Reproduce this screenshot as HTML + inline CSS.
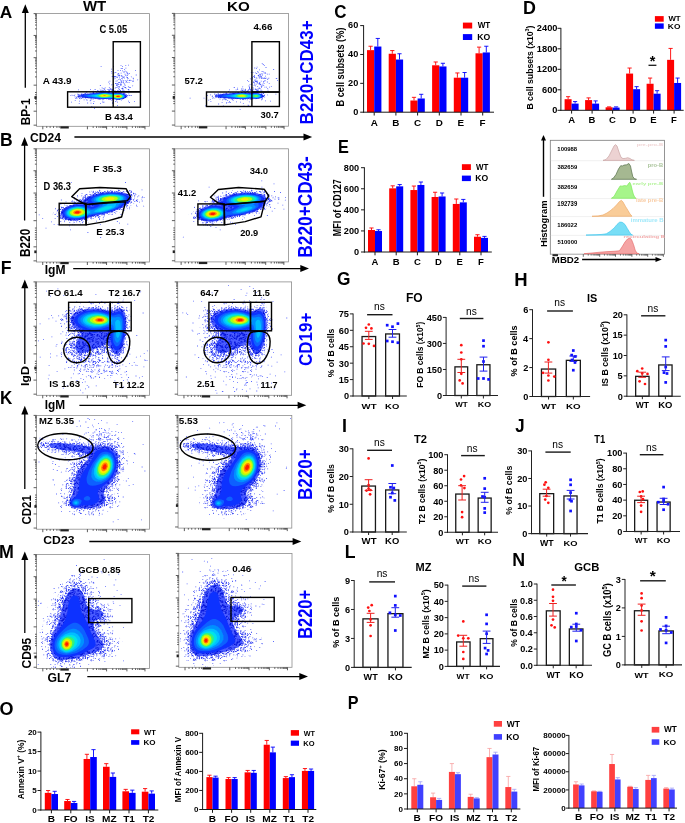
<!DOCTYPE html><html><head><meta charset="utf-8"><style>html,body{margin:0;padding:0;background:#fff;}svg{display:block;font-family:"Liberation Sans",sans-serif;will-change:transform;}</style></head><body>
<svg width="685" height="823" viewBox="0 0 685 823">
<defs><filter id="blur" x="-20%" y="-20%" width="140%" height="140%"><feGaussianBlur stdDeviation="0.35"/></filter><pattern id="p1" patternUnits="userSpaceOnUse" width="19" height="17"><path d="M12.4 0.9h0.8v0.8h-0.8zM4 3h0.8v0.8h-0.8zM3.2 13.2h0.8v0.8h-0.8zM16.8 4.5h0.8v0.8h-0.8zM14.9 14.4h0.8v0.8h-0.8zM9.3 4h0.8v0.8h-0.8zM15 3.5h0.8v0.8h-0.8zM13.5 10.2h0.8v0.8h-0.8zM16.9 3.8h0.8v0.8h-0.8zM14.5 8.4h0.8v0.8h-0.8zM4.2 2.7h0.8v0.8h-0.8zM9.1 9.4h0.8v0.8h-0.8zM3.4 0.2h0.8v0.8h-0.8zM8.6 11.8h0.8v0.8h-0.8zM16.7 10.1h0.8v0.8h-0.8zM16.7 14h0.8v0.8h-0.8zM4 14h0.8v0.8h-0.8zM13.3 4.5h0.8v0.8h-0.8zM14.5 14h0.8v0.8h-0.8zM5.4 8.5h0.8v0.8h-0.8zM1.3 9.4h0.8v0.8h-0.8zM4.3 12.4h0.8v0.8h-0.8z" fill="#1828f0"/></pattern><pattern id="p2" patternUnits="userSpaceOnUse" width="19" height="17"><path d="M3.2 5.1h0.8v0.8h-0.8zM0.3 0.5h0.8v0.8h-0.8zM9 7.6h0.8v0.8h-0.8zM2.3 4.2h0.8v0.8h-0.8zM0.1 6.2h0.8v0.8h-0.8zM10.5 6.9h0.8v0.8h-0.8zM15.2 10h0.8v0.8h-0.8zM4.8 13.1h0.8v0.8h-0.8zM9.1 12.3h0.8v0.8h-0.8zM10.3 7.1h0.8v0.8h-0.8zM7.2 0.4h0.8v0.8h-0.8zM8.5 10.1h0.8v0.8h-0.8zM17.2 7.1h0.8v0.8h-0.8zM8.8 8.4h0.8v0.8h-0.8zM7.4 9.4h0.8v0.8h-0.8zM1.3 7.9h0.8v0.8h-0.8zM11.1 12.1h0.8v0.8h-0.8zM7.8 4.9h0.8v0.8h-0.8zM0.1 12.3h0.8v0.8h-0.8zM1.4 7.9h0.8v0.8h-0.8zM5.5 13.6h0.8v0.8h-0.8zM17.3 5.2h0.8v0.8h-0.8zM16.3 5.5h0.8v0.8h-0.8zM14.8 12.9h0.8v0.8h-0.8zM11.9 3.7h0.8v0.8h-0.8zM2.5 6.9h0.8v0.8h-0.8zM2.8 14.1h0.8v0.8h-0.8zM3.3 0.5h0.8v0.8h-0.8zM10.2 6.9h0.8v0.8h-0.8zM15.6 2.6h0.8v0.8h-0.8zM6.6 10.4h0.8v0.8h-0.8zM16.9 4.2h0.8v0.8h-0.8zM12.5 2.4h0.8v0.8h-0.8zM13.5 4.7h0.8v0.8h-0.8zM4.4 3.7h0.8v0.8h-0.8zM6.7 5.3h0.8v0.8h-0.8zM11.2 8.8h0.8v0.8h-0.8zM13.6 4.8h0.8v0.8h-0.8zM17.5 8.8h0.8v0.8h-0.8zM12.4 11.1h0.8v0.8h-0.8zM2.8 2.3h0.8v0.8h-0.8zM8.4 8.5h0.8v0.8h-0.8zM5 2.9h0.8v0.8h-0.8zM9.2 10.7h0.8v0.8h-0.8zM4.2 3.5h0.8v0.8h-0.8zM17.4 11.7h0.8v0.8h-0.8zM0.6 15.9h0.8v0.8h-0.8zM0.2 4.3h0.8v0.8h-0.8zM16.7 1.3h0.8v0.8h-0.8zM15.6 2.3h0.8v0.8h-0.8zM3.3 12.7h0.8v0.8h-0.8zM16.3 7.5h0.8v0.8h-0.8zM0.7 5.1h0.8v0.8h-0.8zM0.3 5.7h0.8v0.8h-0.8zM12 4.3h0.8v0.8h-0.8z" fill="#1828f0"/></pattern><pattern id="p3" patternUnits="userSpaceOnUse" width="19" height="17"><path d="M11.8 14.9h0.9v0.9h-0.9zM8.4 3.3h0.9v0.9h-0.9zM16.7 15.2h0.9v0.9h-0.9zM2.4 14.5h0.9v0.9h-0.9zM5.3 2.1h0.9v0.9h-0.9zM2.1 12.2h0.9v0.9h-0.9zM1.6 12.3h0.9v0.9h-0.9zM4.3 6.7h0.9v0.9h-0.9zM2.6 10.5h0.9v0.9h-0.9zM8.3 6.3h0.9v0.9h-0.9zM14.6 7.4h0.9v0.9h-0.9zM12.5 12.6h0.9v0.9h-0.9zM11.1 15.5h0.9v0.9h-0.9zM10 3.5h0.9v0.9h-0.9zM9.8 3.9h0.9v0.9h-0.9zM1.5 12.2h0.9v0.9h-0.9zM4.8 5h0.9v0.9h-0.9zM17.9 6.4h0.9v0.9h-0.9zM8 14.8h0.9v0.9h-0.9zM14.3 13.8h0.9v0.9h-0.9zM8.5 3.4h0.9v0.9h-0.9zM1.2 1.3h0.9v0.9h-0.9zM2.5 4.3h0.9v0.9h-0.9zM14.1 3.7h0.9v0.9h-0.9zM7.6 7.4h0.9v0.9h-0.9zM5.6 2.8h0.9v0.9h-0.9zM4.9 13.7h0.9v0.9h-0.9zM18 6h0.9v0.9h-0.9zM8.4 5.4h0.9v0.9h-0.9zM6.6 11.1h0.9v0.9h-0.9zM13.3 5.1h0.9v0.9h-0.9zM2.6 11.4h0.9v0.9h-0.9zM8 14.8h0.9v0.9h-0.9zM7.4 0.4h0.9v0.9h-0.9zM13.1 15.9h0.9v0.9h-0.9zM8.4 15.3h0.9v0.9h-0.9zM2.9 3.4h0.9v0.9h-0.9zM6.2 6.5h0.9v0.9h-0.9zM16.3 15.7h0.9v0.9h-0.9zM9.2 11.2h0.9v0.9h-0.9zM11.4 13.9h0.9v0.9h-0.9zM2 9h0.9v0.9h-0.9zM14.6 12.5h0.9v0.9h-0.9zM13.9 15.8h0.9v0.9h-0.9zM0.5 1.7h0.9v0.9h-0.9zM2.8 9.4h0.9v0.9h-0.9zM7.8 1h0.9v0.9h-0.9zM5.1 6.3h0.9v0.9h-0.9zM9.2 12.2h0.9v0.9h-0.9zM8.9 13.3h0.9v0.9h-0.9zM9.8 5.8h0.9v0.9h-0.9zM14.6 3h0.9v0.9h-0.9zM16.1 10.8h0.9v0.9h-0.9zM17.3 3.4h0.9v0.9h-0.9zM4.2 7.4h0.9v0.9h-0.9zM2.7 0.6h0.9v0.9h-0.9zM6.4 12.1h0.9v0.9h-0.9zM16.1 3.8h0.9v0.9h-0.9zM17.1 1.3h0.9v0.9h-0.9zM1.4 11.4h0.9v0.9h-0.9zM1.2 15.6h0.9v0.9h-0.9zM5 2.1h0.9v0.9h-0.9zM13.9 6.8h0.9v0.9h-0.9zM16.3 7.9h0.9v0.9h-0.9zM0.1 2.6h0.9v0.9h-0.9zM1.8 2.9h0.9v0.9h-0.9zM4.9 1.2h0.9v0.9h-0.9zM15.9 10.8h0.9v0.9h-0.9zM8 14.5h0.9v0.9h-0.9zM11.1 11h0.9v0.9h-0.9zM12.9 7.1h0.9v0.9h-0.9zM5.3 14.3h0.9v0.9h-0.9zM6.7 7h0.9v0.9h-0.9zM5 8.9h0.9v0.9h-0.9zM9.7 7h0.9v0.9h-0.9zM6.4 8.7h0.9v0.9h-0.9zM6.9 12.5h0.9v0.9h-0.9zM2.8 11.6h0.9v0.9h-0.9zM3.8 15h0.9v0.9h-0.9zM7 5.2h0.9v0.9h-0.9zM16.3 0.8h0.9v0.9h-0.9zM17.7 15h0.9v0.9h-0.9zM12 9.2h0.9v0.9h-0.9zM9.5 1.3h0.9v0.9h-0.9zM1.6 11.1h0.9v0.9h-0.9zM17.3 8.2h0.9v0.9h-0.9zM0 13.3h0.9v0.9h-0.9zM15 5.4h0.9v0.9h-0.9zM12.3 2.3h0.9v0.9h-0.9zM3 11.5h0.9v0.9h-0.9zM9.2 9.5h0.9v0.9h-0.9zM9.5 15.1h0.9v0.9h-0.9zM14.3 14.5h0.9v0.9h-0.9zM5.3 15.8h0.9v0.9h-0.9zM14.8 1.6h0.9v0.9h-0.9zM1.6 3.1h0.9v0.9h-0.9zM6.1 3.5h0.9v0.9h-0.9zM0.9 7.2h0.9v0.9h-0.9zM4.8 7.4h0.9v0.9h-0.9zM14.2 5.2h0.9v0.9h-0.9zM0.7 13.4h0.9v0.9h-0.9zM8.9 3.9h0.9v0.9h-0.9zM16.8 11.8h0.9v0.9h-0.9zM7.6 5.6h0.9v0.9h-0.9zM1.3 4.6h0.9v0.9h-0.9zM13 1.2h0.9v0.9h-0.9zM6.8 9.5h0.9v0.9h-0.9zM13.4 12h0.9v0.9h-0.9zM5.3 5.3h0.9v0.9h-0.9zM2.8 11.7h0.9v0.9h-0.9z" fill="#1828f0"/></pattern><pattern id="p4" patternUnits="userSpaceOnUse" width="19" height="17"><rect width="19" height="17" fill="#4a5cff"/><path d="M4.8 7.7h1.0v1.0h-1.0zM16.2 0.1h1.0v1.0h-1.0zM15.4 11.8h1.0v1.0h-1.0zM11.6 6.5h1.0v1.0h-1.0zM11.2 15.2h1.0v1.0h-1.0zM1.7 1.1h1.0v1.0h-1.0zM6.1 1.6h1.0v1.0h-1.0zM16.5 12.6h1.0v1.0h-1.0zM2.9 6h1.0v1.0h-1.0zM7.5 15.3h1.0v1.0h-1.0zM5.9 7.7h1.0v1.0h-1.0zM9.5 12.5h1.0v1.0h-1.0zM15.6 10.7h1.0v1.0h-1.0zM6.5 3.7h1.0v1.0h-1.0zM7.2 9.2h1.0v1.0h-1.0zM13.8 15.4h1.0v1.0h-1.0zM15.7 12.6h1.0v1.0h-1.0zM16.2 11.1h1.0v1.0h-1.0zM17 8.2h1.0v1.0h-1.0zM1.6 11.7h1.0v1.0h-1.0zM17.1 0.5h1.0v1.0h-1.0zM11.2 4.9h1.0v1.0h-1.0zM7.3 14.7h1.0v1.0h-1.0zM6 10h1.0v1.0h-1.0zM7.6 14.8h1.0v1.0h-1.0zM6.6 1.6h1.0v1.0h-1.0zM7.5 6.5h1.0v1.0h-1.0zM15.9 5.3h1.0v1.0h-1.0zM5.3 6.5h1.0v1.0h-1.0zM12.4 6.8h1.0v1.0h-1.0zM9.4 11.4h1.0v1.0h-1.0zM0.5 2.1h1.0v1.0h-1.0zM13.1 14.5h1.0v1.0h-1.0zM15.6 11.3h1.0v1.0h-1.0zM17.7 13.6h1.0v1.0h-1.0zM12.5 10.2h1.0v1.0h-1.0zM15.4 14.1h1.0v1.0h-1.0zM4.9 13.7h1.0v1.0h-1.0zM10.6 0h1.0v1.0h-1.0zM3.5 12.5h1.0v1.0h-1.0zM6.2 13.5h1.0v1.0h-1.0zM10.8 15.8h1.0v1.0h-1.0zM13.7 1.5h1.0v1.0h-1.0zM15.1 10.6h1.0v1.0h-1.0zM4 8.3h1.0v1.0h-1.0zM2.9 6h1.0v1.0h-1.0zM13.4 7.3h1.0v1.0h-1.0zM11.9 14.4h1.0v1.0h-1.0zM12.6 1.5h1.0v1.0h-1.0zM7.4 5.1h1.0v1.0h-1.0zM8.6 14.3h1.0v1.0h-1.0zM6.2 11.9h1.0v1.0h-1.0zM8.4 13.4h1.0v1.0h-1.0zM4.2 8.4h1.0v1.0h-1.0zM11.4 6h1.0v1.0h-1.0zM10.1 4.7h1.0v1.0h-1.0zM17.8 11h1.0v1.0h-1.0zM11.3 15h1.0v1.0h-1.0zM7.9 15.7h1.0v1.0h-1.0zM1.6 15.8h1.0v1.0h-1.0zM13 9.3h1.0v1.0h-1.0zM6.4 3.2h1.0v1.0h-1.0zM17.7 3.8h1.0v1.0h-1.0zM15.8 0.9h1.0v1.0h-1.0zM14.4 13.9h1.0v1.0h-1.0zM4.4 15.6h1.0v1.0h-1.0zM6.7 2.5h1.0v1.0h-1.0zM7.6 15.6h1.0v1.0h-1.0zM2 11.1h1.0v1.0h-1.0zM2.4 11h1.0v1.0h-1.0zM2.8 15.1h1.0v1.0h-1.0zM16.4 15.8h1.0v1.0h-1.0zM15.8 6.2h1.0v1.0h-1.0zM8.4 5h1.0v1.0h-1.0zM8.9 3.8h1.0v1.0h-1.0zM17.3 6.7h1.0v1.0h-1.0zM6 15h1.0v1.0h-1.0zM6.3 6.7h1.0v1.0h-1.0zM11.3 11.7h1.0v1.0h-1.0zM7.7 3.6h1.0v1.0h-1.0zM11.2 2.7h1.0v1.0h-1.0zM11.1 10.3h1.0v1.0h-1.0zM11.5 5.6h1.0v1.0h-1.0zM7.1 4.2h1.0v1.0h-1.0zM14.2 11.5h1.0v1.0h-1.0zM12.4 15.5h1.0v1.0h-1.0zM16 6.9h1.0v1.0h-1.0zM13.6 10.3h1.0v1.0h-1.0zM9.7 2.2h1.0v1.0h-1.0zM8.9 3.5h1.0v1.0h-1.0zM14.6 11.8h1.0v1.0h-1.0zM3.2 1.4h1.0v1.0h-1.0zM2 12.5h1.0v1.0h-1.0zM16.9 4.6h1.0v1.0h-1.0zM2 11.3h1.0v1.0h-1.0zM9.4 9.7h1.0v1.0h-1.0zM9 13h1.0v1.0h-1.0zM10.5 12.8h1.0v1.0h-1.0zM11.8 11h1.0v1.0h-1.0zM13.3 9.3h1.0v1.0h-1.0zM6.5 6.3h1.0v1.0h-1.0zM0.4 0.6h1.0v1.0h-1.0zM8.4 12.8h1.0v1.0h-1.0zM12.7 6.2h1.0v1.0h-1.0zM8.6 13.4h1.0v1.0h-1.0zM14.2 9.8h1.0v1.0h-1.0zM15.3 15.7h1.0v1.0h-1.0zM11.2 15.5h1.0v1.0h-1.0zM1.4 12.4h1.0v1.0h-1.0zM1.7 3.5h1.0v1.0h-1.0zM6.1 1.9h1.0v1.0h-1.0zM12.9 5.6h1.0v1.0h-1.0zM3 3.4h1.0v1.0h-1.0zM0.4 15.4h1.0v1.0h-1.0zM17.1 4.1h1.0v1.0h-1.0zM12.6 0.7h1.0v1.0h-1.0zM6.3 10.8h1.0v1.0h-1.0zM4.1 5.4h1.0v1.0h-1.0zM2.4 2.4h1.0v1.0h-1.0zM0.1 5.4h1.0v1.0h-1.0zM7.7 6.8h1.0v1.0h-1.0zM5.1 8.5h1.0v1.0h-1.0zM0.5 6.5h1.0v1.0h-1.0zM11 12.2h1.0v1.0h-1.0zM17.9 7h1.0v1.0h-1.0zM16.9 14.7h1.0v1.0h-1.0zM2.5 8h1.0v1.0h-1.0zM4 12.7h1.0v1.0h-1.0zM13.2 15.6h1.0v1.0h-1.0zM1.1 6.9h1.0v1.0h-1.0z" fill="#0010d8"/></pattern><filter id="blur06" x="-20%" y="-20%" width="140%" height="140%"><feGaussianBlur stdDeviation="0.6"/></filter></defs>
<rect width="685" height="823" fill="#fff"/>
<text transform="translate(-0.23,17.7) scale(0.9955,1)" font-size="17.39" font-weight="bold" fill="#000">A</text>
<text transform="translate(-0.04,146.2) scale(1.0003,1)" font-size="17.54" font-weight="bold" fill="#000">B</text>
<text transform="translate(334.32,18.02) scale(0.9474,1)" font-size="17.89" font-weight="bold" fill="#000">C</text>
<text transform="translate(523.04,13.5) scale(0.9953,1)" font-size="17.97" font-weight="bold" fill="#000">D</text>
<text transform="translate(337.94,152.7) scale(0.8988,1)" font-size="18.12" font-weight="bold" fill="#000">E</text>
<text transform="translate(0.85,274) scale(0.9513,1)" font-size="18.55" font-weight="bold" fill="#000">F</text>
<text transform="translate(336.91,284.53) scale(0.9925,1)" font-size="17.46" font-weight="bold" fill="#000">G</text>
<text transform="translate(514.2,286) scale(1.0449,1)" font-size="17.68" font-weight="bold" fill="#000">H</text>
<text transform="translate(341.93,431.7) scale(0.9898,1)" font-size="18.12" font-weight="bold" fill="#000">I</text>
<text transform="translate(515.15,431.72) scale(0.9283,1)" font-size="18.14" font-weight="bold" fill="#000">J</text>
<text transform="translate(-0.11,404.3) scale(0.9414,1)" font-size="18.12" font-weight="bold" fill="#000">K</text>
<text transform="translate(344.75,557.9) scale(0.9676,1)" font-size="18.26" font-weight="bold" fill="#000">L</text>
<text transform="translate(-0.96,557.9) scale(0.9937,1)" font-size="17.97" font-weight="bold" fill="#000">M</text>
<text transform="translate(512.14,565.9) scale(0.9746,1)" font-size="18.26" font-weight="bold" fill="#000">N</text>
<text transform="translate(-0.52,715.42) scale(1.0216,1)" font-size="17.61" font-weight="bold" fill="#000">O</text>
<text transform="translate(347.75,708.8) scale(0.8769,1)" font-size="18.41" font-weight="bold" fill="#000">P</text>
<text transform="translate(82.9,10.9) scale(1.0859,1)" font-size="13.77" font-weight="bold" fill="#000">WT</text>
<text transform="translate(227.11,11.07) scale(1.1715,1)" font-size="12.96" font-weight="bold" fill="#000">KO</text>
<text transform="translate(406.02,301.57) scale(0.9598,1)" font-size="12.54" font-weight="bold" fill="#000">FO</text>
<text transform="translate(586.89,301.58) scale(0.9427,1)" font-size="11.55" font-weight="bold" fill="#000">IS</text>
<text transform="translate(414.09,442.6) scale(0.9854,1)" font-size="11.29" font-weight="bold" fill="#000">T2</text>
<text transform="translate(594.21,442.6) scale(0.8270,1)" font-size="11.45" font-weight="bold" fill="#000">T1</text>
<text transform="translate(415.49,571.4) scale(0.9604,1)" font-size="11.45" font-weight="bold" fill="#000">MZ</text>
<text transform="translate(574.25,571.29) scale(1.0145,1)" font-size="11.13" font-weight="bold" fill="#000">GCB</text>
<text transform="translate(313.31,124.41) rotate(-90) scale(0.8886,1)" font-size="19.15" font-weight="bold" fill="#0000ff">B220+CD43+</text>
<text transform="translate(312.11,257.63) rotate(-90) scale(0.8970,1)" font-size="19.3" font-weight="bold" fill="#0000ff">B220+CD43-</text>
<text transform="translate(311.81,366.08) rotate(-90) scale(0.9158,1)" font-size="18.59" font-weight="bold" fill="#0000ff">CD19+</text>
<text transform="translate(311.81,500.11) rotate(-90) scale(0.8848,1)" font-size="19.3" font-weight="bold" fill="#0000ff">B220+</text>
<text transform="translate(311.81,638.77) rotate(-90) scale(0.8505,1)" font-size="19.3" font-weight="bold" fill="#0000ff">B220+</text>
<text transform="translate(29.6,125.37) rotate(-90) scale(0.9816,1)" font-size="12.03" font-weight="bold" fill="#000">BP-1</text>
<text transform="translate(30.12,141.77) scale(0.9662,1)" font-size="12.54" font-weight="bold" fill="#000">CD24</text>
<text transform="translate(30.26,256.97) rotate(-90) scale(0.8474,1)" font-size="13.94" font-weight="bold" fill="#000">B220</text>
<text transform="translate(44.71,274.06) scale(1.0023,1)" font-size="12.11" font-weight="bold" fill="#000">IgM</text>
<text transform="translate(28.67,386.1) rotate(-90) scale(1.1123,1)" font-size="11.11" font-weight="bold" fill="#000">IgD</text>
<text transform="translate(44.73,409.06) scale(0.9763,1)" font-size="12.11" font-weight="bold" fill="#000">IgM</text>
<text transform="translate(30.66,524.46) rotate(-90) scale(0.8495,1)" font-size="13.52" font-weight="bold" fill="#000">CD21</text>
<text transform="translate(43.31,544.28) scale(1.0417,1)" font-size="11.69" font-weight="bold" fill="#000">CD23</text>
<text transform="translate(30.66,668.48) rotate(-90) scale(0.8851,1)" font-size="13.52" font-weight="bold" fill="#000">CD95</text>
<text transform="translate(47.61,682.38) scale(0.9977,1)" font-size="12.25" font-weight="bold" fill="#000">GL7</text>
<line x1="25.3" y1="10.2" x2="25.3" y2="87.7" stroke="#000" stroke-width="1.3"/>
<polygon points="25.3,4.2 21.8,12.9 28.8,12.9" fill="#000"/>
<line x1="74.4" y1="137" x2="306.2" y2="137" stroke="#000" stroke-width="1.3"/>
<polygon points="312.2,137 303.5,133.5 303.5,140.5" fill="#000"/>
<line x1="24.6" y1="143" x2="24.6" y2="220.5" stroke="#000" stroke-width="1.3"/>
<polygon points="24.6,137 21.1,145.7 28.1,145.7" fill="#000"/>
<line x1="73.2" y1="268.6" x2="303" y2="268.6" stroke="#000" stroke-width="1.3"/>
<polygon points="309,268.6 300.3,265.1 300.3,272.1" fill="#000"/>
<line x1="24.8" y1="285.5" x2="24.8" y2="364" stroke="#000" stroke-width="1.3"/>
<polygon points="24.8,279.5 21.3,288.2 28.3,288.2" fill="#000"/>
<line x1="79.4" y1="405.3" x2="300.3" y2="405.3" stroke="#000" stroke-width="1.3"/>
<polygon points="306.3,405.3 297.6,401.8 297.6,408.8" fill="#000"/>
<line x1="24.8" y1="411.8" x2="24.8" y2="489" stroke="#000" stroke-width="1.3"/>
<polygon points="24.8,405.8 21.3,414.5 28.3,414.5" fill="#000"/>
<line x1="89.3" y1="541.5" x2="295.3" y2="541.5" stroke="#000" stroke-width="1.3"/>
<polygon points="301.3,541.5 292.6,538 292.6,545" fill="#000"/>
<line x1="24.8" y1="557.4" x2="24.8" y2="633" stroke="#000" stroke-width="1.3"/>
<polygon points="24.8,551.4 21.3,560.1 28.3,560.1" fill="#000"/>
<line x1="87.3" y1="676.6" x2="302" y2="676.6" stroke="#000" stroke-width="1.3"/>
<polygon points="308,676.6 299.3,673.1 299.3,680.1" fill="#000"/>
<rect x="36.6" y="13.6" width="112.9" height="112.7" fill="none" stroke="#8c8c8c" stroke-width="0.8"/>
<path d="M36.6 13.6h-3M36.6 28.88h-1.6M36.6 25.03h-1.6M36.6 22.3h-1.6M36.6 20.18h-1.6M36.6 18.45h-1.6M36.6 16.99h-1.6M36.6 15.72h-1.6M36.6 14.6h-1.6M36.6 35.46h-3M36.6 50.98h-1.6M36.6 47.07h-1.6M36.6 44.3h-1.6M36.6 42.15h-1.6M36.6 40.39h-1.6M36.6 38.9h-1.6M36.6 37.62h-1.6M36.6 36.48h-1.6M36.6 57.67h-3M36.6 76.89h-1.6M36.6 72.04h-1.6M36.6 68.61h-1.6M36.6 65.94h-1.6M36.6 63.77h-1.6M36.6 61.93h-1.6M36.6 60.33h-1.6M36.6 58.92h-1.6M36.6 85.16h-3M36.6 111.2h-3M36.6 125.17h-3M36.6 92.49h-1.6M36.6 94.74h-1.6M36.6 97h-1.6M36.6 99.25h-1.6M36.6 101.51h-1.6M36.6 103.76h-1.6" stroke="#333" stroke-width="0.8" fill="none"/>
<rect x="34.4" y="96.21" width="2.2" height="2.7" fill="#222"/>
<path d="M106.6 126.3v3M93.18 126.3v1.6M96.56 126.3v1.6M98.96 126.3v1.6M100.82 126.3v1.6M102.34 126.3v1.6M103.62 126.3v1.6M104.74 126.3v1.6M105.72 126.3v1.6M126.92 126.3v3M112.72 126.3v1.6M116.29 126.3v1.6M118.83 126.3v1.6M120.8 126.3v1.6M122.41 126.3v1.6M123.77 126.3v1.6M124.95 126.3v1.6M125.99 126.3v1.6M144.98 126.3v3M132.36 126.3v1.6M135.54 126.3v1.6M137.8 126.3v1.6M139.55 126.3v1.6M140.98 126.3v1.6M142.19 126.3v1.6M143.23 126.3v1.6M144.16 126.3v1.6M42.81 126.3v3M46.76 126.3v1.6M50.15 126.3v1.6M53.53 126.3v1.6M56.92 126.3v1.6M59.18 126.3v1.6M87.41 126.3v3" stroke="#333" stroke-width="0.8" fill="none"/>
<rect x="60.31" y="126.3" width="8.47" height="2.2" fill="#222"/>
<rect x="174.9" y="13.4" width="113.7" height="112.8" fill="none" stroke="#8c8c8c" stroke-width="0.8"/>
<path d="M174.9 13.4h-3M174.9 28.7h-1.6M174.9 24.84h-1.6M174.9 22.11h-1.6M174.9 19.99h-1.6M174.9 18.25h-1.6M174.9 16.79h-1.6M174.9 15.52h-1.6M174.9 14.4h-1.6M174.9 35.28h-3M174.9 50.82h-1.6M174.9 46.9h-1.6M174.9 44.13h-1.6M174.9 41.97h-1.6M174.9 40.21h-1.6M174.9 38.73h-1.6M174.9 37.44h-1.6M174.9 36.3h-1.6M174.9 57.5h-3M174.9 76.74h-1.6M174.9 71.9h-1.6M174.9 68.46h-1.6M174.9 65.79h-1.6M174.9 63.61h-1.6M174.9 61.77h-1.6M174.9 60.17h-1.6M174.9 58.76h-1.6M174.9 85.03h-3M174.9 111.08h-3M174.9 125.07h-3M174.9 92.36h-1.6M174.9 94.62h-1.6M174.9 96.87h-1.6M174.9 99.13h-1.6M174.9 101.38h-1.6M174.9 103.64h-1.6" stroke="#333" stroke-width="0.8" fill="none"/>
<rect x="172.7" y="96.08" width="2.2" height="2.71" fill="#222"/>
<path d="M245.39 126.2v3M231.88 126.2v1.6M235.29 126.2v1.6M237.7 126.2v1.6M239.58 126.2v1.6M241.11 126.2v1.6M242.4 126.2v1.6M243.52 126.2v1.6M244.51 126.2v1.6M265.86 126.2v3M251.55 126.2v1.6M255.16 126.2v1.6M257.72 126.2v1.6M259.7 126.2v1.6M261.32 126.2v1.6M262.69 126.2v1.6M263.88 126.2v1.6M264.92 126.2v1.6M284.05 126.2v3M271.34 126.2v1.6M274.54 126.2v1.6M276.81 126.2v1.6M278.58 126.2v1.6M280.02 126.2v1.6M281.23 126.2v1.6M282.29 126.2v1.6M283.22 126.2v1.6M181.15 126.2v3M185.13 126.2v1.6M188.54 126.2v1.6M191.96 126.2v1.6M195.37 126.2v1.6M197.64 126.2v1.6M226.06 126.2v3" stroke="#333" stroke-width="0.8" fill="none"/>
<rect x="198.78" y="126.2" width="8.53" height="2.2" fill="#222"/>
<rect x="36.5" y="148.8" width="113" height="113.2" fill="none" stroke="#8c8c8c" stroke-width="0.8"/>
<path d="M36.5 148.8h-3M36.5 164.15h-1.6M36.5 160.28h-1.6M36.5 157.54h-1.6M36.5 155.41h-1.6M36.5 153.67h-1.6M36.5 152.2h-1.6M36.5 150.93h-1.6M36.5 149.8h-1.6M36.5 170.76h-3M36.5 186.35h-1.6M36.5 182.42h-1.6M36.5 179.64h-1.6M36.5 177.47h-1.6M36.5 175.71h-1.6M36.5 174.22h-1.6M36.5 172.92h-1.6M36.5 171.78h-1.6M36.5 193.06h-3M36.5 212.37h-1.6M36.5 207.5h-1.6M36.5 204.05h-1.6M36.5 201.38h-1.6M36.5 199.19h-1.6M36.5 197.34h-1.6M36.5 195.74h-1.6M36.5 194.33h-1.6M36.5 220.68h-3M36.5 246.83h-3M36.5 260.87h-3M36.5 228.04h-1.6M36.5 230.3h-1.6M36.5 232.57h-1.6M36.5 234.83h-1.6M36.5 237.1h-1.6M36.5 239.36h-1.6" stroke="#333" stroke-width="0.8" fill="none"/>
<rect x="34.3" y="250.45" width="2.2" height="2.72" fill="#222"/>
<path d="M106.56 262v3M93.13 262v1.6M96.52 262v1.6M98.92 262v1.6M100.78 262v1.6M102.3 262v1.6M103.58 262v1.6M104.7 262v1.6M105.68 262v1.6M126.9 262v3M112.68 262v1.6M116.26 262v1.6M118.81 262v1.6M120.78 262v1.6M122.39 262v1.6M123.75 262v1.6M124.93 262v1.6M125.97 262v1.6M144.98 262v3M132.34 262v1.6M135.53 262v1.6M137.79 262v1.6M139.54 262v1.6M140.97 262v1.6M142.18 262v1.6M143.23 262v1.6M144.15 262v1.6M42.72 262v3M46.67 262v1.6M50.06 262v1.6M53.45 262v1.6M56.84 262v1.6M59.1 262v1.6M87.35 262v3" stroke="#333" stroke-width="0.8" fill="none"/>
<rect x="60.23" y="262" width="8.47" height="2.2" fill="#222"/>
<rect x="174.9" y="148.8" width="113.5" height="113.1" fill="none" stroke="#8c8c8c" stroke-width="0.8"/>
<path d="M174.9 148.8h-3M174.9 164.14h-1.6M174.9 160.27h-1.6M174.9 157.53h-1.6M174.9 155.41h-1.6M174.9 153.67h-1.6M174.9 152.2h-1.6M174.9 150.93h-1.6M174.9 149.8h-1.6M174.9 170.74h-3M174.9 186.31h-1.6M174.9 182.39h-1.6M174.9 179.61h-1.6M174.9 177.45h-1.6M174.9 175.68h-1.6M174.9 174.19h-1.6M174.9 172.9h-1.6M174.9 171.76h-1.6M174.9 193.02h-3M174.9 212.31h-1.6M174.9 207.45h-1.6M174.9 204h-1.6M174.9 201.33h-1.6M174.9 199.14h-1.6M174.9 197.3h-1.6M174.9 195.7h-1.6M174.9 194.28h-1.6M174.9 220.62h-3M174.9 246.74h-3M174.9 260.77h-3M174.9 227.97h-1.6M174.9 230.23h-1.6M174.9 232.49h-1.6M174.9 234.76h-1.6M174.9 237.02h-1.6M174.9 239.28h-1.6" stroke="#333" stroke-width="0.8" fill="none"/>
<rect x="172.7" y="250.36" width="2.2" height="2.71" fill="#222"/>
<path d="M245.27 261.9v3M231.78 261.9v1.6M235.18 261.9v1.6M237.59 261.9v1.6M239.46 261.9v1.6M240.99 261.9v1.6M242.28 261.9v1.6M243.4 261.9v1.6M244.39 261.9v1.6M265.7 261.9v3M251.42 261.9v1.6M255.02 261.9v1.6M257.57 261.9v1.6M259.55 261.9v1.6M261.17 261.9v1.6M262.54 261.9v1.6M263.72 261.9v1.6M264.77 261.9v1.6M283.86 261.9v3M271.17 261.9v1.6M274.36 261.9v1.6M276.63 261.9v1.6M278.39 261.9v1.6M279.83 261.9v1.6M281.05 261.9v1.6M282.1 261.9v1.6M283.03 261.9v1.6M181.14 261.9v3M185.12 261.9v1.6M188.52 261.9v1.6M191.93 261.9v1.6M195.33 261.9v1.6M197.6 261.9v1.6M225.97 261.9v3" stroke="#333" stroke-width="0.8" fill="none"/>
<rect x="198.74" y="261.9" width="8.51" height="2.2" fill="#222"/>
<rect x="36.5" y="281.9" width="113" height="113.4" fill="none" stroke="#8c8c8c" stroke-width="0.8"/>
<path d="M36.5 281.9h-3M36.5 297.28h-1.6M36.5 293.4h-1.6M36.5 290.65h-1.6M36.5 288.52h-1.6M36.5 286.78h-1.6M36.5 285.31h-1.6M36.5 284.03h-1.6M36.5 282.91h-1.6M36.5 303.9h-3M36.5 319.51h-1.6M36.5 315.58h-1.6M36.5 312.79h-1.6M36.5 310.62h-1.6M36.5 308.86h-1.6M36.5 307.36h-1.6M36.5 306.06h-1.6M36.5 304.92h-1.6M36.5 326.24h-3M36.5 345.58h-1.6M36.5 340.71h-1.6M36.5 337.25h-1.6M36.5 334.57h-1.6M36.5 332.38h-1.6M36.5 330.53h-1.6M36.5 328.92h-1.6M36.5 327.51h-1.6M36.5 353.91h-3M36.5 380.1h-3M36.5 394.17h-3M36.5 361.28h-1.6M36.5 363.55h-1.6M36.5 365.82h-1.6M36.5 368.08h-1.6M36.5 370.35h-1.6M36.5 372.62h-1.6" stroke="#333" stroke-width="0.8" fill="none"/>
<rect x="34.3" y="366.72" width="2.2" height="2.72" fill="#222"/>
<path d="M106.56 395.3v3M93.13 395.3v1.6M96.52 395.3v1.6M98.92 395.3v1.6M100.78 395.3v1.6M102.3 395.3v1.6M103.58 395.3v1.6M104.7 395.3v1.6M105.68 395.3v1.6M126.9 395.3v3M112.68 395.3v1.6M116.26 395.3v1.6M118.81 395.3v1.6M120.78 395.3v1.6M122.39 395.3v1.6M123.75 395.3v1.6M124.93 395.3v1.6M125.97 395.3v1.6M144.98 395.3v3M132.34 395.3v1.6M135.53 395.3v1.6M137.79 395.3v1.6M139.54 395.3v1.6M140.97 395.3v1.6M142.18 395.3v1.6M143.23 395.3v1.6M144.15 395.3v1.6M42.72 395.3v3M46.67 395.3v1.6M50.06 395.3v1.6M53.45 395.3v1.6M56.84 395.3v1.6M59.1 395.3v1.6M87.35 395.3v3" stroke="#333" stroke-width="0.8" fill="none"/>
<rect x="60.23" y="395.3" width="8.47" height="2.2" fill="#222"/>
<rect x="177.7" y="281.9" width="113.9" height="113.4" fill="none" stroke="#8c8c8c" stroke-width="0.8"/>
<path d="M177.7 281.9h-3M177.7 297.28h-1.6M177.7 293.4h-1.6M177.7 290.65h-1.6M177.7 288.52h-1.6M177.7 286.78h-1.6M177.7 285.31h-1.6M177.7 284.03h-1.6M177.7 282.91h-1.6M177.7 303.9h-3M177.7 319.51h-1.6M177.7 315.58h-1.6M177.7 312.79h-1.6M177.7 310.62h-1.6M177.7 308.86h-1.6M177.7 307.36h-1.6M177.7 306.06h-1.6M177.7 304.92h-1.6M177.7 326.24h-3M177.7 345.58h-1.6M177.7 340.71h-1.6M177.7 337.25h-1.6M177.7 334.57h-1.6M177.7 332.38h-1.6M177.7 330.53h-1.6M177.7 328.92h-1.6M177.7 327.51h-1.6M177.7 353.91h-3M177.7 380.1h-3M177.7 394.17h-3M177.7 361.28h-1.6M177.7 363.55h-1.6M177.7 365.82h-1.6M177.7 368.08h-1.6M177.7 370.35h-1.6M177.7 372.62h-1.6" stroke="#333" stroke-width="0.8" fill="none"/>
<rect x="175.5" y="366.72" width="2.2" height="2.72" fill="#222"/>
<path d="M248.32 395.3v3M234.78 395.3v1.6M238.19 395.3v1.6M240.61 395.3v1.6M242.49 395.3v1.6M244.02 395.3v1.6M245.32 395.3v1.6M246.44 395.3v1.6M247.43 395.3v1.6M268.82 395.3v3M254.49 395.3v1.6M258.1 395.3v1.6M260.66 395.3v1.6M262.65 395.3v1.6M264.27 395.3v1.6M265.64 395.3v1.6M266.83 395.3v1.6M267.88 395.3v1.6M287.04 395.3v3M274.31 395.3v1.6M277.52 395.3v1.6M279.79 395.3v1.6M281.56 395.3v1.6M283 395.3v1.6M284.22 395.3v1.6M285.28 395.3v1.6M286.21 395.3v1.6M183.96 395.3v3M187.95 395.3v1.6M191.37 395.3v1.6M194.78 395.3v1.6M198.2 395.3v1.6M200.48 395.3v1.6M228.96 395.3v3" stroke="#333" stroke-width="0.8" fill="none"/>
<rect x="201.62" y="395.3" width="8.54" height="2.2" fill="#222"/>
<rect x="36.6" y="415.4" width="112.9" height="113.8" fill="none" stroke="#8c8c8c" stroke-width="0.8"/>
<path d="M36.6 415.4h-3M36.6 430.83h-1.6M36.6 426.94h-1.6M36.6 424.19h-1.6M36.6 422.05h-1.6M36.6 420.3h-1.6M36.6 418.82h-1.6M36.6 417.54h-1.6M36.6 416.41h-1.6M36.6 437.48h-3M36.6 453.15h-1.6M36.6 449.2h-1.6M36.6 446.4h-1.6M36.6 444.23h-1.6M36.6 442.45h-1.6M36.6 440.95h-1.6M36.6 439.65h-1.6M36.6 438.5h-1.6M36.6 459.9h-3M36.6 479.3h-1.6M36.6 474.41h-1.6M36.6 470.95h-1.6M36.6 468.25h-1.6M36.6 466.06h-1.6M36.6 464.2h-1.6M36.6 462.59h-1.6M36.6 461.17h-1.6M36.6 487.66h-3M36.6 513.95h-3M36.6 528.06h-3M36.6 495.06h-1.6M36.6 497.34h-1.6M36.6 499.61h-1.6M36.6 501.89h-1.6M36.6 504.16h-1.6M36.6 506.44h-1.6" stroke="#333" stroke-width="0.8" fill="none"/>
<rect x="34.4" y="505.07" width="2.2" height="2.73" fill="#222"/>
<path d="M106.6 529.2v3M93.18 529.2v1.6M96.56 529.2v1.6M98.96 529.2v1.6M100.82 529.2v1.6M102.34 529.2v1.6M103.62 529.2v1.6M104.74 529.2v1.6M105.72 529.2v1.6M126.92 529.2v3M112.72 529.2v1.6M116.29 529.2v1.6M118.83 529.2v1.6M120.8 529.2v1.6M122.41 529.2v1.6M123.77 529.2v1.6M124.95 529.2v1.6M125.99 529.2v1.6M144.98 529.2v3M132.36 529.2v1.6M135.54 529.2v1.6M137.8 529.2v1.6M139.55 529.2v1.6M140.98 529.2v1.6M142.19 529.2v1.6M143.23 529.2v1.6M144.16 529.2v1.6M42.81 529.2v3M46.76 529.2v1.6M50.15 529.2v1.6M53.53 529.2v1.6M56.92 529.2v1.6M59.18 529.2v1.6M87.41 529.2v3" stroke="#333" stroke-width="0.8" fill="none"/>
<rect x="60.31" y="529.2" width="8.47" height="2.2" fill="#222"/>
<rect x="178.1" y="415.4" width="113.7" height="112.7" fill="none" stroke="#8c8c8c" stroke-width="0.8"/>
<path d="M178.1 415.4h-3M178.1 430.68h-1.6M178.1 426.83h-1.6M178.1 424.1h-1.6M178.1 421.98h-1.6M178.1 420.25h-1.6M178.1 418.79h-1.6M178.1 417.52h-1.6M178.1 416.4h-1.6M178.1 437.26h-3M178.1 452.78h-1.6M178.1 448.87h-1.6M178.1 446.1h-1.6M178.1 443.95h-1.6M178.1 442.19h-1.6M178.1 440.7h-1.6M178.1 439.42h-1.6M178.1 438.28h-1.6M178.1 459.47h-3M178.1 478.69h-1.6M178.1 473.84h-1.6M178.1 470.41h-1.6M178.1 467.74h-1.6M178.1 465.57h-1.6M178.1 463.73h-1.6M178.1 462.13h-1.6M178.1 460.72h-1.6M178.1 486.96h-3M178.1 513h-3M178.1 526.97h-3M178.1 494.29h-1.6M178.1 496.54h-1.6M178.1 498.8h-1.6M178.1 501.05h-1.6M178.1 503.31h-1.6M178.1 505.56h-1.6" stroke="#333" stroke-width="0.8" fill="none"/>
<rect x="175.9" y="504.21" width="2.2" height="2.7" fill="#222"/>
<path d="M248.59 528.1v3M235.08 528.1v1.6M238.49 528.1v1.6M240.9 528.1v1.6M242.78 528.1v1.6M244.31 528.1v1.6M245.6 528.1v1.6M246.72 528.1v1.6M247.71 528.1v1.6M269.06 528.1v3M254.75 528.1v1.6M258.36 528.1v1.6M260.92 528.1v1.6M262.9 528.1v1.6M264.52 528.1v1.6M265.89 528.1v1.6M267.08 528.1v1.6M268.12 528.1v1.6M287.25 528.1v3M274.54 528.1v1.6M277.74 528.1v1.6M280.01 528.1v1.6M281.78 528.1v1.6M283.22 528.1v1.6M284.43 528.1v1.6M285.49 528.1v1.6M286.42 528.1v1.6M184.35 528.1v3M188.33 528.1v1.6M191.74 528.1v1.6M195.16 528.1v1.6M198.57 528.1v1.6M200.84 528.1v1.6M229.26 528.1v3" stroke="#333" stroke-width="0.8" fill="none"/>
<rect x="201.98" y="528.1" width="8.53" height="2.2" fill="#222"/>
<rect x="36.6" y="554.6" width="112.9" height="113.8" fill="none" stroke="#8c8c8c" stroke-width="0.8"/>
<path d="M36.6 554.6h-3M36.6 570.03h-1.6M36.6 566.14h-1.6M36.6 563.39h-1.6M36.6 561.25h-1.6M36.6 559.5h-1.6M36.6 558.02h-1.6M36.6 556.74h-1.6M36.6 555.61h-1.6M36.6 576.68h-3M36.6 592.35h-1.6M36.6 588.4h-1.6M36.6 585.6h-1.6M36.6 583.43h-1.6M36.6 581.65h-1.6M36.6 580.15h-1.6M36.6 578.85h-1.6M36.6 577.7h-1.6M36.6 599.1h-3M36.6 618.5h-1.6M36.6 613.61h-1.6M36.6 610.15h-1.6M36.6 607.45h-1.6M36.6 605.26h-1.6M36.6 603.4h-1.6M36.6 601.79h-1.6M36.6 600.37h-1.6M36.6 626.86h-3M36.6 653.15h-3M36.6 667.26h-3M36.6 634.26h-1.6M36.6 636.54h-1.6M36.6 638.81h-1.6M36.6 641.09h-1.6M36.6 643.36h-1.6M36.6 645.64h-1.6" stroke="#333" stroke-width="0.8" fill="none"/>
<rect x="34.4" y="655.65" width="2.2" height="2.73" fill="#222"/>
<path d="M106.6 668.4v3M93.18 668.4v1.6M96.56 668.4v1.6M98.96 668.4v1.6M100.82 668.4v1.6M102.34 668.4v1.6M103.62 668.4v1.6M104.74 668.4v1.6M105.72 668.4v1.6M126.92 668.4v3M112.72 668.4v1.6M116.29 668.4v1.6M118.83 668.4v1.6M120.8 668.4v1.6M122.41 668.4v1.6M123.77 668.4v1.6M124.95 668.4v1.6M125.99 668.4v1.6M144.98 668.4v3M132.36 668.4v1.6M135.54 668.4v1.6M137.8 668.4v1.6M139.55 668.4v1.6M140.98 668.4v1.6M142.19 668.4v1.6M143.23 668.4v1.6M144.16 668.4v1.6M42.81 668.4v3M46.76 668.4v1.6M50.15 668.4v1.6M53.53 668.4v1.6M56.92 668.4v1.6M59.18 668.4v1.6M87.41 668.4v3" stroke="#333" stroke-width="0.8" fill="none"/>
<rect x="60.31" y="668.4" width="8.47" height="2.2" fill="#222"/>
<rect x="178.8" y="553.4" width="113.2" height="113.9" fill="none" stroke="#8c8c8c" stroke-width="0.8"/>
<path d="M178.8 553.4h-3M178.8 568.84h-1.6M178.8 564.95h-1.6M178.8 562.19h-1.6M178.8 560.05h-1.6M178.8 558.3h-1.6M178.8 556.82h-1.6M178.8 555.54h-1.6M178.8 554.41h-1.6M178.8 575.5h-3M178.8 591.18h-1.6M178.8 587.23h-1.6M178.8 584.43h-1.6M178.8 582.25h-1.6M178.8 580.47h-1.6M178.8 578.97h-1.6M178.8 577.67h-1.6M178.8 576.52h-1.6M178.8 597.93h-3M178.8 617.36h-1.6M178.8 612.47h-1.6M178.8 608.99h-1.6M178.8 606.3h-1.6M178.8 604.1h-1.6M178.8 602.24h-1.6M178.8 600.63h-1.6M178.8 599.21h-1.6M178.8 625.73h-3M178.8 652.04h-3M178.8 666.16h-3M178.8 633.13h-1.6M178.8 635.41h-1.6M178.8 637.69h-1.6M178.8 639.96h-1.6M178.8 642.24h-1.6M178.8 644.52h-1.6" stroke="#333" stroke-width="0.8" fill="none"/>
<rect x="176.6" y="654.54" width="2.2" height="2.73" fill="#222"/>
<path d="M248.98 667.3v3M235.53 667.3v1.6M238.92 667.3v1.6M241.33 667.3v1.6M243.19 667.3v1.6M244.71 667.3v1.6M246 667.3v1.6M247.12 667.3v1.6M248.1 667.3v1.6M269.36 667.3v3M255.12 667.3v1.6M258.71 667.3v1.6M261.25 667.3v1.6M263.23 667.3v1.6M264.84 667.3v1.6M266.2 667.3v1.6M267.39 667.3v1.6M268.43 667.3v1.6M287.47 667.3v3M274.81 667.3v1.6M278 667.3v1.6M280.26 667.3v1.6M282.02 667.3v1.6M283.45 667.3v1.6M284.67 667.3v1.6M285.72 667.3v1.6M286.64 667.3v1.6M185.03 667.3v3M188.99 667.3v1.6M192.38 667.3v1.6M195.78 667.3v1.6M199.18 667.3v1.6M201.44 667.3v1.6M229.74 667.3v3" stroke="#333" stroke-width="0.8" fill="none"/>
<rect x="202.57" y="667.3" width="8.49" height="2.2" fill="#222"/>
<g clip-path="url(#c1)">
<path d="M122.6 84.1 121.1 83.9 120.3 82.6 120.6 80.6 121.6 79.9 123.1 80.3 123.8 81.6 123.6 83.1 122.6 84.1ZM120.1 100.6 81.1 99.3 72.6 98 70.3 97.1 69.3 96.1 69.8 95.1 70.7 94.6 74.6 93.4 88.4 91.6 98.1 88.9 106.6 88.2 121.1 88.4 123.1 89.4 124.9 91.6 132.1 94.3 133.7 95.6 133.2 96.6 130.6 97.8 124.6 99.9 120.1 100.6Z" fill="url(#p1)" fill-rule="evenodd"/>
<path d="M121.1 100.1 117.6 100.3 110.6 99.7 102.6 99.8 83.1 98.9 75.6 97.8 73.4 97.1 72.2 96.1 72.3 95.6 73.6 94.7 77.1 93.7 94.7 91.6 101.6 90 106.6 89.5 113.9 90.1 123.1 92.4 128.4 94.1 130.5 95.6 130.1 96.6 127.1 98.4 124.6 99.4 121.1 100.1Z" fill="url(#p2)" fill-rule="evenodd"/>
<path d="M121.6 99.7 117.6 100 111.1 99.3 102.6 99.4 84.6 98.5 78.1 97.6 76.1 96.9 75.1 96.1 75.2 95.6 76.1 95 80.6 93.8 105.6 91.3 122.1 92.8 126.1 94 128.3 95.6 128.1 96.6 126.6 97.9 124.6 98.9 121.6 99.7Z" fill="url(#p3)" fill-rule="evenodd"/>
<path d="M119.1 99.6 111.1 98.9 102.6 99 85.6 98 80.1 97.2 77.8 96.1 78.7 95.1 83.1 94.1 104.6 92.1 121.6 93.2 125.1 94.2 126.9 95.6 126.9 96.6 125.1 98.2 122.1 99.2 119.1 99.6Z" fill="url(#p4)" fill-rule="evenodd"/>
<path d="M112.8 84.3h0.8v0.8h-0.8zM93.6 101h0.8v0.8h-0.8zM120 79.6h0.8v0.8h-0.8zM104.4 97.8h0.8v0.8h-0.8zM126.1 76.7h0.8v0.8h-0.8zM116.8 80.5h0.8v0.8h-0.8zM108 99.3h0.8v0.8h-0.8zM116.8 84.3h0.8v0.8h-0.8zM111.4 72.8h0.8v0.8h-0.8zM122.2 70.5h0.8v0.8h-0.8zM109.3 89.9h0.8v0.8h-0.8zM127.4 73.6h0.8v0.8h-0.8zM118.2 82.3h0.8v0.8h-0.8zM84.4 95.6h0.8v0.8h-0.8zM117.8 74.9h0.8v0.8h-0.8zM127.2 79.7h0.8v0.8h-0.8zM111.3 84.4h0.8v0.8h-0.8zM127.1 76.9h0.8v0.8h-0.8zM120.3 83.4h0.8v0.8h-0.8zM116.5 83.1h0.8v0.8h-0.8zM111 88.8h0.8v0.8h-0.8zM113.6 78.4h0.8v0.8h-0.8zM116.7 87h0.8v0.8h-0.8zM102.6 102.3h0.8v0.8h-0.8zM102.4 100.8h0.8v0.8h-0.8zM101.2 91.2h0.8v0.8h-0.8zM132.7 77.8h0.8v0.8h-0.8zM118.4 78.9h0.8v0.8h-0.8zM119.1 75.1h0.8v0.8h-0.8zM102.5 99.1h0.8v0.8h-0.8zM130.6 80h0.8v0.8h-0.8zM123.9 86.7h0.8v0.8h-0.8zM120.2 90.1h0.8v0.8h-0.8zM102.7 88.5h0.8v0.8h-0.8zM119.8 79.2h0.8v0.8h-0.8zM74.8 99.9h0.8v0.8h-0.8zM112 89.7h0.8v0.8h-0.8zM121.5 75.5h0.8v0.8h-0.8zM116.5 77.3h0.8v0.8h-0.8zM120.7 72.7h0.8v0.8h-0.8zM99.8 89.7h0.8v0.8h-0.8zM90.6 102.8h0.8v0.8h-0.8zM128.8 80.1h0.8v0.8h-0.8zM124.8 70.7h0.8v0.8h-0.8zM111.5 99.9h0.8v0.8h-0.8zM124.9 91.2h0.8v0.8h-0.8zM108.3 81.8h0.8v0.8h-0.8zM98 91.1h0.8v0.8h-0.8zM114.1 76.5h0.8v0.8h-0.8zM103.6 101.8h0.8v0.8h-0.8zM109.7 88.6h0.8v0.8h-0.8zM103.5 91.6h0.8v0.8h-0.8zM122 68.2h0.8v0.8h-0.8zM115.2 101.2h0.8v0.8h-0.8zM127.2 77.6h0.8v0.8h-0.8zM127 72.6h0.8v0.8h-0.8zM110.3 98.5h0.8v0.8h-0.8zM112.1 103h0.8v0.8h-0.8zM86.8 99.8h0.8v0.8h-0.8zM122.2 88.3h0.8v0.8h-0.8zM126.3 71.5h0.8v0.8h-0.8zM124.7 85.2h0.8v0.8h-0.8zM130.2 87h0.8v0.8h-0.8zM103.6 92.4h0.8v0.8h-0.8zM75.6 96.4h0.8v0.8h-0.8zM125.1 87.1h0.8v0.8h-0.8zM118 83.8h0.8v0.8h-0.8zM110.2 92.7h0.8v0.8h-0.8zM100 103h0.8v0.8h-0.8zM83.7 99.4h0.8v0.8h-0.8zM121.4 88h0.8v0.8h-0.8zM125.5 74.7h0.8v0.8h-0.8zM112.3 102.3h0.8v0.8h-0.8zM121.3 78.2h0.8v0.8h-0.8zM120.8 68.1h0.8v0.8h-0.8zM123.1 81.6h0.8v0.8h-0.8zM100.3 91.3h0.8v0.8h-0.8zM75.3 98.3h0.8v0.8h-0.8zM91.4 106h0.8v0.8h-0.8zM71.2 101.7h0.8v0.8h-0.8zM118.4 90.7h0.8v0.8h-0.8zM129.1 73h0.8v0.8h-0.8zM86.2 91.4h0.8v0.8h-0.8zM114.8 77.7h0.8v0.8h-0.8zM78.8 103.2h0.8v0.8h-0.8zM127.2 75h0.8v0.8h-0.8zM116.3 100.4h0.8v0.8h-0.8zM121.2 80.4h0.8v0.8h-0.8zM120.8 84.3h0.8v0.8h-0.8zM123.9 77.6h0.8v0.8h-0.8zM119.1 88.9h0.8v0.8h-0.8zM123.7 83h0.8v0.8h-0.8zM130.9 76.5h0.8v0.8h-0.8zM132.5 81.2h0.8v0.8h-0.8zM120.8 75.3h0.8v0.8h-0.8zM125.5 80.3h0.8v0.8h-0.8zM115.4 72.1h0.8v0.8h-0.8zM118.7 75.3h0.8v0.8h-0.8zM128.5 89.6h0.8v0.8h-0.8zM117.7 90.6h0.8v0.8h-0.8zM104.7 90.1h0.8v0.8h-0.8zM127.3 94.9h0.8v0.8h-0.8zM116.4 99.2h0.8v0.8h-0.8zM122.2 76.6h0.8v0.8h-0.8zM85.9 99.4h0.8v0.8h-0.8zM123.2 92.9h0.8v0.8h-0.8zM122.3 89.5h0.8v0.8h-0.8zM132.6 80.6h0.8v0.8h-0.8zM128.9 102.1h0.8v0.8h-0.8zM119.5 81.9h0.8v0.8h-0.8zM122.1 78.4h0.8v0.8h-0.8zM120.8 81h0.8v0.8h-0.8zM124.6 73.8h0.8v0.8h-0.8zM108.9 87.3h0.8v0.8h-0.8zM111.6 91.1h0.8v0.8h-0.8zM123 82h0.8v0.8h-0.8zM125.5 75.3h0.8v0.8h-0.8zM120.6 83.6h0.8v0.8h-0.8zM119 90.7h0.8v0.8h-0.8zM137.3 79.4h0.8v0.8h-0.8zM128 88.9h0.8v0.8h-0.8zM97.6 97.5h0.8v0.8h-0.8zM97.2 90.3h0.8v0.8h-0.8zM128.7 81.9h0.8v0.8h-0.8zM123 77.3h0.8v0.8h-0.8zM125.4 65h0.8v0.8h-0.8zM123.4 80.2h0.8v0.8h-0.8zM113.8 95.2h0.8v0.8h-0.8zM113.7 72.5h0.8v0.8h-0.8zM114.8 87.8h0.8v0.8h-0.8zM116.7 84.7h0.8v0.8h-0.8zM125.5 81.8h0.8v0.8h-0.8zM76.5 98.2h0.8v0.8h-0.8zM125.7 87.7h0.8v0.8h-0.8zM100.7 89.7h0.8v0.8h-0.8zM117.1 90.5h0.8v0.8h-0.8zM126.5 72.5h0.8v0.8h-0.8zM117 101.7h0.8v0.8h-0.8zM93.1 92.8h0.8v0.8h-0.8zM135.8 74.6h0.8v0.8h-0.8zM122.3 89.8h0.8v0.8h-0.8zM113.1 66.1h0.8v0.8h-0.8zM114.2 76h0.8v0.8h-0.8zM118.5 84.3h0.8v0.8h-0.8zM123.6 71.3h0.8v0.8h-0.8zM114.7 93.4h0.8v0.8h-0.8zM129.2 86.9h0.8v0.8h-0.8zM109.2 91.8h0.8v0.8h-0.8zM116.2 85.3h0.8v0.8h-0.8zM121.5 87.9h0.8v0.8h-0.8zM108.4 96.7h0.8v0.8h-0.8zM122.8 88.5h0.8v0.8h-0.8zM115.2 76.1h0.8v0.8h-0.8zM86.2 95.5h0.8v0.8h-0.8zM127.8 89.2h0.8v0.8h-0.8zM117 90.4h0.8v0.8h-0.8zM121.7 81.7h0.8v0.8h-0.8zM117.6 86.3h0.8v0.8h-0.8zM128.3 86.5h0.8v0.8h-0.8zM90.4 100.2h0.8v0.8h-0.8zM121 92.5h0.8v0.8h-0.8zM103.2 94.4h0.8v0.8h-0.8zM124.4 93.2h0.8v0.8h-0.8zM115.9 91.6h0.8v0.8h-0.8zM122.2 66.2h0.8v0.8h-0.8zM111.1 71.3h0.8v0.8h-0.8zM121.2 82.2h0.8v0.8h-0.8zM112.4 99h0.8v0.8h-0.8zM127.7 78h0.8v0.8h-0.8zM87.3 102.6h0.8v0.8h-0.8zM99.9 85.1h0.8v0.8h-0.8zM115.6 80.7h0.8v0.8h-0.8zM78.2 89.4h0.8v0.8h-0.8zM120 70h0.8v0.8h-0.8zM113.1 76.8h0.8v0.8h-0.8zM118.7 88.8h0.8v0.8h-0.8zM124.2 68.9h0.8v0.8h-0.8zM116.9 84.9h0.8v0.8h-0.8zM134.1 101.2h0.8v0.8h-0.8zM123.9 93h0.8v0.8h-0.8zM108.8 89.4h0.8v0.8h-0.8zM113.5 76.4h0.8v0.8h-0.8zM135.1 70h0.8v0.8h-0.8zM100.2 95.8h0.8v0.8h-0.8zM122.8 86.2h0.8v0.8h-0.8zM120.5 85.1h0.8v0.8h-0.8zM113 101.3h0.8v0.8h-0.8zM132.3 85.5h0.8v0.8h-0.8zM94.5 98h0.8v0.8h-0.8zM116.9 83.3h0.8v0.8h-0.8zM94.2 108.2h0.8v0.8h-0.8zM133.1 78.5h0.8v0.8h-0.8zM120 91.8h0.8v0.8h-0.8zM90.2 89.2h0.8v0.8h-0.8zM127.7 73.6h0.8v0.8h-0.8zM119.1 77.5h0.8v0.8h-0.8zM126 81h0.8v0.8h-0.8zM124.4 84.2h0.8v0.8h-0.8zM122.2 87.8h0.8v0.8h-0.8zM117.6 69.9h0.8v0.8h-0.8zM111.3 68.7h0.8v0.8h-0.8zM118.7 87.2h0.8v0.8h-0.8zM110.7 88.9h0.8v0.8h-0.8zM115.6 76.3h0.8v0.8h-0.8zM92.7 98.3h0.8v0.8h-0.8zM94.7 89.1h0.8v0.8h-0.8zM128.1 64.8h0.8v0.8h-0.8zM120.6 65.2h0.8v0.8h-0.8zM110.8 88.7h0.8v0.8h-0.8zM109.5 80.7h0.8v0.8h-0.8zM132.9 80.8h0.8v0.8h-0.8zM120.9 99.8h0.8v0.8h-0.8zM109.1 83.4h0.8v0.8h-0.8zM104.8 87.4h0.8v0.8h-0.8zM126.7 82h0.8v0.8h-0.8zM118.8 86.1h0.8v0.8h-0.8zM116.8 84.5h0.8v0.8h-0.8zM116.4 83.7h0.8v0.8h-0.8zM98 92.7h0.8v0.8h-0.8zM123.5 90h0.8v0.8h-0.8zM117.1 76.7h0.8v0.8h-0.8zM115.1 91.8h0.8v0.8h-0.8zM115.6 87.2h0.8v0.8h-0.8zM124.8 86.9h0.8v0.8h-0.8zM120.1 83.9h0.8v0.8h-0.8zM101.7 87.5h0.8v0.8h-0.8zM111.8 76.1h0.8v0.8h-0.8zM118.7 75.6h0.8v0.8h-0.8zM100.7 66h0.8v0.8h-0.8zM118.8 82h0.8v0.8h-0.8zM118.5 73.9h0.8v0.8h-0.8zM108.1 94.2h0.8v0.8h-0.8zM115.4 91.8h0.8v0.8h-0.8zM128.1 100.8h0.8v0.8h-0.8zM89.7 100.4h0.8v0.8h-0.8zM79.2 100.8h0.8v0.8h-0.8zM109 91h0.8v0.8h-0.8zM117.1 105.2h0.8v0.8h-0.8zM93 103.1h0.8v0.8h-0.8zM117.2 73.7h0.8v0.8h-0.8zM118.3 73.1h0.8v0.8h-0.8zM127.9 86.5h0.8v0.8h-0.8zM129.6 79.8h0.8v0.8h-0.8zM123.6 76h0.8v0.8h-0.8zM115.1 83.1h0.8v0.8h-0.8zM123.6 72.3h0.8v0.8h-0.8zM125.5 67.8h0.8v0.8h-0.8zM120.9 75.6h0.8v0.8h-0.8zM103.7 88h0.8v0.8h-0.8zM118.5 91h0.8v0.8h-0.8z" fill="#1e32ff" opacity="0.9"/>
<g filter="url(#blur)">
<path d="M121.1 99.1 117.6 99.4 111.1 98.5 103.1 98.7 88.6 97.8 83.2 97.1 80.7 96.1 80.8 95.6 81.8 95.1 85.1 94.4 104.1 92.6 120.6 93.4 124.1 94.3 125.8 95.6 125.9 96.6 125.1 97.6 121.1 99.1Z" fill="#1030ff" fill-rule="evenodd"/>
<path d="M121.6 98.7 118.1 99.1 111.1 98.1 101.6 98.3 87.8 97.1 83.9 96.1 84.1 95.6 87.1 94.8 102.6 93 112.6 93.6 118.6 93.6 122.6 94.2 124.9 95.6 125.1 96.6 124.6 97.3 121.6 98.7Z" fill="#1060ff" fill-rule="evenodd"/>
<path d="M120.6 98.7 117.1 98.8 111.1 97.8 101.6 98 89.6 96.7 87.4 96.1 87.5 95.6 89.2 95.1 104.1 93.2 112.6 94 119.6 93.9 122.6 94.5 124.3 95.6 124.5 96.6 123.6 97.6 120.6 98.7Z" fill="#0090ff" fill-rule="evenodd"/>
<path d="M119.1 98.6 116.1 98.5 111.1 97.5 105.1 97.9 101.1 97.8 93.5 96.6 91.4 96.1 91.4 95.6 100.1 93.9 104.6 93.5 112.1 94.3 119.6 94.1 122.1 94.7 123.7 95.6 123.9 96.6 123 97.6 119.1 98.6Z" fill="#00c0ff" fill-rule="evenodd"/>
<path d="M121.1 98.1 117.1 98.4 111.1 97.2 102.1 97.6 96.3 96.6 94.8 96.1 94.7 95.6 98.6 94.4 103.1 93.7 106.6 93.8 112.1 94.6 119.1 94.2 122.1 94.9 123.5 96.1 123.2 97.1 121.1 98.1Z" fill="#00e4e8" fill-rule="evenodd"/>
<path d="M120.1 98.1 116.6 98.2 111.1 96.8 106.1 97.5 102.1 97.4 98.2 96.6 97.1 96.1 96.9 95.6 100.1 94.4 104.6 93.9 112.1 95 119.1 94.5 121.1 94.8 122.6 95.6 123 96.1 122.6 97.1 120.1 98.1Z" fill="#30f080" fill-rule="evenodd"/>
<path d="M106.1 97.1 101.1 96.9 99 96.1 98.9 95.6 101.2 94.6 104.6 94.3 107.9 94.6 110.5 95.6 110.5 96.1 109.1 96.6 106.1 97.1ZM120.6 97.7 118.6 98 116.1 97.8 114 97.1 112.4 96.1 112.9 95.6 115.6 94.9 120.1 94.9 122.3 96.1 121.9 97.1 120.6 97.7Z" fill="#b0ff10" fill-rule="evenodd"/>
<path d="M106.6 96.6 102.5 96.6 101 96.1 100.8 95.6 102.1 95 104.6 94.7 107.1 95 108.3 95.6 108.1 96.1 106.6 96.6ZM119.1 97.7 115.6 97.2 114.5 96.6 114.3 96.1 115.6 95.4 118.1 95 120.1 95.3 121.4 96.1 121 97.1 119.1 97.7Z" fill="#ffe800" fill-rule="evenodd"/>
<path d="M105.1 96.1 103.6 96.1 103 95.6 104.6 95.3 106.1 95.6 105.1 96.1ZM119.6 97.2 116.6 97.1 115.6 96.6 115.6 96.1 117.1 95.5 119.6 95.6 120.5 96.1 120.6 96.6 119.6 97.2Z" fill="#ff8000" fill-rule="evenodd"/>
<path d="M119.6 96.6 117.6 96.9 116.7 96.6 116.7 96.1 118.6 95.8 119.6 96.1 119.6 96.6Z" fill="#ff1a00" fill-rule="evenodd"/>
</g></g>
<clipPath id="c1"><rect x="37.1" y="14.1" width="111.9" height="111.7"/></clipPath>
<rect x="67.6" y="91.8" width="72.8" height="15.4" fill="none" stroke="#000" stroke-width="1.4"/>
<line x1="113.2" y1="91.8" x2="113.2" y2="107.2" stroke="#000" stroke-width="1.4"/>
<rect x="113.2" y="41.7" width="27.2" height="50.1" fill="none" stroke="#000" stroke-width="1.4"/>
<g clip-path="url(#c2)">
<path d="M258.4 100 240.4 100.3 220.4 99.5 209.9 98.2 206.9 97.2 205.7 95.9 207.4 94.5 210.9 93.5 228.5 91.4 237.4 88.9 244.9 88.4 258.9 88.9 260.4 89.5 262.6 91.9 267.9 94.4 269.2 95.4 269.2 96.4 266.6 97.9 262.9 99.2 258.4 100Z" fill="url(#p1)" fill-rule="evenodd"/>
<path d="M258.9 99.4 240.9 99.8 221.9 99.1 212.4 97.9 209.6 96.9 208.8 95.9 210.4 94.7 214.4 93.7 232.3 91.9 240.4 90.2 244.9 89.9 249.9 90.3 259.9 92.2 264.4 93.8 266.5 95.4 266.5 96.4 264.9 97.7 262.4 98.7 258.9 99.4Z" fill="url(#p2)" fill-rule="evenodd"/>
<path d="M243.4 99.4 218.9 98.2 213.4 97.2 211.9 96.4 211.7 95.9 213.4 94.8 218.4 93.7 242.9 91.7 258.9 92.7 263.4 94.1 264.5 94.9 265 95.9 264.5 96.9 263.4 97.7 258.9 99 243.4 99.4Z" fill="url(#p3)" fill-rule="evenodd"/>
<path d="M245.4 98.9 239.9 99.1 221.9 97.9 216.4 97.1 214.9 96.4 214.6 95.9 216.2 94.9 220.4 94.1 242.4 92.4 258.9 93.2 262.4 94.3 263.8 95.9 263.3 96.9 262.4 97.5 258.9 98.7 249.9 98.6 245.4 98.9Z" fill="url(#p4)" fill-rule="evenodd"/>
<path d="M264.3 77.6h0.8v0.8h-0.8zM248.6 85.6h0.8v0.8h-0.8zM248 98.2h0.8v0.8h-0.8zM249.3 88.9h0.8v0.8h-0.8zM256.5 77.7h0.8v0.8h-0.8zM275.5 93.8h0.8v0.8h-0.8zM265.7 77.8h0.8v0.8h-0.8zM263.9 65h0.8v0.8h-0.8zM260.6 75.7h0.8v0.8h-0.8zM234.1 87.2h0.8v0.8h-0.8zM263.2 81.6h0.8v0.8h-0.8zM261 86.9h0.8v0.8h-0.8zM254.9 72.4h0.8v0.8h-0.8zM229.2 89.4h0.8v0.8h-0.8zM264.6 80h0.8v0.8h-0.8zM263.8 72.7h0.8v0.8h-0.8zM229.6 97.7h0.8v0.8h-0.8zM234.5 93.3h0.8v0.8h-0.8zM265.1 75.7h0.8v0.8h-0.8zM255.4 80.6h0.8v0.8h-0.8zM251.3 84.1h0.8v0.8h-0.8zM252.2 78.4h0.8v0.8h-0.8zM219.6 98.6h0.8v0.8h-0.8zM233.7 87.2h0.8v0.8h-0.8zM254.2 76.2h0.8v0.8h-0.8zM232.7 100.2h0.8v0.8h-0.8zM269.2 86.7h0.8v0.8h-0.8zM244.5 91.3h0.8v0.8h-0.8zM255.9 91.1h0.8v0.8h-0.8zM263.3 71.5h0.8v0.8h-0.8zM264.5 86.7h0.8v0.8h-0.8zM189.7 97.8h0.8v0.8h-0.8zM242.3 86.5h0.8v0.8h-0.8zM218.8 97.2h0.8v0.8h-0.8zM252.1 90.5h0.8v0.8h-0.8zM275.8 78.2h0.8v0.8h-0.8zM266.9 81.6h0.8v0.8h-0.8zM261.6 72.9h0.8v0.8h-0.8zM203.6 97.7h0.8v0.8h-0.8zM264.6 92.1h0.8v0.8h-0.8zM248.9 101.5h0.8v0.8h-0.8zM255 91.7h0.8v0.8h-0.8zM262.2 98.4h0.8v0.8h-0.8zM259.7 74h0.8v0.8h-0.8zM261.7 90.7h0.8v0.8h-0.8zM259.4 83.8h0.8v0.8h-0.8zM262.6 78.1h0.8v0.8h-0.8zM252.6 72h0.8v0.8h-0.8zM249.6 84.2h0.8v0.8h-0.8zM273.3 69.1h0.8v0.8h-0.8zM248.4 90.7h0.8v0.8h-0.8zM254.1 82.4h0.8v0.8h-0.8zM218.3 103.6h0.8v0.8h-0.8zM227.3 100.3h0.8v0.8h-0.8zM264.1 78h0.8v0.8h-0.8zM205.8 98.4h0.8v0.8h-0.8zM264.6 80.4h0.8v0.8h-0.8zM249.3 88.1h0.8v0.8h-0.8zM260.9 86.1h0.8v0.8h-0.8zM260.2 94.4h0.8v0.8h-0.8zM258.8 73.7h0.8v0.8h-0.8zM250.3 89.1h0.8v0.8h-0.8zM259.6 88.1h0.8v0.8h-0.8zM262.7 92.4h0.8v0.8h-0.8zM267.6 78.4h0.8v0.8h-0.8zM242.9 103.3h0.8v0.8h-0.8zM252.6 91.2h0.8v0.8h-0.8zM267.3 87.9h0.8v0.8h-0.8zM258.8 83.1h0.8v0.8h-0.8zM253.3 81.4h0.8v0.8h-0.8zM256.5 81.6h0.8v0.8h-0.8zM229.1 100.9h0.8v0.8h-0.8zM258.8 87.6h0.8v0.8h-0.8zM265.6 67.1h0.8v0.8h-0.8zM247 80.2h0.8v0.8h-0.8zM260 84.1h0.8v0.8h-0.8zM208.3 99.8h0.8v0.8h-0.8zM260.8 89.8h0.8v0.8h-0.8zM246 91h0.8v0.8h-0.8zM254.1 79.7h0.8v0.8h-0.8zM257.3 85.9h0.8v0.8h-0.8zM254.1 75.2h0.8v0.8h-0.8zM248.4 105.4h0.8v0.8h-0.8zM250.8 90.5h0.8v0.8h-0.8zM257.9 88.6h0.8v0.8h-0.8zM263.2 93.1h0.8v0.8h-0.8zM262 74.4h0.8v0.8h-0.8zM227.7 97h0.8v0.8h-0.8zM252.5 89.8h0.8v0.8h-0.8zM264.8 72.3h0.8v0.8h-0.8zM270.1 100.7h0.8v0.8h-0.8zM254.3 83.7h0.8v0.8h-0.8zM259.6 75.6h0.8v0.8h-0.8zM248.3 81.3h0.8v0.8h-0.8zM261.8 62.9h0.8v0.8h-0.8zM263.3 85.3h0.8v0.8h-0.8zM257.2 81.8h0.8v0.8h-0.8zM258.3 75.1h0.8v0.8h-0.8zM257.8 90.5h0.8v0.8h-0.8zM251.3 82.7h0.8v0.8h-0.8zM261.1 76h0.8v0.8h-0.8zM257.4 71.2h0.8v0.8h-0.8zM254.9 81.1h0.8v0.8h-0.8zM262 74.7h0.8v0.8h-0.8zM240.3 99.3h0.8v0.8h-0.8zM257.6 90.1h0.8v0.8h-0.8zM257.1 90.3h0.8v0.8h-0.8zM266.9 73.7h0.8v0.8h-0.8zM257.4 88.8h0.8v0.8h-0.8zM276.4 78.3h0.8v0.8h-0.8zM254.4 67.6h0.8v0.8h-0.8zM252.2 76.9h0.8v0.8h-0.8zM237 87.8h0.8v0.8h-0.8zM225.5 99.4h0.8v0.8h-0.8zM264.1 94.9h0.8v0.8h-0.8zM241.5 88.3h0.8v0.8h-0.8zM250.9 72.1h0.8v0.8h-0.8zM221.7 102.2h0.8v0.8h-0.8zM258.8 77.2h0.8v0.8h-0.8zM263.7 83h0.8v0.8h-0.8zM258.7 83.7h0.8v0.8h-0.8zM255 85.4h0.8v0.8h-0.8zM262.8 78.1h0.8v0.8h-0.8zM252.7 91.6h0.8v0.8h-0.8zM239.7 109.2h0.8v0.8h-0.8zM226.2 102.6h0.8v0.8h-0.8zM257.4 82.8h0.8v0.8h-0.8zM255.3 88.6h0.8v0.8h-0.8zM259.4 82.1h0.8v0.8h-0.8zM240 101.8h0.8v0.8h-0.8zM266.2 86.8h0.8v0.8h-0.8zM242.7 99h0.8v0.8h-0.8zM253.2 75.9h0.8v0.8h-0.8zM228.5 102h0.8v0.8h-0.8zM257.8 72.3h0.8v0.8h-0.8zM253.3 88.6h0.8v0.8h-0.8zM255.4 79.4h0.8v0.8h-0.8zM262.8 64.1h0.8v0.8h-0.8zM253.3 82.2h0.8v0.8h-0.8zM257.8 74.9h0.8v0.8h-0.8zM256.8 90.7h0.8v0.8h-0.8zM229.8 102.1h0.8v0.8h-0.8zM254.9 89.2h0.8v0.8h-0.8zM262.7 77.8h0.8v0.8h-0.8zM256.3 73.1h0.8v0.8h-0.8zM265.2 78.2h0.8v0.8h-0.8zM228.1 96.6h0.8v0.8h-0.8zM270.9 86.2h0.8v0.8h-0.8zM235.6 97.9h0.8v0.8h-0.8zM210.5 100.9h0.8v0.8h-0.8zM261.7 71.1h0.8v0.8h-0.8zM258.6 91.4h0.8v0.8h-0.8zM254.2 77.1h0.8v0.8h-0.8zM242.7 90.3h0.8v0.8h-0.8zM259.1 69.5h0.8v0.8h-0.8zM268.8 83.2h0.8v0.8h-0.8zM267.6 89.8h0.8v0.8h-0.8zM258.8 83.4h0.8v0.8h-0.8zM254.4 91.4h0.8v0.8h-0.8zM235 98.1h0.8v0.8h-0.8zM260.2 75.4h0.8v0.8h-0.8zM256.7 66.8h0.8v0.8h-0.8zM260.5 73.8h0.8v0.8h-0.8zM256.7 80.6h0.8v0.8h-0.8zM243.6 105.7h0.8v0.8h-0.8zM249 87.5h0.8v0.8h-0.8zM248.3 88.9h0.8v0.8h-0.8zM245.2 97.9h0.8v0.8h-0.8zM255.7 77.4h0.8v0.8h-0.8zM256.2 68.2h0.8v0.8h-0.8zM256 80.9h0.8v0.8h-0.8zM267.2 78.9h0.8v0.8h-0.8zM243.3 91h0.8v0.8h-0.8zM247.7 104.8h0.8v0.8h-0.8zM263.5 80.9h0.8v0.8h-0.8zM268 91.7h0.8v0.8h-0.8zM242.2 90.3h0.8v0.8h-0.8zM249.9 78.5h0.8v0.8h-0.8zM222.1 99.4h0.8v0.8h-0.8zM242.2 89.7h0.8v0.8h-0.8zM236.1 101.5h0.8v0.8h-0.8zM261.4 77.1h0.8v0.8h-0.8zM252.3 89.6h0.8v0.8h-0.8zM268.5 77.8h0.8v0.8h-0.8zM248.1 95.4h0.8v0.8h-0.8zM209.9 99.2h0.8v0.8h-0.8zM268.8 73.7h0.8v0.8h-0.8zM238.7 92.9h0.8v0.8h-0.8zM228.1 91.2h0.8v0.8h-0.8zM246.8 99.4h0.8v0.8h-0.8zM261.1 99.4h0.8v0.8h-0.8zM235.7 89.4h0.8v0.8h-0.8zM258.6 76.2h0.8v0.8h-0.8zM251.9 92.2h0.8v0.8h-0.8zM249.2 86.8h0.8v0.8h-0.8zM255.8 83.8h0.8v0.8h-0.8zM251 87.4h0.8v0.8h-0.8zM259.5 82.8h0.8v0.8h-0.8zM262.4 83.8h0.8v0.8h-0.8zM205.2 105.5h0.8v0.8h-0.8zM261.3 93.6h0.8v0.8h-0.8zM277.2 79.9h0.8v0.8h-0.8zM252.6 87h0.8v0.8h-0.8zM258.9 77.8h0.8v0.8h-0.8zM253.8 92.8h0.8v0.8h-0.8zM257.3 71.2h0.8v0.8h-0.8zM229.9 96.5h0.8v0.8h-0.8zM260.9 78.1h0.8v0.8h-0.8zM253.7 85.2h0.8v0.8h-0.8zM226.4 102.2h0.8v0.8h-0.8zM267.6 78.5h0.8v0.8h-0.8zM240.5 90.4h0.8v0.8h-0.8zM255.9 90h0.8v0.8h-0.8zM260.8 80.8h0.8v0.8h-0.8zM261.9 85.4h0.8v0.8h-0.8zM225.3 98.6h0.8v0.8h-0.8zM238.8 98h0.8v0.8h-0.8zM260.8 84.8h0.8v0.8h-0.8zM259.9 76.8h0.8v0.8h-0.8zM255.3 93.3h0.8v0.8h-0.8zM265.3 73.2h0.8v0.8h-0.8zM222.9 105.6h0.8v0.8h-0.8zM265.2 100.4h0.8v0.8h-0.8zM258.8 95.5h0.8v0.8h-0.8z" fill="#1e32ff" opacity="0.9"/>
<g filter="url(#blur)">
<path d="M257.9 98.4 249.9 98.2 243.4 98.7 238.9 98.7 222.4 97.4 219.4 96.9 218.1 96.4 217.7 95.9 219.4 95 222.9 94.4 241.9 92.9 249.9 93.5 257.9 93.4 260.9 94.2 262.6 95.4 262.7 96.4 261.6 97.4 257.9 98.4Z" fill="#1030ff" fill-rule="evenodd"/>
<path d="M243.4 98.4 238.9 98.3 225.4 97.1 221.9 96.4 221.4 95.9 224.5 94.9 241.9 93.2 249.9 94 257.9 93.8 260.9 94.7 261.9 95.9 260.9 97.2 257.9 98.1 249.9 97.8 243.4 98.4Z" fill="#1060ff" fill-rule="evenodd"/>
<path d="M256.9 97.9 249.9 97.4 243.9 98.1 239.9 98.2 227.4 96.6 225.5 95.9 228.4 95.1 241.4 93.5 249.9 94.4 257.4 94 259.4 94.5 260.9 95.4 261 96.4 260.5 96.9 256.9 97.9Z" fill="#0090ff" fill-rule="evenodd"/>
<path d="M243.4 97.9 237.4 97.6 231.1 96.4 230.1 95.9 236.4 94.3 241.9 93.8 249.9 94.8 257.4 94.3 259.5 94.9 260.5 95.9 259.7 96.9 257.4 97.6 254.9 97.6 249.9 97 243.4 97.9Z" fill="#00c0ff" fill-rule="evenodd"/>
<path d="M256.4 97.4 249.9 96.4 244.9 97.6 240.4 97.7 235.4 96.9 233.3 95.9 233.9 95.4 236.9 94.5 241.9 94 245.4 94.3 250.4 95.4 254.4 94.6 256.9 94.5 258.9 95 259.8 95.9 259 96.9 256.4 97.4Z" fill="#00e4e8" fill-rule="evenodd"/>
<path d="M243.9 97.4 238.4 97.2 235.7 96.4 235.2 95.9 237.4 94.8 241.9 94.2 245.9 94.7 247.8 95.4 248.2 95.9 246.5 96.9 243.9 97.4ZM257.9 96.9 254.4 97 252.6 96.4 252.2 95.9 254.4 94.9 257.3 94.9 258.7 95.4 259.1 95.9 257.9 96.9Z" fill="#30f080" fill-rule="evenodd"/>
<path d="M244.4 97 239.9 97.1 237.5 96.4 237 95.9 238.9 94.9 241.9 94.6 244.9 94.9 246.6 95.9 246.2 96.4 244.4 97ZM256.9 96.5 254.9 96.5 254.1 95.9 255 95.4 256.9 95.4 257.8 95.9 256.9 96.5Z" fill="#b0ff10" fill-rule="evenodd"/>
<path d="M243.9 96.5 240.9 96.6 239.1 95.9 240.4 95.2 242.9 95.1 244.7 95.9 243.9 96.5Z" fill="#ffe800" fill-rule="evenodd"/>
</g></g>
<clipPath id="c2"><rect x="175.4" y="13.9" width="112.7" height="111.8"/></clipPath>
<rect x="206.5" y="92" width="72.9" height="14.5" fill="none" stroke="#000" stroke-width="1.4"/>
<line x1="251.9" y1="92" x2="251.9" y2="106.5" stroke="#000" stroke-width="1.4"/>
<rect x="251.9" y="41.7" width="27.5" height="50.3" fill="none" stroke="#000" stroke-width="1.4"/>
<g clip-path="url(#c3)">
<path d="M78.5 224.8 73 225.3 67.5 225 62.5 223.9 58 222.1 55 219.8 53 216.8 52.6 213.8 53.8 210.3 56.2 207.3 59.5 204.7 73.5 196.7 84 192.6 95.5 190 110.5 188.3 118.5 188.2 126 188.7 132 189.6 137.5 191.2 141 193.1 142.8 195.3 143.1 196.8 142.9 198.3 142.1 199.8 140.3 201.8 135 205.5 127 209.6 111.5 215.5 98.1 219.3 86.5 223.1 78.5 224.8Z" fill="url(#p1)" fill-rule="evenodd"/>
<path d="M75.5 223.3 67.5 223 64 222.2 61 221 58.4 219.3 56.7 217.3 55.9 215.3 55.9 212.8 57.7 209.3 61.5 206 81.5 195.6 89 193 98 191.1 107 190 116 189.7 124 190.2 131 191.5 136 193.7 137.3 194.8 138.2 196.3 138.4 197.8 138 199.3 135.8 202.3 130.5 206 123.5 209.5 109.5 214.5 94.5 218.3 83 222.1 75.5 223.3Z" fill="url(#p2)" fill-rule="evenodd"/>
<path d="M75.5 221.8 68 221.5 64.5 220.5 62.1 219.3 60.2 217.8 58.9 215.8 58.5 213.8 58.9 211.8 60.6 209.3 64 206.6 68 204.6 76.5 201.3 82 197.8 86 195.8 92.5 193.6 100 192 108 191.1 115.5 190.9 123 191.5 128.5 192.7 132.5 194.5 134.4 196.8 134.6 198.3 134.2 199.8 131.4 203.3 127 206.4 120.5 209.6 107.5 214 93.3 217.3 81.5 220.9 75.5 221.8Z" fill="url(#p3)" fill-rule="evenodd"/>
<path d="M78.5 220.3 71 220.5 67.5 219.9 64.5 218.7 62.5 217.3 61.1 215.3 60.8 213.3 61.4 211.3 63.5 208.8 67 206.6 71.5 204.9 80.5 202.7 82.1 201.8 85.6 198.3 88.1 196.8 92.5 195 98 193.5 108.5 192.1 119 192.2 124 192.9 127.5 194 129.9 195.3 131.2 196.8 131.3 199.3 129 202.8 125.4 205.8 119.5 209 108 213 93.1 216.3 83 219.4 78.5 220.3Z" fill="url(#p4)" fill-rule="evenodd"/>
<path d="M99.4 214h0.8v0.8h-0.8zM116.8 205.4h0.8v0.8h-0.8zM143.3 205.7h0.8v0.8h-0.8zM129.6 190.1h0.8v0.8h-0.8zM90.4 201.1h0.8v0.8h-0.8zM136.6 206.3h0.8v0.8h-0.8zM88.3 205.2h0.8v0.8h-0.8zM107.9 198.5h0.8v0.8h-0.8zM74.3 217.7h0.8v0.8h-0.8zM80.4 199.5h0.8v0.8h-0.8zM64.1 220.4h0.8v0.8h-0.8zM118.7 203.5h0.8v0.8h-0.8zM105.7 207.3h0.8v0.8h-0.8zM97.4 192.3h0.8v0.8h-0.8zM85.6 211.6h0.8v0.8h-0.8zM76.1 207.6h0.8v0.8h-0.8zM75.5 209.2h0.8v0.8h-0.8zM117.9 199.4h0.8v0.8h-0.8zM94.8 216.8h0.8v0.8h-0.8zM116.9 221.1h0.8v0.8h-0.8zM45.6 227.7h0.8v0.8h-0.8zM85 211.9h0.8v0.8h-0.8zM120.6 214.1h0.8v0.8h-0.8zM123.8 203.9h0.8v0.8h-0.8zM137.3 196.5h0.8v0.8h-0.8zM95.1 216.6h0.8v0.8h-0.8zM87.5 232.1h0.8v0.8h-0.8zM127.4 223.8h0.8v0.8h-0.8zM95.5 204.4h0.8v0.8h-0.8zM102.8 214.3h0.8v0.8h-0.8zM82.9 214.9h0.8v0.8h-0.8zM99.9 223.9h0.8v0.8h-0.8zM82.3 221.8h0.8v0.8h-0.8zM78.6 202.1h0.8v0.8h-0.8zM76.5 200.2h0.8v0.8h-0.8zM102.9 217.3h0.8v0.8h-0.8zM102.5 213.2h0.8v0.8h-0.8zM139.1 201.8h0.8v0.8h-0.8zM101.4 204.3h0.8v0.8h-0.8zM57.7 224.1h0.8v0.8h-0.8zM53.7 223.9h0.8v0.8h-0.8zM99 219.1h0.8v0.8h-0.8zM93.6 200.3h0.8v0.8h-0.8zM104.9 200.6h0.8v0.8h-0.8zM92.5 209.4h0.8v0.8h-0.8zM93.2 206.9h0.8v0.8h-0.8zM75.4 210.6h0.8v0.8h-0.8zM42.3 218h0.8v0.8h-0.8zM68.9 225.4h0.8v0.8h-0.8zM125.2 182.1h0.8v0.8h-0.8zM100.4 206h0.8v0.8h-0.8zM71.5 218.9h0.8v0.8h-0.8zM81.6 193.2h0.8v0.8h-0.8zM89.9 208h0.8v0.8h-0.8zM97.1 195.4h0.8v0.8h-0.8zM114.2 211.9h0.8v0.8h-0.8zM66.5 207.7h0.8v0.8h-0.8zM93.8 202.9h0.8v0.8h-0.8zM141.8 200.6h0.8v0.8h-0.8zM69.7 205.8h0.8v0.8h-0.8zM100.3 230.8h0.8v0.8h-0.8zM92.7 210.2h0.8v0.8h-0.8zM110 204.8h0.8v0.8h-0.8zM116.3 205.5h0.8v0.8h-0.8zM110.4 193.1h0.8v0.8h-0.8zM141.7 197.3h0.8v0.8h-0.8zM95.9 198.7h0.8v0.8h-0.8zM79.6 217.5h0.8v0.8h-0.8zM123.7 210h0.8v0.8h-0.8zM129.2 208.5h0.8v0.8h-0.8zM99.5 216h0.8v0.8h-0.8zM111.9 203.8h0.8v0.8h-0.8zM118.1 216.7h0.8v0.8h-0.8zM102.2 203.2h0.8v0.8h-0.8zM119.2 222.7h0.8v0.8h-0.8zM91.5 208.2h0.8v0.8h-0.8zM96.1 220.7h0.8v0.8h-0.8zM51 221.5h0.8v0.8h-0.8zM125.6 193.6h0.8v0.8h-0.8zM136 205.2h0.8v0.8h-0.8zM83.5 213h0.8v0.8h-0.8zM56.8 210.8h0.8v0.8h-0.8zM141.6 189.4h0.8v0.8h-0.8zM143.7 197.2h0.8v0.8h-0.8zM122.4 203.1h0.8v0.8h-0.8zM38.8 214.5h0.8v0.8h-0.8zM99.4 195.7h0.8v0.8h-0.8zM63.5 218.9h0.8v0.8h-0.8zM77 194.9h0.8v0.8h-0.8zM81.4 220.1h0.8v0.8h-0.8zM86.9 219.7h0.8v0.8h-0.8zM135.9 200.1h0.8v0.8h-0.8zM65.6 201.4h0.8v0.8h-0.8zM98.2 216.8h0.8v0.8h-0.8zM105 211.9h0.8v0.8h-0.8zM86.3 213.3h0.8v0.8h-0.8zM84.3 207.4h0.8v0.8h-0.8zM60.9 199.6h0.8v0.8h-0.8zM82.4 199.8h0.8v0.8h-0.8zM74 219.7h0.8v0.8h-0.8zM100.3 237.1h0.8v0.8h-0.8zM119.2 196.8h0.8v0.8h-0.8zM117.5 207.3h0.8v0.8h-0.8zM81.9 222.5h0.8v0.8h-0.8zM70.9 182.3h0.8v0.8h-0.8zM115.9 197.7h0.8v0.8h-0.8zM133.4 193.6h0.8v0.8h-0.8zM70.2 229.5h0.8v0.8h-0.8zM70.1 215.8h0.8v0.8h-0.8zM134.1 201.3h0.8v0.8h-0.8zM95.2 209.4h0.8v0.8h-0.8zM116.7 195.6h0.8v0.8h-0.8zM113.7 210.3h0.8v0.8h-0.8zM75.3 220.1h0.8v0.8h-0.8zM87.5 213h0.8v0.8h-0.8zM102.8 218.7h0.8v0.8h-0.8zM80.1 210.6h0.8v0.8h-0.8zM134.7 193h0.8v0.8h-0.8zM76.6 199.9h0.8v0.8h-0.8zM112.1 206.6h0.8v0.8h-0.8z" fill="#1e32ff" opacity="0.9"/>
<g filter="url(#blur)">
<path d="M79 219.3 72 219.6 66.5 218.1 64.4 216.8 63.2 215.3 62.7 213.8 63.1 211.8 64.5 209.8 67.5 207.7 71.5 206.1 75.5 205.2 83.5 204.8 87 205.5 90.5 206.9 93.5 206.6 94.3 205.8 93.9 205.3 90 203.9 88.3 202.8 87.6 201.3 87.9 199.8 89.2 198.3 92 196.6 99.5 194.1 109 192.9 118.5 193 125.5 194.6 127.6 195.8 128.8 197.3 128.9 198.3 128.5 199.8 124.8 204.3 121.5 206.8 117 209.1 107 212.5 92 215.6 83 218.5 79 219.3Z" fill="#1030ff" fill-rule="evenodd"/>
<path d="M75.5 218.8 70 218.2 66 216.3 65 215.3 64.4 213.8 64.5 212.3 65.3 210.8 67 209.2 70 207.6 76.5 206 83 206.1 91 208.7 93.5 208.4 96.6 207.3 99.3 205.8 99.6 205.3 99.3 204.8 92.7 202.3 91.5 201.3 91.2 199.8 92.2 198.3 94.5 196.8 101 194.7 109 193.6 117 193.7 123.5 195.1 125.5 196.2 126.5 197.3 126.6 198.3 126.1 199.8 121.2 205.3 118.5 207.3 114.4 209.3 105.5 212.2 91.5 214.8 81 218.1 75.5 218.8Z" fill="#1060ff" fill-rule="evenodd"/>
<path d="M79.5 217.8 74 218.1 69 217 67.5 216.2 66.2 214.8 65.7 213.3 66 211.8 67.1 210.3 69.1 208.8 72 207.6 75 206.8 79 206.5 82.5 206.9 85 207.6 89.5 209.7 91.5 210 94.5 209.3 101.5 206.3 103.4 204.8 102.9 204.3 95.5 202 93.9 200.8 93.6 199.8 94.4 198.3 95.8 197.3 101 195.4 108.5 194.2 115.5 194.2 121.5 195.3 123.6 196.3 124.6 197.3 124.7 198.8 123.7 200.3 120.1 203.3 117.8 206.3 113.7 208.8 109 210.6 104 211.9 91.5 213.7 84 216.7 79.5 217.8Z" fill="#0090ff" fill-rule="evenodd"/>
<path d="M100.5 211.9 96 212 94.5 211.8 94.1 211.3 98.1 208.8 106.7 205.3 107.5 204.8 107.5 204.3 99.5 202.4 96.8 201.3 95.6 199.8 95.9 198.8 96.9 197.8 99 196.7 102.5 195.6 111 194.6 118.5 195.2 121.5 196.2 122.9 197.3 123.2 198.3 122.5 199.8 116.2 203.8 115.5 206.3 113.7 207.8 107.7 210.3 100.5 211.9ZM79 217.4 74 217.6 69.5 216.4 68 215.5 67.1 214.3 66.8 213.3 67.1 211.8 68.5 210.1 71 208.6 74.5 207.5 78.5 207.1 82 207.4 84.5 208.2 90.5 211.8 90.5 212.3 89.4 213.3 85.8 215.3 82.5 216.6 79 217.4Z" fill="#00c0ff" fill-rule="evenodd"/>
<path d="M113.5 202.9 108.5 203.1 101.5 202.1 98.1 200.8 97.3 199.3 98.6 197.8 100.6 196.8 104 195.8 108.5 195.2 116.5 195.4 119.5 196.1 121.4 197.3 121.7 198.8 120.3 200.3 117 202 113.5 202.9ZM102 210.8 99.5 210.9 98.5 210.3 99.6 209.3 101.6 208.3 106.5 206.6 110.5 206 112 206.3 112.3 206.8 111.5 207.8 108.4 209.3 102 210.8ZM79.5 216.8 74.5 217.1 70.5 216.2 68.1 214.3 67.7 213.3 68 211.8 69.2 210.3 71.5 208.9 74.5 208 78 207.5 81 207.7 83.5 208.4 86.1 209.8 87.8 211.3 87.9 212.8 86.3 214.3 83 215.9 79.5 216.8Z" fill="#00e4e8" fill-rule="evenodd"/>
<path d="M109.5 202.3 105.5 202.1 102 201.5 99.6 200.3 99.1 199.3 99.7 198.3 102 197 109 195.6 116 195.9 118.9 196.8 120.1 197.8 119.8 199.3 117.5 200.8 113.5 202 109.5 202.3ZM79.5 216.3 75 216.6 71.2 215.8 69.6 214.8 68.9 213.8 69 211.8 70.3 210.3 72 209.3 74.5 208.5 77.5 208 82.5 208.7 84.5 209.6 86 210.8 86.6 212.3 85.6 213.8 83 215.3 79.5 216.3Z" fill="#30f080" fill-rule="evenodd"/>
<path d="M111 201.3 107 201.4 103.6 200.8 101.8 199.8 101.7 198.8 104 197.3 109.5 196.3 114.5 196.5 116.5 197 117.7 197.8 117.9 198.8 116.5 200 114 200.9 111 201.3ZM78.5 215.9 75 216 72 215.2 70.2 213.8 70 212.8 70.2 211.8 72.6 209.8 77 208.7 81.5 209.1 84.4 210.8 85 212.3 84 213.8 81.5 215.1 78.5 215.9Z" fill="#b0ff10" fill-rule="evenodd"/>
<path d="M112.5 199.9 107.5 200.2 105.9 199.8 105.2 199.3 105.2 198.8 106.8 197.8 110 197.3 113 197.5 114.5 198.3 114 199.3 112.5 199.9ZM79.5 214.9 76.5 215.2 73.7 214.8 72 213.8 71.6 212.3 72.8 210.8 75 209.8 78 209.4 80.7 209.8 82.6 210.8 83.2 212.3 82.1 213.8 79.5 214.9Z" fill="#ffe800" fill-rule="evenodd"/>
<path d="M78 214.3 74.5 214 73.4 213.3 73.2 212.3 74.5 211 76.8 210.3 79.5 210.5 81.2 211.3 81.5 212.3 81 213.1 78 214.3Z" fill="#ff8000" fill-rule="evenodd"/>
<path d="M78.5 213.4 76 213.5 75 213 74.8 212.3 76.5 211.2 79 211.3 79.9 212.3 78.5 213.4Z" fill="#ff1a00" fill-rule="evenodd"/>
</g></g>
<clipPath id="c3"><rect x="37" y="149.3" width="112" height="112.2"/></clipPath>
<polygon points="71.7,196.7 79.6,188.8 99.9,187.5 126.2,188.8 130.4,196.7 127.5,200.6 100,203 85.5,204.6 71.7,196.7" fill="none" stroke="#000" stroke-width="1.4" stroke-linejoin="round"/>
<polygon points="85.5,204.6 125.6,201.9 121.6,217 105.2,221.6 86.1,224.9" fill="none" stroke="#000" stroke-width="1.4" stroke-linejoin="round"/>
<rect x="59.2" y="203.3" width="26.9" height="21.6" fill="none" stroke="#000" stroke-width="1.4"/>
<g clip-path="url(#c4)">
<path d="M213.4 225.8 204.4 225.9 199.9 225.1 196.4 224 193.2 222.3 190.8 220.3 189.5 218.3 188.8 215.8 189 213.8 189.7 211.8 191 209.8 193.4 207.3 200.4 202.5 210.9 196.6 219.4 193.5 229.4 191.1 240.4 189.6 251.4 189 261.4 189.5 269.9 191 275.6 193.3 277.5 194.8 278.6 196.3 279 197.8 279 199.8 278.1 201.8 276.9 203.3 271.9 207.1 265.4 210.5 257.9 213.6 248.9 216.6 232.3 220.8 220.4 224.5 213.4 225.8Z" fill="url(#p1)" fill-rule="evenodd"/>
<path d="M210.9 224.3 202.9 223.9 199.4 222.9 196.4 221.6 194 219.8 192.5 217.8 191.9 215.8 192 213.8 193.8 210.3 197.4 207.1 216.4 196.6 223.9 194 232.4 192.1 241.4 190.9 250.9 190.5 259.4 191.1 266.9 192.6 271.4 194.6 272.8 195.8 273.7 197.3 274.1 199.3 273.9 201.3 272.1 204.3 267.9 207.5 260.9 210.9 247.4 215.6 230.9 219.3 218.4 223.2 210.9 224.3Z" fill="url(#p2)" fill-rule="evenodd"/>
<path d="M212.4 222.8 208.4 223 204.4 222.6 200.9 221.7 198.4 220.5 196.4 219 195.1 217.3 194.5 215.3 194.7 213.3 196.4 210.6 199.4 208 202.9 206.1 210.9 202.8 220.4 197 226.9 194.7 233.9 193.1 241.9 192 249.4 191.7 256.9 192.2 263.4 193.4 267.4 195.2 269.4 197.3 269.8 198.8 269.8 201.3 268.7 204.3 265.3 207.3 259.9 210.2 253.9 212.5 245.9 215 229.6 218.3 218.9 221.6 212.4 222.8Z" fill="url(#p3)" fill-rule="evenodd"/>
<path d="M210.9 221.8 204.4 221.3 201.9 220.5 199.4 219.2 197.8 217.8 196.8 215.8 196.7 214.3 197.4 212.3 199.6 209.8 203.4 207.6 216.4 203.5 220.6 199.3 225 196.8 230.4 194.9 236.9 193.6 242.9 192.9 249.9 192.7 255.9 193.2 260.9 194.2 264.6 195.8 266.3 197.8 266.5 199.3 265.9 203.3 265 205.3 262 207.8 256.9 210.4 251.4 212.5 244.4 214.5 228.9 217.3 217.4 220.9 210.9 221.8Z" fill="url(#p4)" fill-rule="evenodd"/>
<path d="M277.7 197.4h0.8v0.8h-0.8zM241.9 229.8h0.8v0.8h-0.8zM254.2 215.3h0.8v0.8h-0.8zM278.5 197.6h0.8v0.8h-0.8zM242 219.2h0.8v0.8h-0.8zM244.4 213.9h0.8v0.8h-0.8zM249.2 193.6h0.8v0.8h-0.8zM208.7 186.8h0.8v0.8h-0.8zM232.2 222.5h0.8v0.8h-0.8zM210.4 226.1h0.8v0.8h-0.8zM261.3 202.1h0.8v0.8h-0.8zM236 208.9h0.8v0.8h-0.8zM213.5 209.9h0.8v0.8h-0.8zM236.1 214.2h0.8v0.8h-0.8zM254.6 196.5h0.8v0.8h-0.8zM255.4 195.9h0.8v0.8h-0.8zM232.5 212.5h0.8v0.8h-0.8zM235.2 206.9h0.8v0.8h-0.8zM241.7 201.1h0.8v0.8h-0.8zM219 209.5h0.8v0.8h-0.8zM260.2 201.8h0.8v0.8h-0.8zM284.9 199.8h0.8v0.8h-0.8zM278.4 199.1h0.8v0.8h-0.8zM223 201.8h0.8v0.8h-0.8zM271.8 210.7h0.8v0.8h-0.8zM254 208.6h0.8v0.8h-0.8zM274.4 208.2h0.8v0.8h-0.8zM206.3 222.2h0.8v0.8h-0.8zM240.1 206h0.8v0.8h-0.8zM255.5 204.2h0.8v0.8h-0.8zM262.1 201.2h0.8v0.8h-0.8zM227 212.2h0.8v0.8h-0.8zM204 217.9h0.8v0.8h-0.8zM229.4 205.8h0.8v0.8h-0.8zM211.1 206.4h0.8v0.8h-0.8zM266.9 215.1h0.8v0.8h-0.8zM248.7 204.8h0.8v0.8h-0.8zM215.2 219.8h0.8v0.8h-0.8zM273.6 183.5h0.8v0.8h-0.8zM261.4 180.5h0.8v0.8h-0.8zM228.2 213.6h0.8v0.8h-0.8zM198.1 200.5h0.8v0.8h-0.8zM242.5 215.6h0.8v0.8h-0.8zM226.7 223.7h0.8v0.8h-0.8zM219.8 229.4h0.8v0.8h-0.8zM239.6 209.7h0.8v0.8h-0.8zM252.3 207.8h0.8v0.8h-0.8zM249.5 203.4h0.8v0.8h-0.8zM204.5 207h0.8v0.8h-0.8zM236 207h0.8v0.8h-0.8zM234.9 208.3h0.8v0.8h-0.8zM245.8 192.1h0.8v0.8h-0.8zM212.3 224.5h0.8v0.8h-0.8zM256.2 198.2h0.8v0.8h-0.8zM267.5 194.4h0.8v0.8h-0.8zM225.8 191.5h0.8v0.8h-0.8zM257.5 203.3h0.8v0.8h-0.8zM264.7 209.2h0.8v0.8h-0.8zM238.9 209.1h0.8v0.8h-0.8zM266.2 200h0.8v0.8h-0.8zM232.5 209.6h0.8v0.8h-0.8zM258.8 212.8h0.8v0.8h-0.8zM285.1 197h0.8v0.8h-0.8zM267.5 194.9h0.8v0.8h-0.8zM252.5 206.1h0.8v0.8h-0.8zM282.4 204.8h0.8v0.8h-0.8zM226.9 216.3h0.8v0.8h-0.8zM245.3 203.2h0.8v0.8h-0.8zM227.8 200.6h0.8v0.8h-0.8zM259.7 191.5h0.8v0.8h-0.8zM209.4 212.6h0.8v0.8h-0.8zM235.2 216.9h0.8v0.8h-0.8zM213 218.9h0.8v0.8h-0.8zM274 191.1h0.8v0.8h-0.8zM258.5 193.9h0.8v0.8h-0.8zM247 209.9h0.8v0.8h-0.8zM280.1 192.1h0.8v0.8h-0.8zM243.9 217.5h0.8v0.8h-0.8zM207.6 214.5h0.8v0.8h-0.8zM213.8 206.1h0.8v0.8h-0.8zM256.2 211.4h0.8v0.8h-0.8zM269.8 199.6h0.8v0.8h-0.8zM230 211.2h0.8v0.8h-0.8zM182.9 236.7h0.8v0.8h-0.8zM218 201.4h0.8v0.8h-0.8zM227.4 219.2h0.8v0.8h-0.8zM267.9 197.8h0.8v0.8h-0.8zM248 205.2h0.8v0.8h-0.8zM212 215.2h0.8v0.8h-0.8zM234.4 192.9h0.8v0.8h-0.8zM261.5 186.8h0.8v0.8h-0.8zM240.5 196.6h0.8v0.8h-0.8zM214.5 205.6h0.8v0.8h-0.8zM252 192h0.8v0.8h-0.8zM235 224.3h0.8v0.8h-0.8zM218.8 211.5h0.8v0.8h-0.8zM252.2 198.8h0.8v0.8h-0.8zM247.2 199h0.8v0.8h-0.8zM254.4 204.9h0.8v0.8h-0.8zM215.6 226.9h0.8v0.8h-0.8zM233.5 205.8h0.8v0.8h-0.8zM211.9 208.5h0.8v0.8h-0.8zM234.3 210.3h0.8v0.8h-0.8zM261.6 189.2h0.8v0.8h-0.8zM230 221.7h0.8v0.8h-0.8zM241.9 211.1h0.8v0.8h-0.8zM277.6 202.7h0.8v0.8h-0.8zM248.1 205.1h0.8v0.8h-0.8zM283.5 208.8h0.8v0.8h-0.8zM219.1 217.3h0.8v0.8h-0.8zM209.4 224.9h0.8v0.8h-0.8zM253 202.8h0.8v0.8h-0.8zM222.3 192.6h0.8v0.8h-0.8zM255.4 202.8h0.8v0.8h-0.8zM229.7 216.8h0.8v0.8h-0.8zM218 205.9h0.8v0.8h-0.8zM215.6 198.5h0.8v0.8h-0.8zM229 218.7h0.8v0.8h-0.8z" fill="#1e32ff" opacity="0.9"/>
<g filter="url(#blur)">
<path d="M212.4 220.8 205.9 220.5 201.2 218.8 199.5 217.3 198.6 215.8 198.6 213.8 199.2 212.3 201.4 210.1 204.4 208.4 208.4 207 212.4 206.3 216.9 206.1 220.4 206.4 222.4 207.1 227.4 209.8 229.4 209.7 231.9 208.8 233.5 207.8 233.9 207.3 233.6 206.8 224.4 204.4 222.9 202.8 222.8 201.3 224.1 199.3 226.3 197.8 229.9 196.2 234.4 194.9 243.9 193.6 252.9 193.8 259.9 195.2 262.2 196.3 263.5 197.8 263.7 199.3 262.4 202.3 262.3 204.8 261.8 205.8 259.7 207.8 255.9 209.9 250.4 212 244.9 213.6 238.4 215 227.9 216.4 218.9 219.6 212.4 220.8Z" fill="#1030ff" fill-rule="evenodd"/>
<path d="M214.4 219.9 208.4 220 203.4 218.7 201.9 217.8 200.5 216.3 200.1 214.8 200.6 212.8 201.9 211.2 204.4 209.5 207.9 208.1 211.4 207.4 215.4 207.3 219.4 207.8 222.4 209.1 225.9 211.3 227.9 211.8 230.4 211.2 236.4 208.3 239.4 206.3 238.4 205.7 228.9 203.6 226.9 202.4 226.3 201.3 226.7 199.8 228.3 198.3 231.3 196.8 234.9 195.7 242.9 194.4 251.4 194.4 257.9 195.7 260.2 196.8 261.1 197.8 261.3 198.8 261.1 199.8 258.4 203.3 258.7 206.3 257.3 207.8 253.9 209.8 247.9 212 241.4 213.7 235.9 214.5 227.9 214.9 219.9 218.5 214.4 219.9Z" fill="#1060ff" fill-rule="evenodd"/>
<path d="M238.9 213.3 233.9 213.4 232.4 212.8 232.4 212.3 235 210.3 244 206.3 245 205.8 245.1 205.3 234.9 204 230.9 202.9 229.2 201.8 228.7 200.8 229 199.8 229.8 198.8 232.4 197.3 235.9 196.2 240.9 195.2 245.4 194.8 250.4 194.9 254.4 195.5 257.4 196.5 259.1 197.8 259.4 198.8 258.8 200.3 253.3 204.3 255.6 206.3 255.4 207.3 254.4 208.3 251.8 209.8 247.9 211.3 238.9 213.3ZM213.9 219.3 208.4 219.4 203.9 218 201.6 215.8 201.3 214.3 201.8 212.8 203.8 210.8 206.4 209.4 209.9 208.4 213.9 208 217.4 208.3 220.4 209.1 223.1 210.8 225 212.8 225.1 214.3 222.4 216.5 217.9 218.5 213.9 219.3Z" fill="#0090ff" fill-rule="evenodd"/>
<path d="M246.9 203.8 240.9 203.9 235.4 203.2 231.9 202 231.1 201.3 230.7 200.3 231.7 198.8 234.4 197.3 238.4 196.2 243.4 195.5 248.4 195.4 252.9 195.9 256 196.8 257.7 198.3 257.4 199.9 254.9 201.8 251.4 203.1 246.9 203.8ZM240.4 212.3 237.4 212.4 236 211.8 236.7 210.8 238.3 209.8 244.4 207.5 249.4 206.6 251.4 206.8 252.3 207.3 252.4 207.8 251.4 208.8 248.5 210.3 240.4 212.3ZM213.9 218.8 208.9 218.9 205 217.8 202.7 215.8 202.4 214.8 202.6 213.3 203.9 211.6 206.4 210.1 209.4 209.1 212.4 208.6 215.4 208.6 218.4 209.1 220.9 210.2 222.8 211.8 223.5 213.8 222.1 215.8 218.4 217.7 213.9 218.8Z" fill="#00c0ff" fill-rule="evenodd"/>
<path d="M243.4 203.3 238.9 203.1 235 202.3 233 201.3 232.6 199.8 234.1 198.3 236.3 197.3 243.9 195.9 248.4 195.8 251.9 196.3 254.9 197.2 256.1 198.3 256.2 199.3 255.5 200.3 252.9 201.8 248.4 202.9 243.4 203.3ZM243.4 210.8 240.5 210.8 241.4 209.8 244.1 208.8 246.9 208.3 248.1 208.8 246.7 209.8 243.4 210.8ZM214.4 218.3 209.9 218.5 205.9 217.5 203.7 215.8 203.3 214.8 203.5 213.3 204.7 211.8 206.9 210.4 212.4 209.1 217.9 209.6 219.9 210.4 221.7 211.8 222.4 213.8 221.5 215.3 218.4 217.2 214.4 218.3Z" fill="#00e4e8" fill-rule="evenodd"/>
<path d="M247.9 202.3 242.9 202.7 238.2 202.3 235.2 201.3 234.6 200.8 234.4 199.8 235.1 198.8 237.4 197.7 243.9 196.4 250.9 196.7 253 197.3 254.4 198.3 254.6 199.3 253.4 200.5 250.9 201.6 247.9 202.3ZM214.4 217.9 209.9 218 206.4 217.1 204.4 215.3 204.5 213.3 205.8 211.8 207.4 210.8 212.4 209.6 217.4 210 220.6 211.8 221.3 213.8 220.4 215.3 217.9 216.9 214.4 217.9Z" fill="#30f080" fill-rule="evenodd"/>
<path d="M244.9 201.8 238.9 201.4 237.6 200.8 236.9 199.8 237.7 198.8 238.9 198.2 244.4 197.1 249.4 197.3 251 197.8 252.2 198.8 251.9 199.8 250.2 200.8 244.9 201.8ZM213.9 217.3 210.4 217.4 207.4 216.6 205.8 215.3 205.5 214.3 205.7 213.3 208.1 211.3 211.9 210.2 215.9 210.4 219.1 211.8 220 213.3 219.4 214.9 217.4 216.3 213.9 217.3Z" fill="#b0ff10" fill-rule="evenodd"/>
<path d="M246.4 200.4 242.9 200.5 241 199.8 241.1 199.3 241.9 198.8 243.9 198.3 246.4 198.3 248.2 198.8 248.5 199.3 248 199.8 246.4 200.4ZM214.9 216.3 211.9 216.7 209.2 216.3 207.5 215.3 207 213.8 208.3 212.3 210.4 211.3 213.4 210.9 216 211.3 217.8 212.3 218.4 213.8 217.3 215.3 214.9 216.3Z" fill="#ffe800" fill-rule="evenodd"/>
<path d="M213.4 215.8 209.9 215.5 208.9 214.8 208.7 213.8 209.9 212.5 212.3 211.8 214.9 212 216.5 212.8 216.8 213.8 216.1 214.8 213.4 215.8Z" fill="#ff8000" fill-rule="evenodd"/>
<path d="M213.9 214.9 211.4 215 210.4 214.4 210.2 213.8 211.9 212.7 214.4 212.8 215.2 213.8 213.9 214.9Z" fill="#ff1a00" fill-rule="evenodd"/>
</g></g>
<clipPath id="c4"><rect x="175.4" y="149.3" width="112.5" height="112.1"/></clipPath>
<polygon points="210.4,197.3 218.3,189.5 238.6,187.5 264.2,189.2 268.8,196 264.9,201.3 240,203.5 224.2,204.6 217.6,202.6 210.4,197.3" fill="none" stroke="#000" stroke-width="1.4" stroke-linejoin="round"/>
<polygon points="224.2,204.6 264.9,201.3 261,216.8 245.2,221.6 224.8,224.9" fill="none" stroke="#000" stroke-width="1.4" stroke-linejoin="round"/>
<rect x="197.9" y="203.9" width="26.3" height="21" fill="none" stroke="#000" stroke-width="1.4"/>
<g clip-path="url(#c5)">
<path d="M103 378.9 98.5 379.1 93.5 378.6 88.5 377.3 82.5 375.1 77 372.6 72 369.7 68 366.6 65 363.3 61.7 357.4 60.1 350.9 60.3 345.4 62.5 336.4 62.6 333.4 61.7 330.9 57 323.4 56.2 320.4 56.4 317.9 57.9 314.4 61.5 310.8 66.5 307.7 73 305.3 81 303.5 90 302.7 97.5 302.8 108 304.1 110.5 304.1 113 303 119 298.1 120.5 297.7 122 297.8 124.5 299.4 127 303.4 129.8 310.9 131.2 317.4 131.2 323.9 129.1 340.9 127.7 348.4 123.3 365.4 121.9 368.9 120 371.9 117.5 374.4 114 376.4 109 377.9 103 378.9Z" fill="url(#p1)" fill-rule="evenodd"/>
<path d="M94.5 367.4 85 367.4 77.5 365.9 74.5 364.6 71.5 362.7 69 360.4 67.1 357.9 65.1 353.4 64.5 347.9 65.1 343.4 67.6 336.4 68 333.4 67 330.5 63.4 325.4 61.9 322.4 61.4 319.4 62 316.9 63.9 313.9 67.6 310.9 72 308.6 78 306.7 85.5 305.3 93 304.9 99.5 305.2 108.5 306.6 111 306.7 113.5 305.8 119 302 120.5 301.7 122 302 124.5 304.1 126.8 308.4 128.7 314.9 129.3 320.4 128.9 327.4 127.2 341.4 125.3 349.4 122.8 356.4 119.3 362.9 117.5 364.8 115.5 366.1 114 366.4 112 366.1 107 362.9 105.5 362.6 99.5 366.3 94.5 367.4Z" fill="url(#p2)" fill-rule="evenodd"/>
<path d="M84 359.9 79.5 360 75.5 358.7 72 355.9 70 352.4 69.2 348.9 69.4 345.4 70.5 341.9 73.4 335.9 73.8 333.4 72.8 330.9 68.4 325.4 66.7 322.4 66.2 318.9 67.5 315.8 70 313.2 73.8 310.9 78.5 309 84 307.7 90 307 96.5 307 111 309.1 113.5 308.5 119 305.4 121 305.3 122.5 306.1 124.7 308.9 126.6 313.4 127.5 318.4 127.6 323.9 126.6 334.9 125.2 343.4 122.8 350.9 120 356 118.5 357.8 117 358.8 114.5 358.9 112.5 357.5 108 352 107 351.4 105.5 351.2 100.4 352.9 88 358.7 84 359.9Z" fill="url(#p3)" fill-rule="evenodd"/>
<path d="M117.5 354.1 115.5 354.3 113.5 353.1 108 344.5 107 343.5 106 343.2 98.5 347.5 85.5 352.4 81 353.1 79 352.6 77.5 351.7 76.3 350.4 75.6 348.9 75.4 345.4 76.7 341.9 80.3 336.4 80.8 333.9 79.3 331.4 73.5 326.1 71.2 322.9 70.4 319.4 71 317.4 71.9 315.9 74.5 313.6 78 311.6 82.5 310.1 87.5 309.1 93 308.6 98.5 308.8 111.5 311.2 114 310.7 119 308.5 120.5 308.5 122 309.2 124.3 312.4 125.8 317.4 126.3 322.9 125.7 331.4 124.6 339.4 122.7 346.4 120.2 351.4 117.5 354.1Z" fill="url(#p4)" fill-rule="evenodd"/>
<path d="M74.1 307.4h0.8v0.8h-0.8zM69.1 334h0.8v0.8h-0.8zM116.4 361.7h0.8v0.8h-0.8zM66.8 384.9h0.8v0.8h-0.8zM66.3 361.9h0.8v0.8h-0.8zM98.8 360.2h0.8v0.8h-0.8zM85.9 376.5h0.8v0.8h-0.8zM85.9 348h0.8v0.8h-0.8zM86.5 370.9h0.8v0.8h-0.8zM88.8 301.3h0.8v0.8h-0.8zM63.4 295.2h0.8v0.8h-0.8zM85.9 359.9h0.8v0.8h-0.8zM70.8 377.4h0.8v0.8h-0.8zM110.7 341.4h0.8v0.8h-0.8zM139 377.5h0.8v0.8h-0.8zM101.7 352.8h0.8v0.8h-0.8zM92.8 311.7h0.8v0.8h-0.8zM69.9 342.9h0.8v0.8h-0.8zM99 365.4h0.8v0.8h-0.8zM119.2 351.4h0.8v0.8h-0.8zM89.9 376.5h0.8v0.8h-0.8zM77.4 362h0.8v0.8h-0.8zM129.1 362.9h0.8v0.8h-0.8zM117.1 295.5h0.8v0.8h-0.8zM94.1 364.7h0.8v0.8h-0.8zM48.5 318.4h0.8v0.8h-0.8zM57.5 288.4h0.8v0.8h-0.8zM79.1 349.6h0.8v0.8h-0.8zM74.4 306.2h0.8v0.8h-0.8zM71.6 346.1h0.8v0.8h-0.8zM91 369.3h0.8v0.8h-0.8zM90.4 375.4h0.8v0.8h-0.8zM111.5 375h0.8v0.8h-0.8zM85.4 361.4h0.8v0.8h-0.8zM108 325.1h0.8v0.8h-0.8zM99.1 335.1h0.8v0.8h-0.8zM50 353.4h0.8v0.8h-0.8zM104.9 364.8h0.8v0.8h-0.8zM115.9 373.1h0.8v0.8h-0.8zM95.5 294.3h0.8v0.8h-0.8zM119.4 361.5h0.8v0.8h-0.8zM111.1 372.8h0.8v0.8h-0.8zM103.2 352.3h0.8v0.8h-0.8zM89.2 364.6h0.8v0.8h-0.8zM81.2 364.7h0.8v0.8h-0.8zM136.7 364.9h0.8v0.8h-0.8zM88.9 358.3h0.8v0.8h-0.8zM116.9 350.1h0.8v0.8h-0.8zM66.9 353.7h0.8v0.8h-0.8zM142.7 312.6h0.8v0.8h-0.8zM99 360.4h0.8v0.8h-0.8zM104.5 303h0.8v0.8h-0.8zM135.4 364.7h0.8v0.8h-0.8zM48.7 374.8h0.8v0.8h-0.8zM121.4 377.3h0.8v0.8h-0.8zM111.7 365h0.8v0.8h-0.8zM88.3 348.1h0.8v0.8h-0.8zM122.5 353.3h0.8v0.8h-0.8zM101.4 318.3h0.8v0.8h-0.8zM95.8 385.5h0.8v0.8h-0.8zM131.7 365.2h0.8v0.8h-0.8zM80.7 361.2h0.8v0.8h-0.8zM84.2 357h0.8v0.8h-0.8zM55.6 320.7h0.8v0.8h-0.8zM79.6 335.2h0.8v0.8h-0.8zM62.9 387.8h0.8v0.8h-0.8zM104 340.9h0.8v0.8h-0.8zM73.9 369.6h0.8v0.8h-0.8zM129.4 348h0.8v0.8h-0.8zM104.2 347.5h0.8v0.8h-0.8zM84.8 381.4h0.8v0.8h-0.8zM85.1 360.7h0.8v0.8h-0.8zM111.6 373.1h0.8v0.8h-0.8zM134.3 300.3h0.8v0.8h-0.8zM75.6 350.9h0.8v0.8h-0.8zM122.2 328.6h0.8v0.8h-0.8zM117.2 355.2h0.8v0.8h-0.8zM101.4 301.3h0.8v0.8h-0.8zM105.2 317.8h0.8v0.8h-0.8zM85.9 370.8h0.8v0.8h-0.8zM140 355.8h0.8v0.8h-0.8zM86.8 384.9h0.8v0.8h-0.8zM82.3 374.2h0.8v0.8h-0.8zM104.9 371.3h0.8v0.8h-0.8zM83.6 355.2h0.8v0.8h-0.8zM105.5 348.1h0.8v0.8h-0.8zM68.4 367.1h0.8v0.8h-0.8zM119.7 342.7h0.8v0.8h-0.8zM114.1 316.4h0.8v0.8h-0.8zM107.4 357.4h0.8v0.8h-0.8zM106.7 312.1h0.8v0.8h-0.8zM95.3 376.3h0.8v0.8h-0.8zM85.2 346.2h0.8v0.8h-0.8zM110 375h0.8v0.8h-0.8zM129.1 349.4h0.8v0.8h-0.8zM61 356.2h0.8v0.8h-0.8zM123.2 380.3h0.8v0.8h-0.8zM117.7 350.8h0.8v0.8h-0.8zM68.2 357.5h0.8v0.8h-0.8zM114.8 355.2h0.8v0.8h-0.8zM80.3 368.4h0.8v0.8h-0.8zM106.3 328.8h0.8v0.8h-0.8zM101.5 373.2h0.8v0.8h-0.8zM75.2 352.7h0.8v0.8h-0.8zM108.7 304.7h0.8v0.8h-0.8zM109.2 366.5h0.8v0.8h-0.8zM79.2 372.9h0.8v0.8h-0.8zM91.9 335.4h0.8v0.8h-0.8zM60.5 333.5h0.8v0.8h-0.8zM143.5 366.5h0.8v0.8h-0.8zM98.7 359h0.8v0.8h-0.8zM100.1 336.5h0.8v0.8h-0.8zM56.5 355.4h0.8v0.8h-0.8zM83.6 369.6h0.8v0.8h-0.8zM102.3 358.1h0.8v0.8h-0.8zM135.9 356.7h0.8v0.8h-0.8zM129.5 353.7h0.8v0.8h-0.8zM78.4 358.6h0.8v0.8h-0.8zM106.4 370.3h0.8v0.8h-0.8zM56.5 344h0.8v0.8h-0.8zM116.9 338.5h0.8v0.8h-0.8zM93.5 364.2h0.8v0.8h-0.8zM43.2 339.3h0.8v0.8h-0.8zM126 371.1h0.8v0.8h-0.8zM77.5 348h0.8v0.8h-0.8zM66 362.2h0.8v0.8h-0.8zM94.1 343.9h0.8v0.8h-0.8zM106.4 371.3h0.8v0.8h-0.8zM87.4 335h0.8v0.8h-0.8zM73.3 356.1h0.8v0.8h-0.8zM68.2 358.3h0.8v0.8h-0.8zM110 331.1h0.8v0.8h-0.8zM94 361.1h0.8v0.8h-0.8zM98.3 365.7h0.8v0.8h-0.8zM94.5 369.5h0.8v0.8h-0.8zM98.8 368.7h0.8v0.8h-0.8zM51.5 336.5h0.8v0.8h-0.8zM76.3 301.5h0.8v0.8h-0.8zM47.9 378.5h0.8v0.8h-0.8zM65.3 311h0.8v0.8h-0.8zM110.1 354.7h0.8v0.8h-0.8zM95.5 327.9h0.8v0.8h-0.8zM117.4 384h0.8v0.8h-0.8zM68.7 352.7h0.8v0.8h-0.8zM97.7 371.6h0.8v0.8h-0.8zM88.3 349.1h0.8v0.8h-0.8zM73.1 373.5h0.8v0.8h-0.8zM125.6 365.9h0.8v0.8h-0.8zM144.4 359.6h0.8v0.8h-0.8zM79 345.1h0.8v0.8h-0.8zM70.7 338.7h0.8v0.8h-0.8zM87.9 369.1h0.8v0.8h-0.8zM82.1 382.2h0.8v0.8h-0.8zM140.3 291.5h0.8v0.8h-0.8zM85.2 351.8h0.8v0.8h-0.8zM126.3 374.5h0.8v0.8h-0.8zM103.8 339.7h0.8v0.8h-0.8zM118.2 311.3h0.8v0.8h-0.8zM103.9 371.4h0.8v0.8h-0.8zM121.6 387.8h0.8v0.8h-0.8zM94.8 376.4h0.8v0.8h-0.8zM116.9 349.8h0.8v0.8h-0.8zM144.9 360h0.8v0.8h-0.8zM56.7 370.9h0.8v0.8h-0.8zM146.6 360.2h0.8v0.8h-0.8zM76.6 380.1h0.8v0.8h-0.8zM114.5 380.5h0.8v0.8h-0.8zM126.9 379.5h0.8v0.8h-0.8zM92.7 347.7h0.8v0.8h-0.8zM81.5 338.8h0.8v0.8h-0.8zM76.4 367.6h0.8v0.8h-0.8zM111.9 370.8h0.8v0.8h-0.8zM97 348.3h0.8v0.8h-0.8zM120.3 351.6h0.8v0.8h-0.8zM100.6 372.9h0.8v0.8h-0.8zM116.6 359.3h0.8v0.8h-0.8zM70.2 329.4h0.8v0.8h-0.8zM82.5 392.5h0.8v0.8h-0.8zM92.9 308.6h0.8v0.8h-0.8zM87.3 368.4h0.8v0.8h-0.8zM97.7 365h0.8v0.8h-0.8zM83.1 378.9h0.8v0.8h-0.8zM133.8 362h0.8v0.8h-0.8zM88.1 386.7h0.8v0.8h-0.8zM51.1 315.2h0.8v0.8h-0.8zM91.7 372.3h0.8v0.8h-0.8zM86.8 307.8h0.8v0.8h-0.8zM106.8 353.4h0.8v0.8h-0.8zM61.7 341.6h0.8v0.8h-0.8zM116.5 345.7h0.8v0.8h-0.8zM81.5 356.7h0.8v0.8h-0.8zM119.2 325.6h0.8v0.8h-0.8zM87.9 371.2h0.8v0.8h-0.8zM86.9 352h0.8v0.8h-0.8zM89.6 341.1h0.8v0.8h-0.8zM95 355.1h0.8v0.8h-0.8zM90 376.1h0.8v0.8h-0.8zM127.1 350.7h0.8v0.8h-0.8zM79.6 355.3h0.8v0.8h-0.8zM100 340.1h0.8v0.8h-0.8zM95.9 311.8h0.8v0.8h-0.8zM88.4 386.6h0.8v0.8h-0.8zM124.6 371.8h0.8v0.8h-0.8zM55.7 345.7h0.8v0.8h-0.8zM79.9 352.5h0.8v0.8h-0.8zM146.9 350.5h0.8v0.8h-0.8zM78.6 356.5h0.8v0.8h-0.8zM136.4 335.1h0.8v0.8h-0.8zM119.5 368.5h0.8v0.8h-0.8zM66.5 338.1h0.8v0.8h-0.8zM135.6 375.6h0.8v0.8h-0.8zM66.3 347.5h0.8v0.8h-0.8zM82.1 336.2h0.8v0.8h-0.8zM127.9 381.4h0.8v0.8h-0.8zM106.9 365.3h0.8v0.8h-0.8zM103.8 371.6h0.8v0.8h-0.8zM85.1 333h0.8v0.8h-0.8zM102.1 354.9h0.8v0.8h-0.8zM114.3 323.3h0.8v0.8h-0.8zM80.5 378.2h0.8v0.8h-0.8zM112.6 372.4h0.8v0.8h-0.8zM70.3 346.8h0.8v0.8h-0.8zM120.6 361.6h0.8v0.8h-0.8zM118.6 341.7h0.8v0.8h-0.8zM79.8 359h0.8v0.8h-0.8zM109.2 371h0.8v0.8h-0.8zM123.9 359.1h0.8v0.8h-0.8zM67.9 351.8h0.8v0.8h-0.8zM128.1 377.1h0.8v0.8h-0.8zM91.4 339.4h0.8v0.8h-0.8zM82.2 338.3h0.8v0.8h-0.8zM39.8 356.7h0.8v0.8h-0.8zM52.4 317.4h0.8v0.8h-0.8zM65.7 342.1h0.8v0.8h-0.8zM111.2 372.4h0.8v0.8h-0.8zM96.6 373.5h0.8v0.8h-0.8zM73.2 347h0.8v0.8h-0.8zM90.5 339.7h0.8v0.8h-0.8zM48.7 364.9h0.8v0.8h-0.8zM107.9 347.3h0.8v0.8h-0.8zM116.1 384h0.8v0.8h-0.8zM91.8 370.3h0.8v0.8h-0.8zM77.8 373.4h0.8v0.8h-0.8zM105.1 321.3h0.8v0.8h-0.8zM66.6 359.4h0.8v0.8h-0.8zM123.3 386.6h0.8v0.8h-0.8zM85 388.5h0.8v0.8h-0.8zM117.2 370.1h0.8v0.8h-0.8zM88.7 339.5h0.8v0.8h-0.8zM127.1 355.6h0.8v0.8h-0.8zM116.9 366.1h0.8v0.8h-0.8zM120.6 374h0.8v0.8h-0.8zM90.3 353.6h0.8v0.8h-0.8zM76.6 339.9h0.8v0.8h-0.8zM143.8 353.3h0.8v0.8h-0.8zM77.1 365.3h0.8v0.8h-0.8zM104 370.2h0.8v0.8h-0.8zM78.9 358.9h0.8v0.8h-0.8zM106.9 361.6h0.8v0.8h-0.8zM39.7 323.4h0.8v0.8h-0.8zM64.5 368.5h0.8v0.8h-0.8zM108 351.8h0.8v0.8h-0.8zM97.5 365.4h0.8v0.8h-0.8zM141.9 376.3h0.8v0.8h-0.8zM38 340.5h0.8v0.8h-0.8zM108.5 366.7h0.8v0.8h-0.8zM90.9 377.8h0.8v0.8h-0.8zM113.4 339.6h0.8v0.8h-0.8zM76.9 365.6h0.8v0.8h-0.8zM46.2 290.8h0.8v0.8h-0.8zM70.7 338.7h0.8v0.8h-0.8zM80.1 389.8h0.8v0.8h-0.8zM108.9 356.3h0.8v0.8h-0.8zM50.2 356.8h0.8v0.8h-0.8zM83.1 344h0.8v0.8h-0.8zM103.2 369.9h0.8v0.8h-0.8zM104.9 364.5h0.8v0.8h-0.8zM66.4 321.6h0.8v0.8h-0.8zM122.4 364.5h0.8v0.8h-0.8zM50.2 295.8h0.8v0.8h-0.8zM65.5 348.9h0.8v0.8h-0.8zM106 339.2h0.8v0.8h-0.8zM127.4 322.3h0.8v0.8h-0.8zM117.2 335.9h0.8v0.8h-0.8zM113.7 343.2h0.8v0.8h-0.8z" fill="#1e32ff" opacity="0.9"/>
<g filter="url(#blur)">
<path d="M116.5 350.4 115 349.9 114 349 111.8 344.9 110.7 340.4 110.5 332.4 110 330.8 109.3 329.9 107 329.5 99 332.1 95 332.9 91.5 332.6 87 331.2 80 327.6 75.7 323.9 74.6 321.9 74.2 319.9 74.6 317.9 75.6 316.4 78 314.2 81.5 312.4 86 311.1 91 310.3 96 310.2 100.5 310.5 112 313.3 114 313 119 311.3 120.5 311.5 121.5 312.1 123.5 315 124.7 319.9 124.9 325.4 124.2 333.9 122.9 340.9 121.1 345.9 119 349.1 117.5 350.2 116.5 350.4Z" fill="#1030ff" fill-rule="evenodd"/>
<path d="M117 346.5 116 346.3 115 345.5 113.4 342.4 112.7 338.4 112.4 330.4 111.9 328.4 111 327.1 110 326.7 108.5 326.8 101.5 328.8 96 329.6 91.5 329.4 87 328.3 81.8 325.9 78.5 322.9 77.8 321.4 77.6 319.9 77.9 318.4 78.8 316.9 81.1 314.9 84.5 313.2 88.5 312.1 93 311.6 97.5 311.6 102 312.2 112.5 315.4 114.5 315.2 118.5 314.1 120.5 314.6 122.3 316.9 123.3 320.4 123.6 324.9 123.2 331.4 122.2 337.4 120.9 341.9 119 345.3 117 346.5Z" fill="#1060ff" fill-rule="evenodd"/>
<path d="M118 342.4 116.5 342.5 115 340.2 114.4 336.9 113.9 328.4 113.4 326.4 112.5 324.8 111.5 324.4 110.5 324.4 103.5 326.8 98.5 327.8 94 327.9 90 327.4 85.5 325.9 81.9 323.4 80.4 320.9 80.3 319.4 80.9 317.9 82.9 315.9 86 314.3 90 313.2 95 312.6 99.5 312.8 104 313.7 107 314.7 113 317.6 114.5 317.6 118 316.7 120 317.3 121.2 318.9 122 321.5 122.1 329.4 121.5 334.3 120.5 338.4 119.5 340.7 118 342.4Z" fill="#0090ff" fill-rule="evenodd"/>
<path d="M100.5 326.4 93.5 326.7 87.5 325.2 85.2 323.9 83.6 322.4 82.8 320.9 82.9 318.9 84.3 316.9 87.5 315.1 91.5 314 96.5 313.6 101.5 314 105.5 315 109.2 316.9 111.3 318.9 111.9 320.9 110 322.9 105.5 325.2 100.5 326.4ZM117.5 337.9 116.5 336.7 116.1 334.9 115.1 322.4 116 320.6 118 319.7 119.4 320.4 120.2 321.9 120.8 327.4 120.4 331.4 119.5 335.4 118.5 337.4 117.5 337.9Z" fill="#00c0ff" fill-rule="evenodd"/>
<path d="M101.5 325.5 95 325.8 89.5 324.6 87.1 323.4 85.5 321.9 84.8 320.4 85 318.9 86.5 317.1 89 315.7 92.5 314.8 96 314.4 100 314.5 103.5 315.1 106.5 316.2 109 317.9 109.8 318.9 110.1 320.4 109 322.3 106 324.2 101.5 325.5Z" fill="#00e4e8" fill-rule="evenodd"/>
<path d="M100 324.9 94.5 324.8 90 323.4 87.5 321.4 87.2 320.4 87.4 318.9 88.8 317.4 91 316.3 94 315.5 97.5 315.1 101 315.3 104 316 106.5 317 108.2 318.4 108.8 320.4 107.5 322.4 104 324.1 100 324.9Z" fill="#30f080" fill-rule="evenodd"/>
<path d="M101 323.9 97 324 93 323.1 90.5 321.4 90 320.4 90.1 319.4 90.7 318.4 92.5 317.2 97.5 316 103 316.5 105 317.2 106.7 318.4 107.3 319.4 107.4 320.4 106.4 321.9 104 323.2 101 323.9Z" fill="#b0ff10" fill-rule="evenodd"/>
<path d="M101.5 322.9 98.5 323.1 95.3 322.4 93.1 320.9 93 319.4 94.7 317.9 97.5 317.1 101 317.1 104 317.9 105.7 319.4 105.5 320.9 104 322.1 101.5 322.9Z" fill="#ffe800" fill-rule="evenodd"/>
<path d="M101.5 322 99 322.1 96.5 321.5 95.3 320.4 95.4 319.4 96.8 318.4 98.5 318 100.5 317.9 102.7 318.4 104 319.4 104.1 320.4 103.1 321.4 101.5 322Z" fill="#ff8000" fill-rule="evenodd"/>
<path d="M101.5 321.1 98.5 321.1 97.5 320.6 97.2 319.9 98.5 318.9 101.4 318.9 102.6 319.9 102.5 320.4 101.5 321.1Z" fill="#ff1a00" fill-rule="evenodd"/>
</g></g>
<clipPath id="c5"><rect x="37" y="282.4" width="112" height="112.4"/></clipPath>
<rect x="68.6" y="302.3" width="41.6" height="28.5" fill="none" stroke="#000" stroke-width="1.4"/>
<rect x="110.2" y="302.3" width="21" height="28.5" fill="none" stroke="#000" stroke-width="1.4"/>
<ellipse cx="76.9" cy="350" rx="13.2" ry="12.8" fill="none" stroke="#000" stroke-width="1.4"/>
<path d="M113 331.8 C124 330 129.5 333 129.8 341 C130 352 124 363.5 117.5 363.5 C111 363.5 108 356 107 346 C107 337 109 332 113 331.8Z" fill="none" stroke="#000" stroke-width="1.4"/>
<g clip-path="url(#c6)">
<path d="M243.7 378.9 239.2 379.1 234.2 378.6 229.2 377.4 223.7 375.5 217.7 372.8 212.7 370 208.7 366.9 205.4 363.4 202 357.4 200.4 350.9 200.6 345.4 202.8 336.4 202.9 333.4 202 330.9 197.3 323.4 196.5 320.4 196.7 317.9 198.2 314.4 201.6 310.9 206.7 307.8 212.7 305.5 220.7 303.6 230.2 302.7 237.7 302.8 250.7 304.1 253.5 302.9 259.2 298.2 260.7 297.7 262.2 297.7 264.7 299.3 267.3 303.4 269.9 310.4 271.5 317.4 271.5 323.9 269.4 340.9 268 348.4 263.6 365.4 262.2 368.9 260.3 371.9 257.7 374.5 254.2 376.4 249.7 377.8 243.7 378.9Z" fill="url(#p1)" fill-rule="evenodd"/>
<path d="M234.7 367.4 225.2 367.4 217.7 365.9 214.7 364.6 211.7 362.6 209.3 360.4 207.4 357.9 205.3 352.9 204.8 347.9 205.3 343.9 208 335.9 208.3 333.4 207.3 330.4 203.7 325.4 202.3 322.9 201.7 319.9 202.3 316.9 204.2 313.9 207.9 310.9 212.7 308.5 218.2 306.7 225.7 305.4 233.2 304.9 239.7 305.2 251.2 306.7 253.7 305.8 259.2 302.1 260.7 301.7 262.2 301.9 264.7 304 267.1 308.4 268.9 314.4 269.6 320.4 269.4 325.9 267.4 341.9 265.9 348.4 263.3 355.9 259.7 362.7 257.7 364.9 255.7 366.1 254.2 366.4 252.2 366.1 247.7 363.1 246.2 362.6 244.7 363 239.7 366.3 234.7 367.4Z" fill="url(#p2)" fill-rule="evenodd"/>
<path d="M224.2 360 219.7 360 215.7 358.7 212.3 355.9 210.3 352.4 209.5 348.9 209.7 345.4 210.8 341.9 213.7 335.9 214.1 333.4 213.1 330.9 208.7 325.4 207 322.4 206.5 318.9 207.8 315.9 210.2 313.3 214.1 310.9 218.7 309.1 224.2 307.8 230.2 307 236.7 307 242.2 307.5 251.2 309.1 254 308.4 259.2 305.5 261.2 305.3 262.7 306 265 308.9 266.9 313.4 267.8 318.4 268 323.9 266.9 335.4 265.5 343.4 263.1 350.9 260.2 356.2 258.7 357.8 257.2 358.8 254.7 358.9 252.7 357.4 248.2 351.9 247.2 351.3 245.7 351.2 239.6 353.4 228.2 358.7 224.2 360Z" fill="url(#p3)" fill-rule="evenodd"/>
<path d="M257.7 354.1 255.7 354.3 253.7 353 248.7 345.1 246.7 343.3 245.2 343.7 238.7 347.5 225.7 352.5 221.2 353.1 219.2 352.6 217.7 351.7 215.9 348.9 215.7 345.4 217 341.9 220.6 336.4 221.1 333.9 219.6 331.4 213.7 326 211.5 322.9 210.7 319.4 211.3 317.4 212.2 315.9 214.7 313.6 218.2 311.7 222.7 310.1 228.2 309 233.2 308.6 238.7 308.8 251.7 311.2 254.2 310.8 259.2 308.5 261.2 308.6 262.5 309.4 264.8 312.9 266.3 318.4 266.6 323.9 265.9 332.4 264.8 339.9 263 346.4 260.5 351.4 259.2 353 257.7 354.1Z" fill="url(#p4)" fill-rule="evenodd"/>
<path d="M205.1 351.9h0.8v0.8h-0.8zM250.6 362.8h0.8v0.8h-0.8zM249.7 374h0.8v0.8h-0.8zM245.7 382.8h0.8v0.8h-0.8zM240.7 288.9h0.8v0.8h-0.8zM214.9 371.5h0.8v0.8h-0.8zM203.1 364h0.8v0.8h-0.8zM276.7 361.7h0.8v0.8h-0.8zM245.6 294.9h0.8v0.8h-0.8zM225 342.2h0.8v0.8h-0.8zM204.2 346.1h0.8v0.8h-0.8zM221.6 315.4h0.8v0.8h-0.8zM219.3 348.3h0.8v0.8h-0.8zM215.4 353.7h0.8v0.8h-0.8zM214.2 305.2h0.8v0.8h-0.8zM223.2 347.4h0.8v0.8h-0.8zM240.6 342.1h0.8v0.8h-0.8zM201.3 300.9h0.8v0.8h-0.8zM261.1 366.2h0.8v0.8h-0.8zM228.6 363h0.8v0.8h-0.8zM258.1 378.5h0.8v0.8h-0.8zM228.2 285h0.8v0.8h-0.8zM230.8 365.5h0.8v0.8h-0.8zM223 356.4h0.8v0.8h-0.8zM228 351.2h0.8v0.8h-0.8zM206.7 343.2h0.8v0.8h-0.8zM239.6 378h0.8v0.8h-0.8zM233.2 387.2h0.8v0.8h-0.8zM249.3 356.7h0.8v0.8h-0.8zM242.2 357.6h0.8v0.8h-0.8zM206.4 294.3h0.8v0.8h-0.8zM271 382.7h0.8v0.8h-0.8zM205.1 385.6h0.8v0.8h-0.8zM264.1 320.9h0.8v0.8h-0.8zM243.9 340.5h0.8v0.8h-0.8zM265 355.5h0.8v0.8h-0.8zM212.4 350.3h0.8v0.8h-0.8zM233 351.8h0.8v0.8h-0.8zM208.7 336.3h0.8v0.8h-0.8zM241.8 321.3h0.8v0.8h-0.8zM254.2 327.5h0.8v0.8h-0.8zM230.8 328.8h0.8v0.8h-0.8zM218.1 340.8h0.8v0.8h-0.8zM216.5 392.8h0.8v0.8h-0.8zM205.5 371.1h0.8v0.8h-0.8zM229.7 334.3h0.8v0.8h-0.8zM222.2 321.1h0.8v0.8h-0.8zM209.4 310.4h0.8v0.8h-0.8zM267.3 320.1h0.8v0.8h-0.8zM215.6 367.7h0.8v0.8h-0.8zM222.8 344h0.8v0.8h-0.8zM256.5 381.8h0.8v0.8h-0.8zM220 353.6h0.8v0.8h-0.8zM213.2 357.7h0.8v0.8h-0.8zM273.8 388.4h0.8v0.8h-0.8zM254.5 361.7h0.8v0.8h-0.8zM215.2 356h0.8v0.8h-0.8zM201.5 346.4h0.8v0.8h-0.8zM212.8 318.5h0.8v0.8h-0.8zM257 347.5h0.8v0.8h-0.8zM241.9 377h0.8v0.8h-0.8zM240.8 343h0.8v0.8h-0.8zM238.8 364.2h0.8v0.8h-0.8zM224.8 336.1h0.8v0.8h-0.8zM218.4 360.7h0.8v0.8h-0.8zM230.2 334.2h0.8v0.8h-0.8zM247.6 367.6h0.8v0.8h-0.8zM254.8 349h0.8v0.8h-0.8zM254.3 312.2h0.8v0.8h-0.8zM220.2 361.4h0.8v0.8h-0.8zM240.2 343.5h0.8v0.8h-0.8zM221.3 353.6h0.8v0.8h-0.8zM225 356.7h0.8v0.8h-0.8zM257.7 375.9h0.8v0.8h-0.8zM263.4 304.7h0.8v0.8h-0.8zM211.2 321.9h0.8v0.8h-0.8zM284.4 371.5h0.8v0.8h-0.8zM216.1 345.3h0.8v0.8h-0.8zM238.7 339.6h0.8v0.8h-0.8zM229.2 362.2h0.8v0.8h-0.8zM256.7 304.9h0.8v0.8h-0.8zM280.7 354.4h0.8v0.8h-0.8zM255.4 352.5h0.8v0.8h-0.8zM236.5 388.4h0.8v0.8h-0.8zM251 381.1h0.8v0.8h-0.8zM234.3 391.1h0.8v0.8h-0.8zM228 353h0.8v0.8h-0.8zM244.9 305.8h0.8v0.8h-0.8zM273 352.3h0.8v0.8h-0.8zM213.1 333.5h0.8v0.8h-0.8zM209.3 344.6h0.8v0.8h-0.8zM216.1 345.7h0.8v0.8h-0.8zM226.8 342.4h0.8v0.8h-0.8zM206.2 373.4h0.8v0.8h-0.8zM252.1 358h0.8v0.8h-0.8zM246.3 382.2h0.8v0.8h-0.8zM211.3 333.4h0.8v0.8h-0.8zM204.8 321.5h0.8v0.8h-0.8zM245.7 380.3h0.8v0.8h-0.8zM206.3 329.9h0.8v0.8h-0.8zM233.7 369.9h0.8v0.8h-0.8zM227.9 362.6h0.8v0.8h-0.8zM228.9 360.9h0.8v0.8h-0.8zM213.4 315.9h0.8v0.8h-0.8zM230.4 367.1h0.8v0.8h-0.8zM219.1 302.3h0.8v0.8h-0.8zM205.2 350.2h0.8v0.8h-0.8zM253.9 374.4h0.8v0.8h-0.8zM229.5 379.3h0.8v0.8h-0.8zM232.7 355.9h0.8v0.8h-0.8zM197.2 333.8h0.8v0.8h-0.8zM204.4 307.3h0.8v0.8h-0.8zM220.4 351.1h0.8v0.8h-0.8zM243.3 346h0.8v0.8h-0.8zM192.5 330.8h0.8v0.8h-0.8zM247 320.8h0.8v0.8h-0.8zM243.1 333.9h0.8v0.8h-0.8zM218.4 355.7h0.8v0.8h-0.8zM245.4 368.5h0.8v0.8h-0.8zM237 382.3h0.8v0.8h-0.8zM215.4 355.7h0.8v0.8h-0.8zM275.1 375.4h0.8v0.8h-0.8zM271.7 319.4h0.8v0.8h-0.8zM246.5 377.3h0.8v0.8h-0.8zM242.5 342.2h0.8v0.8h-0.8zM271.4 365.7h0.8v0.8h-0.8zM215.4 338.4h0.8v0.8h-0.8zM191.7 329.7h0.8v0.8h-0.8zM271.1 329.7h0.8v0.8h-0.8zM252.3 375.4h0.8v0.8h-0.8zM266.8 377.1h0.8v0.8h-0.8zM219.3 316.7h0.8v0.8h-0.8zM219.5 347.6h0.8v0.8h-0.8zM230.8 311h0.8v0.8h-0.8zM259.9 357.4h0.8v0.8h-0.8zM224.4 346.5h0.8v0.8h-0.8zM228.3 372h0.8v0.8h-0.8zM233.7 299.1h0.8v0.8h-0.8zM227.8 364.3h0.8v0.8h-0.8zM214.4 356.1h0.8v0.8h-0.8zM216.5 343h0.8v0.8h-0.8zM208.4 364.6h0.8v0.8h-0.8zM267.7 364.8h0.8v0.8h-0.8zM224.2 353.8h0.8v0.8h-0.8zM227.4 355.7h0.8v0.8h-0.8zM249.4 286.2h0.8v0.8h-0.8zM251.3 352.4h0.8v0.8h-0.8zM225.2 345.4h0.8v0.8h-0.8zM230.8 354.8h0.8v0.8h-0.8zM203.5 329.9h0.8v0.8h-0.8zM232.1 376.4h0.8v0.8h-0.8zM255.3 335.9h0.8v0.8h-0.8zM240 318.7h0.8v0.8h-0.8zM252.5 366h0.8v0.8h-0.8zM237.8 333.5h0.8v0.8h-0.8zM193.2 300.7h0.8v0.8h-0.8zM244.2 369.2h0.8v0.8h-0.8zM266.9 335.5h0.8v0.8h-0.8zM244.1 384.7h0.8v0.8h-0.8zM237 348.6h0.8v0.8h-0.8zM234.9 327.8h0.8v0.8h-0.8zM261.3 297h0.8v0.8h-0.8zM194.6 354.4h0.8v0.8h-0.8zM242.3 371.2h0.8v0.8h-0.8zM243 344.8h0.8v0.8h-0.8zM229.5 376.2h0.8v0.8h-0.8zM243.8 300.8h0.8v0.8h-0.8zM236.4 373.4h0.8v0.8h-0.8zM210.9 355.3h0.8v0.8h-0.8zM233.2 380.9h0.8v0.8h-0.8zM271.6 349.1h0.8v0.8h-0.8zM210.8 377.9h0.8v0.8h-0.8zM215.2 355h0.8v0.8h-0.8zM286.4 317.6h0.8v0.8h-0.8zM260.6 323.3h0.8v0.8h-0.8zM225.9 376.4h0.8v0.8h-0.8zM245.7 384.9h0.8v0.8h-0.8zM247 382.1h0.8v0.8h-0.8zM251.6 346.2h0.8v0.8h-0.8zM224.4 321.9h0.8v0.8h-0.8zM226.2 339.5h0.8v0.8h-0.8zM244.4 364.2h0.8v0.8h-0.8zM200.5 367.9h0.8v0.8h-0.8zM223.7 346.4h0.8v0.8h-0.8zM260.7 375.4h0.8v0.8h-0.8zM247.2 362.9h0.8v0.8h-0.8zM215.7 354.7h0.8v0.8h-0.8zM240.9 352.9h0.8v0.8h-0.8zM230.2 340h0.8v0.8h-0.8zM269 351h0.8v0.8h-0.8zM206.1 347.4h0.8v0.8h-0.8zM187.3 313.9h0.8v0.8h-0.8zM222.5 391.3h0.8v0.8h-0.8zM224.2 353h0.8v0.8h-0.8zM216.8 361h0.8v0.8h-0.8zM235 376.7h0.8v0.8h-0.8zM268.5 322.7h0.8v0.8h-0.8zM252.3 342.5h0.8v0.8h-0.8zM252.9 287.9h0.8v0.8h-0.8zM221.5 353h0.8v0.8h-0.8zM185.9 376.6h0.8v0.8h-0.8zM223.9 349.2h0.8v0.8h-0.8zM247.5 371.7h0.8v0.8h-0.8zM229.6 360.3h0.8v0.8h-0.8zM246.5 292.8h0.8v0.8h-0.8zM268 316.1h0.8v0.8h-0.8zM250.9 353.7h0.8v0.8h-0.8zM250.9 367.1h0.8v0.8h-0.8zM257.8 387.5h0.8v0.8h-0.8zM219.8 333.3h0.8v0.8h-0.8zM246.2 390.7h0.8v0.8h-0.8zM197.2 345.6h0.8v0.8h-0.8zM240.5 353.6h0.8v0.8h-0.8zM233.7 361.1h0.8v0.8h-0.8zM265.3 357.3h0.8v0.8h-0.8zM227.8 345.7h0.8v0.8h-0.8zM256 346.6h0.8v0.8h-0.8zM213.5 334.9h0.8v0.8h-0.8zM221 348.7h0.8v0.8h-0.8zM237 350.5h0.8v0.8h-0.8zM241.3 367.6h0.8v0.8h-0.8zM250 364.6h0.8v0.8h-0.8zM264.1 358.5h0.8v0.8h-0.8zM198.3 357.1h0.8v0.8h-0.8zM256.1 374.6h0.8v0.8h-0.8zM256.4 390.6h0.8v0.8h-0.8zM237 366.7h0.8v0.8h-0.8zM236 389.4h0.8v0.8h-0.8zM204.7 383.3h0.8v0.8h-0.8zM257 384.5h0.8v0.8h-0.8zM221.9 391h0.8v0.8h-0.8zM269.7 373.8h0.8v0.8h-0.8zM210.4 375.4h0.8v0.8h-0.8zM211.7 292.4h0.8v0.8h-0.8zM215.5 390h0.8v0.8h-0.8zM192.6 322.6h0.8v0.8h-0.8zM245.3 383.7h0.8v0.8h-0.8zM219 356.6h0.8v0.8h-0.8zM262.5 337.2h0.8v0.8h-0.8zM272.6 301.3h0.8v0.8h-0.8zM216.3 359.3h0.8v0.8h-0.8zM239 301.9h0.8v0.8h-0.8zM223.3 380.7h0.8v0.8h-0.8zM259.7 375.5h0.8v0.8h-0.8zM255.7 292.1h0.8v0.8h-0.8zM225.7 384.4h0.8v0.8h-0.8zM240 354.4h0.8v0.8h-0.8zM219.8 356.4h0.8v0.8h-0.8zM270.9 356.8h0.8v0.8h-0.8zM198.7 333.1h0.8v0.8h-0.8zM231 363.9h0.8v0.8h-0.8zM212 348.1h0.8v0.8h-0.8zM250.3 354.6h0.8v0.8h-0.8zM186.2 312.7h0.8v0.8h-0.8zM271.1 356.8h0.8v0.8h-0.8zM249.1 300.4h0.8v0.8h-0.8zM235.4 354.7h0.8v0.8h-0.8zM219.9 370.3h0.8v0.8h-0.8zM199.7 339.6h0.8v0.8h-0.8zM216.6 337.4h0.8v0.8h-0.8zM215.7 337h0.8v0.8h-0.8zM238.4 347.4h0.8v0.8h-0.8zM212.2 362.1h0.8v0.8h-0.8zM238.6 329.7h0.8v0.8h-0.8zM258.1 340h0.8v0.8h-0.8zM229.9 334.1h0.8v0.8h-0.8zM272.2 328.6h0.8v0.8h-0.8zM214.8 376.7h0.8v0.8h-0.8zM221.5 348.8h0.8v0.8h-0.8zM256.7 350.1h0.8v0.8h-0.8zM182.4 312.5h0.8v0.8h-0.8zM262 376h0.8v0.8h-0.8zM238.3 359.9h0.8v0.8h-0.8zM232.3 356.9h0.8v0.8h-0.8zM210.9 343.3h0.8v0.8h-0.8zM246 344.4h0.8v0.8h-0.8zM241.9 389.2h0.8v0.8h-0.8zM218.7 339.8h0.8v0.8h-0.8zM229.2 337.3h0.8v0.8h-0.8zM249.6 388.5h0.8v0.8h-0.8zM262.8 383.7h0.8v0.8h-0.8zM246.4 366.9h0.8v0.8h-0.8zM243.5 309.8h0.8v0.8h-0.8zM221.1 360.8h0.8v0.8h-0.8zM224.7 351.7h0.8v0.8h-0.8z" fill="#1e32ff" opacity="0.9"/>
<g filter="url(#blur)">
<path d="M256.7 350.4 255.3 349.9 254.2 348.9 251.9 344.4 251 339.9 250.8 332.4 249.7 330 248.7 329.5 247.2 329.5 239.2 332.2 235.2 332.9 231.7 332.6 227.2 331.2 220.2 327.6 216 323.9 214.8 321.9 214.5 319.9 214.9 317.9 215.9 316.4 218.2 314.3 221.7 312.5 226.2 311.1 231.2 310.3 236.2 310.2 240.7 310.5 252.2 313.3 254.2 313 259.2 311.3 260.7 311.5 261.7 312 263.7 314.9 265 319.9 265.2 325.4 264.5 333.9 263.3 340.4 261.4 345.9 259.2 349.2 257.7 350.3 256.7 350.4Z" fill="#1030ff" fill-rule="evenodd"/>
<path d="M257.7 346.4 256.7 346.4 255.7 345.9 253.9 342.9 253.1 338.9 252.6 329.9 252.2 328.4 251.2 327.1 250.2 326.7 248.7 326.8 241.7 328.8 236.7 329.6 232.2 329.4 227.7 328.5 222.7 326.3 219.2 323.4 218.1 321.4 217.9 319.9 218.2 318.4 219.1 316.9 221.4 314.9 224.7 313.3 228.7 312.2 233.7 311.6 238.2 311.6 242.7 312.2 252.7 315.4 254.7 315.3 258.7 314.1 260.2 314.3 261.2 314.9 262.7 317.1 263.7 320.9 263.9 325.4 263.4 331.9 262.5 337.4 261.2 341.9 259.7 344.8 257.7 346.4Z" fill="#1060ff" fill-rule="evenodd"/>
<path d="M258.2 342.5 256.7 342.4 255.2 339.9 254.7 336.9 254.2 328.4 253.7 326.3 252.7 324.7 250.7 324.5 244.2 326.7 239.2 327.8 234.7 328 230.2 327.4 225.7 325.8 222.2 323.4 221.1 321.9 220.6 320.4 221.2 317.9 223.2 315.9 226.2 314.3 230.2 313.2 235.2 312.6 239.7 312.8 244.2 313.7 253.7 317.7 258.2 316.7 260.2 317.2 261.5 318.9 262.3 321.4 262.4 329.4 261.8 334.4 260.8 338.4 259.7 340.9 258.2 342.5Z" fill="#0090ff" fill-rule="evenodd"/>
<path d="M240.7 326.5 233.7 326.7 230.2 326 227.2 324.9 224.8 323.4 223.5 321.9 223 319.9 223.4 318.4 225.3 316.4 228.3 314.9 232.7 313.8 237.2 313.6 242.2 314.1 246.2 315.2 249.5 316.9 251.6 318.9 252.2 320.9 250.3 322.9 245.7 325.2 240.7 326.5ZM258.7 337.5 257.7 337.9 256.6 335.9 255.4 322.9 256 320.9 257.2 319.9 258.2 319.7 259.2 320 260.2 321.1 261.1 325.4 260.5 332.9 259.7 335.8 258.7 337.5Z" fill="#00c0ff" fill-rule="evenodd"/>
<path d="M241.7 325.5 235.2 325.8 229.7 324.6 227.4 323.4 225.8 321.9 225.1 320.4 225.3 318.9 226.7 317.2 229.2 315.8 232.7 314.8 236.2 314.4 240.2 314.5 243.7 315.1 246.7 316.2 249.3 317.9 250.1 318.9 250.4 320.4 249.2 322.4 246.2 324.2 241.7 325.5Z" fill="#00e4e8" fill-rule="evenodd"/>
<path d="M240.2 324.9 234.7 324.8 230.3 323.4 227.8 321.4 227.4 319.9 227.7 318.9 229.1 317.4 231.2 316.3 234.2 315.5 237.7 315.1 241.2 315.3 244.2 315.9 246.7 317 248.5 318.4 249.1 320.4 247.8 322.4 244.7 324 240.2 324.9Z" fill="#30f080" fill-rule="evenodd"/>
<path d="M241.2 323.9 237.2 324 233.2 323 230.8 321.4 230.3 320.4 230.4 319.4 231 318.4 232.7 317.3 237.7 316 243.2 316.5 245.6 317.4 247 318.4 247.6 319.4 247.7 320.4 246.7 321.9 244.2 323.3 241.2 323.9Z" fill="#b0ff10" fill-rule="evenodd"/>
<path d="M241.7 322.9 238.7 323.1 235.6 322.4 233.4 320.9 233.3 319.4 235.2 317.8 238.7 317 242.2 317.2 245.1 318.4 246 319.4 245.8 320.9 244.2 322.2 241.7 322.9Z" fill="#ffe800" fill-rule="evenodd"/>
<path d="M241.7 322 239.2 322.1 237.2 321.7 235.7 320.5 235.7 319.4 237.1 318.4 238.7 318 240.8 317.9 243 318.4 244.3 319.4 244.4 320.4 243.4 321.4 241.7 322Z" fill="#ff8000" fill-rule="evenodd"/>
<path d="M242.2 320.9 239.2 321.2 238.2 320.9 237.5 319.9 238.7 318.9 241.2 318.8 242.6 319.4 242.9 319.9 242.2 320.9Z" fill="#ff1a00" fill-rule="evenodd"/>
</g></g>
<clipPath id="c6"><rect x="178.2" y="282.4" width="112.9" height="112.4"/></clipPath>
<rect x="208.9" y="302.3" width="41.6" height="28.5" fill="none" stroke="#000" stroke-width="1.4"/>
<rect x="250.5" y="302.3" width="21" height="28.5" fill="none" stroke="#000" stroke-width="1.4"/>
<ellipse cx="217.2" cy="350" rx="13.2" ry="12.8" fill="none" stroke="#000" stroke-width="1.4"/>
<path d="M253.3 331.8 C264.3 330 269.8 333 270.1 341 C270.3 352 264.3 363.5 257.8 363.5 C251.3 363.5 248.3 356 247.3 346 C247.3 337 249.3 332 253.3 331.8Z" fill="none" stroke="#000" stroke-width="1.4"/>
<g clip-path="url(#c7)">
<path d="M87.1 518.4 84.1 518.5 80.6 518 73.1 515.1 62.5 508.9 59.4 506.4 57.3 503.9 56.4 501.4 56.5 498.9 60.7 489.9 63.3 472.9 65.4 466.9 68.9 459.9 69.1 458.4 67.8 456.9 64 455.4 45.6 451.6 36.6 449.3 36.3 443.4 36.6 437.5 50.6 437.5 75.1 439.5 82.6 439.4 84.9 438.9 87 437.9 92.1 433.5 95.6 431.4 100.1 430 104.6 429.6 109.6 430.2 114.6 432.3 118.6 435.2 121.9 439.4 127.3 450.9 128 453.4 128.3 456.4 127.6 466.4 126.4 472.4 124.5 477.9 120.1 486.9 119.2 489.9 119.6 492.6 122.6 498.9 122.7 500.9 122.4 502.4 121.1 504.4 119.5 505.9 114.1 509.1 94.6 516.7 87.1 518.4Z" fill="url(#p1)" fill-rule="evenodd"/>
<path d="M90.6 513.9 86.1 514.4 82.1 514.1 78.1 513.2 73.6 511.6 69.6 509.7 65.6 506.9 63.2 504.4 61.9 501.9 61.6 499.9 61.9 497.9 64.4 491.9 65.3 488.9 66.3 478.9 67.5 473.4 70.3 466.9 75.2 459.4 75.5 458.4 75.2 457.4 73.1 455.9 70.2 454.9 47.6 450.3 36.6 446.9 36.6 439.9 43.6 439.2 52.6 439.2 79.6 441.6 86.6 441.7 92.1 440.6 100.1 436.4 105.1 435.7 109.1 436.4 112.6 438 115.6 440.4 118.6 443.9 121.8 448.9 123.5 452.9 124.1 456.4 124 462.4 123.4 468.4 121.9 474.4 119.5 479.9 114.8 487.9 113.9 490.4 114.1 493.1 116.5 498.9 116.2 501.9 113.9 504.9 108.6 508.1 99.1 511.7 90.6 513.9Z" fill="url(#p2)" fill-rule="evenodd"/>
<path d="M90.1 510.9 82.6 511 75.6 509.7 72.6 508.7 70.6 507.6 68.6 505.9 67.2 503.9 66.4 501.4 66.5 497.9 69.3 489.9 70.4 479.4 71.8 473.9 73.3 470.4 75.5 466.9 82 459.4 82.5 457.9 82.2 456.9 80.2 455.4 77.1 454.4 55.6 450.3 46.4 447.9 40.8 445.4 39.6 443.9 40 442.9 41.6 442.1 44.1 441.5 51.6 441 63.6 441.5 88.6 444.1 94.1 443.9 102.6 442.4 106.1 442.2 109.1 442.8 112.1 444.1 115.1 446.3 117.8 449.4 119.5 452.4 120.5 455.9 120.9 461.9 120.5 467.4 119.3 472.4 117.3 477.4 115 481.4 110 488.4 109 490.4 108.9 493.4 110.7 499.4 110.2 501.9 107.6 504.7 103.1 507.2 96.6 509.5 90.1 510.9Z" fill="url(#p3)" fill-rule="evenodd"/>
<path d="M91.6 507.9 86.6 508.4 74.6 507.9 72.6 507.2 70.8 505.9 69.7 504.4 69.1 502.4 69.5 499.9 72.2 494.4 73.3 490.9 74.5 480.4 76 474.9 79.5 468.9 87.9 459.4 88.8 457.4 88.4 455.4 86.6 454.1 83.1 453 63.2 449.9 54.5 447.9 49.8 445.9 49 444.9 49.6 444.1 53.1 443.3 60.1 443.1 69.7 443.9 90.1 446.8 106.6 446.3 109.6 447 112.1 448.2 114.2 449.9 115.9 451.9 117.3 454.9 118.2 459.4 118.4 464.4 117.8 468.9 116.2 473.9 113.9 478.4 111 482.4 105.5 488.4 104 490.9 103.7 493.4 105 498.4 104.8 500.9 103.5 502.9 100.6 505 96.6 506.7 91.6 507.9Z" fill="url(#p4)" fill-rule="evenodd"/>
<path d="M100.4 463.7h0.8v0.8h-0.8zM61.5 446.6h0.8v0.8h-0.8zM132.8 483.9h0.8v0.8h-0.8zM99.3 434.2h0.8v0.8h-0.8zM79.1 510.1h0.8v0.8h-0.8zM77 448.9h0.8v0.8h-0.8zM95.8 428.9h0.8v0.8h-0.8zM63.9 451.1h0.8v0.8h-0.8zM85.2 464.3h0.8v0.8h-0.8zM89.5 472.7h0.8v0.8h-0.8zM55.2 464.1h0.8v0.8h-0.8zM89.7 448.8h0.8v0.8h-0.8zM90.8 445.8h0.8v0.8h-0.8zM133.1 462.2h0.8v0.8h-0.8zM80 474.8h0.8v0.8h-0.8zM94.9 445.2h0.8v0.8h-0.8zM74.6 458.4h0.8v0.8h-0.8zM88.5 464.9h0.8v0.8h-0.8zM68.9 478h0.8v0.8h-0.8zM39.6 437.7h0.8v0.8h-0.8zM115.4 430.9h0.8v0.8h-0.8zM113 455.2h0.8v0.8h-0.8zM101.5 483.8h0.8v0.8h-0.8zM123.4 438h0.8v0.8h-0.8zM92.9 426.5h0.8v0.8h-0.8zM96 507h0.8v0.8h-0.8zM119 446.4h0.8v0.8h-0.8zM47.7 441.9h0.8v0.8h-0.8zM102.3 464.9h0.8v0.8h-0.8zM100.4 477.4h0.8v0.8h-0.8zM87.5 469h0.8v0.8h-0.8zM102.5 439.2h0.8v0.8h-0.8zM106 458.7h0.8v0.8h-0.8zM107.1 440.6h0.8v0.8h-0.8zM52.8 479.7h0.8v0.8h-0.8zM76.6 425.9h0.8v0.8h-0.8zM116.4 487.7h0.8v0.8h-0.8zM98.2 422.9h0.8v0.8h-0.8zM58.4 442.5h0.8v0.8h-0.8zM107.6 462.6h0.8v0.8h-0.8zM102.6 432.2h0.8v0.8h-0.8zM40.5 443.1h0.8v0.8h-0.8zM90.6 441.2h0.8v0.8h-0.8zM69.3 441.7h0.8v0.8h-0.8zM122.8 496.6h0.8v0.8h-0.8zM122.1 458.1h0.8v0.8h-0.8zM106.2 438.7h0.8v0.8h-0.8zM85.3 461.5h0.8v0.8h-0.8zM62.5 433.9h0.8v0.8h-0.8zM83.4 448.5h0.8v0.8h-0.8zM100.4 495h0.8v0.8h-0.8zM51.7 450.4h0.8v0.8h-0.8zM102.1 443.9h0.8v0.8h-0.8zM85.6 495.7h0.8v0.8h-0.8zM100.3 439.7h0.8v0.8h-0.8zM88.8 448.1h0.8v0.8h-0.8zM106.6 422.5h0.8v0.8h-0.8zM128.7 485h0.8v0.8h-0.8zM95.5 449.2h0.8v0.8h-0.8zM87.6 441.8h0.8v0.8h-0.8zM134.7 453.8h0.8v0.8h-0.8zM99.1 428.2h0.8v0.8h-0.8zM95.4 449.8h0.8v0.8h-0.8zM63.7 496.8h0.8v0.8h-0.8zM104 429.6h0.8v0.8h-0.8zM82.5 458.5h0.8v0.8h-0.8zM99.4 434.6h0.8v0.8h-0.8zM48.2 443h0.8v0.8h-0.8zM87.7 427.1h0.8v0.8h-0.8zM93.8 492.1h0.8v0.8h-0.8zM56.8 470.1h0.8v0.8h-0.8zM52.5 440.2h0.8v0.8h-0.8zM116.3 457h0.8v0.8h-0.8zM118 432.2h0.8v0.8h-0.8zM74.6 447.1h0.8v0.8h-0.8zM49.2 447.6h0.8v0.8h-0.8zM62.2 449.5h0.8v0.8h-0.8zM93.8 442.9h0.8v0.8h-0.8zM98.8 440.5h0.8v0.8h-0.8zM111.5 430.9h0.8v0.8h-0.8zM66.3 438.4h0.8v0.8h-0.8zM111.3 443h0.8v0.8h-0.8zM78.3 439.4h0.8v0.8h-0.8zM91.1 442.8h0.8v0.8h-0.8zM67.8 451.4h0.8v0.8h-0.8zM66.8 479.5h0.8v0.8h-0.8zM74.8 452h0.8v0.8h-0.8zM109.6 451.1h0.8v0.8h-0.8zM105.2 430.3h0.8v0.8h-0.8zM85.5 421.6h0.8v0.8h-0.8zM106.8 451.1h0.8v0.8h-0.8zM101.1 469.2h0.8v0.8h-0.8zM99 471.2h0.8v0.8h-0.8zM142.7 444h0.8v0.8h-0.8zM56.1 444.7h0.8v0.8h-0.8zM84 447.5h0.8v0.8h-0.8zM115.5 446h0.8v0.8h-0.8zM83.3 436.5h0.8v0.8h-0.8zM78.2 443.3h0.8v0.8h-0.8zM121 443.1h0.8v0.8h-0.8zM87.9 432.3h0.8v0.8h-0.8zM70.6 504.6h0.8v0.8h-0.8zM84.2 447.5h0.8v0.8h-0.8zM73.2 422.7h0.8v0.8h-0.8zM85.2 469.2h0.8v0.8h-0.8zM92.9 467.7h0.8v0.8h-0.8zM67 468.3h0.8v0.8h-0.8zM94 502.3h0.8v0.8h-0.8zM141.7 466.6h0.8v0.8h-0.8zM49.4 444.3h0.8v0.8h-0.8zM92.7 432.6h0.8v0.8h-0.8zM65.4 441.7h0.8v0.8h-0.8zM107.3 439h0.8v0.8h-0.8zM101.3 465.4h0.8v0.8h-0.8zM76.8 446.3h0.8v0.8h-0.8zM97.2 434.5h0.8v0.8h-0.8zM100.8 469.9h0.8v0.8h-0.8zM60.9 471.7h0.8v0.8h-0.8zM83.9 433.8h0.8v0.8h-0.8zM87.6 418.1h0.8v0.8h-0.8zM97.3 473.8h0.8v0.8h-0.8zM91 459.4h0.8v0.8h-0.8zM85.7 445.6h0.8v0.8h-0.8zM96.8 434.5h0.8v0.8h-0.8zM101.1 428h0.8v0.8h-0.8zM100.9 473.6h0.8v0.8h-0.8zM98.3 435.6h0.8v0.8h-0.8zM108.8 428.4h0.8v0.8h-0.8zM75.9 449.6h0.8v0.8h-0.8zM102.1 479.6h0.8v0.8h-0.8zM78.7 463.5h0.8v0.8h-0.8zM107.6 444.3h0.8v0.8h-0.8zM71.6 440.1h0.8v0.8h-0.8zM108.4 499.2h0.8v0.8h-0.8zM87.8 451.2h0.8v0.8h-0.8zM56.1 493.6h0.8v0.8h-0.8zM75.3 440.8h0.8v0.8h-0.8zM62.6 454.1h0.8v0.8h-0.8zM126.8 460.7h0.8v0.8h-0.8zM101.8 513.7h0.8v0.8h-0.8zM100.8 451.4h0.8v0.8h-0.8zM89 438.5h0.8v0.8h-0.8zM50.6 447h0.8v0.8h-0.8zM104.7 441.1h0.8v0.8h-0.8zM119.9 450.7h0.8v0.8h-0.8zM93.6 488.3h0.8v0.8h-0.8zM78 454.1h0.8v0.8h-0.8zM104.8 436.9h0.8v0.8h-0.8zM104.1 444.9h0.8v0.8h-0.8zM54 484.5h0.8v0.8h-0.8zM93.6 477.7h0.8v0.8h-0.8zM52.6 460.9h0.8v0.8h-0.8zM53.5 440.9h0.8v0.8h-0.8zM38.6 461.6h0.8v0.8h-0.8zM117.4 479.5h0.8v0.8h-0.8zM92.8 439.9h0.8v0.8h-0.8zM98.5 445.4h0.8v0.8h-0.8zM79.7 457.5h0.8v0.8h-0.8zM90.5 452h0.8v0.8h-0.8zM103.6 447.9h0.8v0.8h-0.8zM81.5 469h0.8v0.8h-0.8zM117.7 518.9h0.8v0.8h-0.8zM91 468.8h0.8v0.8h-0.8zM100 503.6h0.8v0.8h-0.8zM94.2 506.7h0.8v0.8h-0.8zM45.1 443.1h0.8v0.8h-0.8zM90 489.7h0.8v0.8h-0.8zM121.1 432.3h0.8v0.8h-0.8zM72.1 478.4h0.8v0.8h-0.8zM92.1 424.8h0.8v0.8h-0.8zM112.5 444.9h0.8v0.8h-0.8zM107.3 458.1h0.8v0.8h-0.8zM120.7 464h0.8v0.8h-0.8zM122.4 447.2h0.8v0.8h-0.8zM73.6 475.1h0.8v0.8h-0.8zM91.6 446.8h0.8v0.8h-0.8zM72.3 443.2h0.8v0.8h-0.8zM96.8 461.2h0.8v0.8h-0.8zM86.4 446.7h0.8v0.8h-0.8zM84 500.3h0.8v0.8h-0.8zM113.4 463.8h0.8v0.8h-0.8zM100.8 442.2h0.8v0.8h-0.8zM118.4 438.8h0.8v0.8h-0.8zM88.3 441.2h0.8v0.8h-0.8zM105.4 431.7h0.8v0.8h-0.8zM80.2 425.6h0.8v0.8h-0.8zM108 432.4h0.8v0.8h-0.8zM91.5 475.3h0.8v0.8h-0.8zM107.4 436.7h0.8v0.8h-0.8zM107.5 447.7h0.8v0.8h-0.8zM95.7 429.8h0.8v0.8h-0.8zM123.3 469.3h0.8v0.8h-0.8zM91.1 436.5h0.8v0.8h-0.8zM89.5 487.5h0.8v0.8h-0.8zM118.9 467.2h0.8v0.8h-0.8zM112.8 521.4h0.8v0.8h-0.8zM89.2 460.8h0.8v0.8h-0.8zM114.5 444.9h0.8v0.8h-0.8zM111.8 457.3h0.8v0.8h-0.8zM123.1 457.1h0.8v0.8h-0.8zM109.1 487.1h0.8v0.8h-0.8zM61.5 448.6h0.8v0.8h-0.8zM108.2 436.6h0.8v0.8h-0.8zM52.7 479.2h0.8v0.8h-0.8zM76.5 461.7h0.8v0.8h-0.8zM92.7 436.6h0.8v0.8h-0.8zM101.3 497.8h0.8v0.8h-0.8zM144.5 470.6h0.8v0.8h-0.8zM64.8 457.5h0.8v0.8h-0.8zM101 420h0.8v0.8h-0.8zM103.6 432.2h0.8v0.8h-0.8zM72.6 447.4h0.8v0.8h-0.8zM96.2 439.3h0.8v0.8h-0.8zM81.5 454.7h0.8v0.8h-0.8zM52.9 469.3h0.8v0.8h-0.8zM141.1 519.5h0.8v0.8h-0.8zM115.9 447.1h0.8v0.8h-0.8zM78.1 506.1h0.8v0.8h-0.8zM93.6 468.3h0.8v0.8h-0.8zM59.6 446.6h0.8v0.8h-0.8zM84.1 467.9h0.8v0.8h-0.8zM67.9 460.7h0.8v0.8h-0.8zM60.4 448.9h0.8v0.8h-0.8zM82.2 443.7h0.8v0.8h-0.8zM97.5 449.2h0.8v0.8h-0.8zM103.2 441.2h0.8v0.8h-0.8zM133.9 453.1h0.8v0.8h-0.8zM101 434.8h0.8v0.8h-0.8zM132.3 421.2h0.8v0.8h-0.8zM51.8 442.3h0.8v0.8h-0.8zM111.6 485.2h0.8v0.8h-0.8zM116.7 424.3h0.8v0.8h-0.8zM113.8 462.7h0.8v0.8h-0.8zM78.4 483.5h0.8v0.8h-0.8zM89 419.2h0.8v0.8h-0.8zM85.7 432.6h0.8v0.8h-0.8zM92.2 443.7h0.8v0.8h-0.8zM102.8 509.7h0.8v0.8h-0.8zM62.7 438.8h0.8v0.8h-0.8zM76.1 447h0.8v0.8h-0.8zM64.6 480.9h0.8v0.8h-0.8zM78.9 420.6h0.8v0.8h-0.8zM108.4 438.9h0.8v0.8h-0.8zM104.3 441.1h0.8v0.8h-0.8zM110.8 471h0.8v0.8h-0.8zM125.9 480.6h0.8v0.8h-0.8zM104.7 444.1h0.8v0.8h-0.8zM58.6 465.9h0.8v0.8h-0.8zM88.5 475.2h0.8v0.8h-0.8zM61 510.9h0.8v0.8h-0.8zM101.3 427.9h0.8v0.8h-0.8zM52.3 463h0.8v0.8h-0.8zM98.9 432.8h0.8v0.8h-0.8zM101.1 433.6h0.8v0.8h-0.8zM106.6 432.8h0.8v0.8h-0.8zM99.5 449.8h0.8v0.8h-0.8zM122.7 449.9h0.8v0.8h-0.8zM94.4 431.6h0.8v0.8h-0.8zM114.6 441.3h0.8v0.8h-0.8zM55.5 445.4h0.8v0.8h-0.8zM70.5 446.1h0.8v0.8h-0.8zM94.3 419h0.8v0.8h-0.8zM58.9 459.7h0.8v0.8h-0.8zM69.4 446.5h0.8v0.8h-0.8zM50.7 458.4h0.8v0.8h-0.8zM115 483.9h0.8v0.8h-0.8zM99.1 431.1h0.8v0.8h-0.8zM110.8 455.5h0.8v0.8h-0.8zM65.8 449.9h0.8v0.8h-0.8zM97.4 452.5h0.8v0.8h-0.8zM124 458h0.8v0.8h-0.8zM118.5 455h0.8v0.8h-0.8zM98.1 464.9h0.8v0.8h-0.8zM114.2 457.5h0.8v0.8h-0.8zM92.9 478.2h0.8v0.8h-0.8zM114.5 435.1h0.8v0.8h-0.8zM79.1 437.2h0.8v0.8h-0.8zM95.4 472.7h0.8v0.8h-0.8zM127.9 477.9h0.8v0.8h-0.8zM84.5 444h0.8v0.8h-0.8zM110.4 461h0.8v0.8h-0.8zM109.3 442.5h0.8v0.8h-0.8zM98.8 514.7h0.8v0.8h-0.8zM71.8 467.2h0.8v0.8h-0.8zM106.5 488.6h0.8v0.8h-0.8zM56.3 447.2h0.8v0.8h-0.8zM59.9 446.7h0.8v0.8h-0.8zM63.9 440.9h0.8v0.8h-0.8zM94.5 491.9h0.8v0.8h-0.8zM70.8 464h0.8v0.8h-0.8z" fill="#1e32ff" opacity="0.9"/>
<g filter="url(#blur)">
<path d="M77.6 506.9 74.6 506.8 72.1 505.5 70.8 503.4 70.8 501.4 71.9 499.4 75.7 496.4 77.4 493.9 78.8 489.9 79.3 481.4 80.7 476.4 83.4 471.4 93 457.9 94 455.4 94.7 451.9 97.1 450.3 103.1 449.1 107.6 449.4 111.1 450.8 114.1 453.8 115.8 457.9 116.5 463.4 115.8 468.9 113.8 474.4 110.6 479.4 107.6 482.6 100.1 488.4 98.4 490.4 97.7 492.9 99.2 498.4 98.6 500.9 96.6 502.9 92.6 504.7 88.6 505.4 82.6 505.5 77.6 506.9Z" fill="#1030ff" fill-rule="evenodd"/>
<path d="M95.6 485.4 92.6 485.8 90.1 485.5 88.3 484.4 87.2 482.9 86.6 480.6 86.6 477.9 88.7 470.9 92.8 462.9 99.6 453.9 101.6 452.6 104.1 451.8 106.6 451.8 109.1 452.4 111.1 453.6 112.6 455.3 114.5 459.9 114.8 465.9 113.2 471.9 110.4 476.9 106.6 480.7 101.6 483.7 95.6 485.4ZM88.1 500.5 85.6 500.4 83.8 499.4 83.7 498.4 84.7 496.9 87.1 495.9 88.6 496.2 89.6 496.9 90.2 497.9 90.3 498.9 89.5 499.9 88.1 500.5ZM76.6 506 74.1 505.6 72.5 504.4 71.9 502.4 72.6 500.7 74.1 499.5 76.6 498.8 79.1 499 81.4 499.9 81.7 501.4 80.5 503.9 78.6 505.4 76.6 506Z" fill="#1060ff" fill-rule="evenodd"/>
<path d="M101.1 481.5 98.6 481.8 96.1 481.5 94.1 480.6 92.8 479.4 91.7 477.4 91.3 475.4 91.8 470.4 94.4 463.9 99.1 457.3 101.1 455.5 103.1 454.3 105.6 453.7 107.6 453.8 110.6 455.4 112.9 458.9 113.8 463.4 113.4 467.9 111.5 472.9 108.7 476.9 105.1 479.8 101.1 481.5ZM77.1 504.9 75.1 505 73.4 503.9 73 502.4 74.1 500.8 76.6 500.2 78.1 500.7 78.8 501.4 79.1 502.4 78.9 503.4 77.1 504.9Z" fill="#0090ff" fill-rule="evenodd"/>
<path d="M102.1 479.5 100.1 479.7 98.1 479.4 96.6 478.6 95.3 477.4 93.8 473.9 94.1 468.9 96.2 463.4 99.9 458.4 103.6 455.7 105.6 455.2 107.6 455.3 110.3 456.9 112.2 459.9 112.9 463.9 112.5 467.9 111 471.9 108.6 475.4 105.6 478 102.1 479.5ZM76.6 503.9 75.6 504 74.6 503.5 74.3 502.9 74.7 501.9 76.1 501.4 77.2 501.9 77.5 502.9 76.6 503.9Z" fill="#00c0ff" fill-rule="evenodd"/>
<path d="M103.1 477.9 99.6 478 97.1 476.4 95.6 473.4 95.5 468.9 97.1 463.9 100.1 459.6 103.6 457 105.6 456.4 107.1 456.5 109.6 457.7 111.2 459.9 112.1 462.9 111.9 466.9 110.9 470.4 108.8 473.9 106.1 476.5 103.1 477.9Z" fill="#00e4e8" fill-rule="evenodd"/>
<path d="M103.6 476.5 100.6 476.6 99.1 475.9 98 474.9 96.8 471.9 96.9 467.9 98.5 463.4 101.1 460 104.1 458 107.1 457.7 109.1 458.7 110.7 460.9 111.3 463.9 111.2 466.9 110.3 469.9 108.5 472.9 106.1 475.3 103.6 476.5Z" fill="#30f080" fill-rule="evenodd"/>
<path d="M103.6 475 101.1 474.8 99.2 473.4 98.2 470.9 98.3 467.4 99.6 463.9 101.6 461.2 104.1 459.4 106.6 459.1 108.4 459.9 109.6 461.4 110.3 463.9 110.2 466.9 109.2 469.9 107.6 472.4 105.6 474.1 103.6 475Z" fill="#b0ff10" fill-rule="evenodd"/>
<path d="M104.6 472.9 102.6 473.2 101.1 472.4 99.9 470.4 99.7 467.9 100.6 464.9 102.1 462.6 104.1 461.1 106.1 460.7 107.6 461.4 108.6 462.7 109.1 464.4 109.1 466.4 107.5 470.4 106.1 472 104.6 472.9Z" fill="#ffe800" fill-rule="evenodd"/>
<path d="M104.6 471.1 103.1 471.3 102.1 470.7 101.4 469.4 101.2 467.4 101.8 465.4 102.8 463.9 104.1 462.8 105.6 462.5 106.6 462.8 107.5 463.9 107.8 466.4 106.7 469.4 104.6 471.1Z" fill="#ff8000" fill-rule="evenodd"/>
<path d="M104.6 469.5 103.1 469.2 102.5 467.4 103.6 464.9 105.1 464.1 106.3 464.9 106.6 466.4 105.9 468.4 104.6 469.5Z" fill="#ff1a00" fill-rule="evenodd"/>
</g></g>
<clipPath id="c7"><rect x="37.1" y="415.9" width="111.9" height="112.8"/></clipPath>
<ellipse cx="65.4" cy="446.6" rx="27.7" ry="13.1" fill="none" stroke="#000" stroke-width="1.4" transform="rotate(3 65.4 446.6)"/>
<g clip-path="url(#c8)">
<path d="M229.6 518.9 226.6 519 223.1 518.5 215.6 515.6 205 509.4 201.9 506.9 199.8 504.4 198.9 501.9 199 499.4 203.2 490.4 205.8 473.4 207.9 467.4 211.4 460.4 211.6 458.9 210.3 457.4 206.5 455.9 188.1 452.1 178.1 449.5 177.8 443.9 178.1 438 192.6 438 217.6 440 225.1 439.9 227.4 439.4 229.5 438.4 234.6 434 238.1 431.9 242.6 430.5 247.1 430.1 252.1 430.7 257.1 432.8 261.1 435.7 264.4 439.9 269.8 451.4 270.5 453.9 270.8 456.9 270.1 466.9 268.9 472.9 267 478.4 262.6 487.4 261.7 490.4 262.1 493.1 265.1 499.4 265.2 501.4 264.9 502.9 263.6 504.9 262 506.4 256.6 509.6 237.1 517.2 229.6 518.9Z" fill="url(#p1)" fill-rule="evenodd"/>
<path d="M233.1 514.4 228.6 514.9 224.6 514.6 220.6 513.7 216.1 512.1 212.1 510.2 208.1 507.4 205.7 504.9 204.4 502.4 204.1 500.4 204.4 498.4 206.9 492.4 207.8 489.4 208.8 479.4 210 473.9 212.8 467.4 217.7 459.9 218 458.9 217.7 457.9 215.6 456.4 212.7 455.4 189.6 450.7 178.6 447.2 178.1 447 178.1 446.4 178.1 440.6 185.1 439.7 194.6 439.7 222.1 442.1 229.1 442.2 234.6 441.1 242.6 436.9 247.6 436.2 251.6 436.9 255.1 438.5 258.1 440.9 261.1 444.4 264.3 449.4 266 453.4 266.6 456.9 266.5 462.9 265.9 468.9 264.4 474.9 262 480.4 257.3 488.4 256.4 490.9 256.6 493.6 259 499.4 258.7 502.4 256.4 505.4 251.1 508.6 241.6 512.2 233.1 514.4Z" fill="url(#p2)" fill-rule="evenodd"/>
<path d="M232.6 511.4 225.1 511.5 218.1 510.2 215.1 509.2 213.1 508.1 211.1 506.4 209.7 504.4 208.9 501.9 209 498.4 211.8 490.4 212.9 479.9 214.3 474.4 215.8 470.9 218 467.4 224.5 459.9 225 458.4 224.7 457.4 222.7 455.9 219.6 454.9 198.1 450.8 188.9 448.4 183.3 445.9 182.1 444.4 182.5 443.4 184.1 442.6 186.6 442 194.1 441.5 206.1 442 231.1 444.6 236.6 444.4 245.1 442.9 248.6 442.7 251.6 443.3 254.6 444.6 257.6 446.8 260.3 449.9 262 452.9 263 456.4 263.4 462.4 263 467.9 261.8 472.9 259.8 477.9 257.5 481.9 252.5 488.9 251.5 490.9 251.4 493.9 253.2 499.9 252.7 502.4 250.1 505.2 245.6 507.7 239.1 510 232.6 511.4Z" fill="url(#p3)" fill-rule="evenodd"/>
<path d="M234.1 508.4 229.1 508.9 217.1 508.4 215.1 507.7 213.3 506.4 212.2 504.9 211.6 502.9 212 500.4 214.7 494.9 215.8 491.4 217 480.9 218.5 475.4 222 469.4 230.4 459.9 231.3 457.9 230.9 455.9 229.1 454.6 225.6 453.5 205.7 450.4 197 448.4 192.3 446.4 191.5 445.4 192.1 444.6 195.6 443.8 202.6 443.6 212.2 444.4 232.6 447.3 249.1 446.8 252.1 447.5 254.6 448.7 256.7 450.4 258.4 452.4 259.8 455.4 260.7 459.9 260.9 464.9 260.3 469.4 258.7 474.4 256.4 478.9 253.5 482.9 248 488.9 246.5 491.4 246.2 493.9 247.5 498.9 247.3 501.4 246 503.4 243.1 505.5 239.1 507.2 234.1 508.4Z" fill="url(#p4)" fill-rule="evenodd"/>
<path d="M193 476.8h0.8v0.8h-0.8zM208.7 444h0.8v0.8h-0.8zM264.5 425.6h0.8v0.8h-0.8zM205.5 457.4h0.8v0.8h-0.8zM226.3 442.1h0.8v0.8h-0.8zM220.8 451.9h0.8v0.8h-0.8zM198.9 460h0.8v0.8h-0.8zM207.9 458.3h0.8v0.8h-0.8zM245.5 431h0.8v0.8h-0.8zM214.6 444.7h0.8v0.8h-0.8zM231.8 424.4h0.8v0.8h-0.8zM227.8 441.3h0.8v0.8h-0.8zM231.4 472.8h0.8v0.8h-0.8zM232.2 444.7h0.8v0.8h-0.8zM198.7 462.7h0.8v0.8h-0.8zM222.7 467.5h0.8v0.8h-0.8zM258 438.4h0.8v0.8h-0.8zM206.2 472.6h0.8v0.8h-0.8zM212.4 466.7h0.8v0.8h-0.8zM276.8 493.8h0.8v0.8h-0.8zM231.4 453.3h0.8v0.8h-0.8zM242.1 424.9h0.8v0.8h-0.8zM225.4 457h0.8v0.8h-0.8zM250.6 450.4h0.8v0.8h-0.8zM248.2 432.5h0.8v0.8h-0.8zM264.7 454.7h0.8v0.8h-0.8zM232.1 475.4h0.8v0.8h-0.8zM253.5 473.1h0.8v0.8h-0.8zM235 482.9h0.8v0.8h-0.8zM237.8 475.6h0.8v0.8h-0.8zM197.2 430.3h0.8v0.8h-0.8zM263.4 425.3h0.8v0.8h-0.8zM248.3 443.7h0.8v0.8h-0.8zM243.1 453.2h0.8v0.8h-0.8zM254.7 444h0.8v0.8h-0.8zM228.9 435.3h0.8v0.8h-0.8zM231.8 455.5h0.8v0.8h-0.8zM206 480h0.8v0.8h-0.8zM220.6 453.4h0.8v0.8h-0.8zM244 438.1h0.8v0.8h-0.8zM233 454.9h0.8v0.8h-0.8zM187.8 449.6h0.8v0.8h-0.8zM270.8 443.5h0.8v0.8h-0.8zM233.6 456.3h0.8v0.8h-0.8zM286.1 466.7h0.8v0.8h-0.8zM232.2 479h0.8v0.8h-0.8zM202.9 464.7h0.8v0.8h-0.8zM206.8 468h0.8v0.8h-0.8zM249 450.2h0.8v0.8h-0.8zM228.2 492.3h0.8v0.8h-0.8zM228.9 430.3h0.8v0.8h-0.8zM253.1 466.7h0.8v0.8h-0.8zM245.8 443.6h0.8v0.8h-0.8zM245.3 498.2h0.8v0.8h-0.8zM239 462.7h0.8v0.8h-0.8zM257.6 486.1h0.8v0.8h-0.8zM261.5 445.3h0.8v0.8h-0.8zM254.7 437.6h0.8v0.8h-0.8zM242.2 447.4h0.8v0.8h-0.8zM220.2 506.2h0.8v0.8h-0.8zM212.4 478.8h0.8v0.8h-0.8zM233.6 482.3h0.8v0.8h-0.8zM259 430.5h0.8v0.8h-0.8zM252.1 476.9h0.8v0.8h-0.8zM262 473.4h0.8v0.8h-0.8zM238.3 446.9h0.8v0.8h-0.8zM240 456.8h0.8v0.8h-0.8zM245.1 484.8h0.8v0.8h-0.8zM202.7 460.7h0.8v0.8h-0.8zM234.9 460.8h0.8v0.8h-0.8zM235.9 441.5h0.8v0.8h-0.8zM249.1 461.4h0.8v0.8h-0.8zM235.9 432.9h0.8v0.8h-0.8zM266.2 478.1h0.8v0.8h-0.8zM233.6 457.3h0.8v0.8h-0.8zM236 466h0.8v0.8h-0.8zM198.9 442.2h0.8v0.8h-0.8zM243.6 450.1h0.8v0.8h-0.8zM234.7 454.5h0.8v0.8h-0.8zM247.1 498.5h0.8v0.8h-0.8zM217.1 443.5h0.8v0.8h-0.8zM234.6 430.7h0.8v0.8h-0.8zM261.1 448.4h0.8v0.8h-0.8zM245.4 480.5h0.8v0.8h-0.8zM237 440.1h0.8v0.8h-0.8zM264.3 472.1h0.8v0.8h-0.8zM223.5 451.3h0.8v0.8h-0.8zM246.6 444.8h0.8v0.8h-0.8zM266.3 466h0.8v0.8h-0.8zM257.3 453.6h0.8v0.8h-0.8zM198.7 443.1h0.8v0.8h-0.8zM261.7 465.9h0.8v0.8h-0.8zM271.1 448h0.8v0.8h-0.8zM250.2 444.7h0.8v0.8h-0.8zM257.4 434.8h0.8v0.8h-0.8zM249.5 434.9h0.8v0.8h-0.8zM194.3 447.3h0.8v0.8h-0.8zM197.7 443.8h0.8v0.8h-0.8zM244.6 449h0.8v0.8h-0.8zM253.8 433.1h0.8v0.8h-0.8zM224.3 437.6h0.8v0.8h-0.8zM262.2 472.9h0.8v0.8h-0.8zM233.1 494.9h0.8v0.8h-0.8zM194 449.7h0.8v0.8h-0.8zM248.2 447.7h0.8v0.8h-0.8zM255 452.9h0.8v0.8h-0.8zM234.2 476.2h0.8v0.8h-0.8zM233.2 445.1h0.8v0.8h-0.8zM253.3 431.5h0.8v0.8h-0.8zM222.5 447.3h0.8v0.8h-0.8zM214.3 488.3h0.8v0.8h-0.8zM245.8 519h0.8v0.8h-0.8zM238.1 476.6h0.8v0.8h-0.8zM242.8 466.7h0.8v0.8h-0.8zM272.8 510.5h0.8v0.8h-0.8zM251.8 431.4h0.8v0.8h-0.8zM251.3 474.5h0.8v0.8h-0.8zM202 439.3h0.8v0.8h-0.8zM262.2 503.1h0.8v0.8h-0.8zM247.5 446.1h0.8v0.8h-0.8zM264.9 460.9h0.8v0.8h-0.8zM257.9 476.9h0.8v0.8h-0.8zM252 436.4h0.8v0.8h-0.8zM215.1 485.8h0.8v0.8h-0.8zM232.6 475.6h0.8v0.8h-0.8zM219.6 450.1h0.8v0.8h-0.8zM204 487.2h0.8v0.8h-0.8zM227.6 467.5h0.8v0.8h-0.8zM250.3 436.3h0.8v0.8h-0.8zM232.9 426.8h0.8v0.8h-0.8zM236.7 444.6h0.8v0.8h-0.8zM241.6 438.3h0.8v0.8h-0.8zM250 436.9h0.8v0.8h-0.8zM243.3 490.6h0.8v0.8h-0.8zM200.2 444.2h0.8v0.8h-0.8zM219.1 422.4h0.8v0.8h-0.8zM225.6 455.2h0.8v0.8h-0.8zM276.5 422.4h0.8v0.8h-0.8zM208.7 446.5h0.8v0.8h-0.8zM234.5 465.6h0.8v0.8h-0.8zM211.6 452h0.8v0.8h-0.8zM194.8 489.7h0.8v0.8h-0.8zM201.6 441.2h0.8v0.8h-0.8zM189.2 422.9h0.8v0.8h-0.8zM240.5 428.4h0.8v0.8h-0.8zM207 455.8h0.8v0.8h-0.8zM235.6 456.3h0.8v0.8h-0.8zM206.8 452.5h0.8v0.8h-0.8zM239.3 429.1h0.8v0.8h-0.8zM252.3 452.3h0.8v0.8h-0.8zM235.1 449.2h0.8v0.8h-0.8zM227.1 445.8h0.8v0.8h-0.8zM270.1 456.9h0.8v0.8h-0.8zM290.1 418h0.8v0.8h-0.8zM244.4 444.9h0.8v0.8h-0.8zM241.9 445.8h0.8v0.8h-0.8zM285.9 468.2h0.8v0.8h-0.8zM256.8 458.2h0.8v0.8h-0.8zM227 429.5h0.8v0.8h-0.8zM225.6 451.3h0.8v0.8h-0.8zM224.9 443.3h0.8v0.8h-0.8zM251.7 481.9h0.8v0.8h-0.8zM264.9 433.6h0.8v0.8h-0.8zM230.9 429.6h0.8v0.8h-0.8zM244 453.4h0.8v0.8h-0.8zM226.2 478.8h0.8v0.8h-0.8zM252.8 435.9h0.8v0.8h-0.8zM252.1 439.3h0.8v0.8h-0.8zM245.9 459.8h0.8v0.8h-0.8zM226.5 457.4h0.8v0.8h-0.8zM249.4 449h0.8v0.8h-0.8zM234.3 449.2h0.8v0.8h-0.8zM209.2 514.2h0.8v0.8h-0.8zM248 430.5h0.8v0.8h-0.8zM232.3 452.9h0.8v0.8h-0.8zM231.3 439.7h0.8v0.8h-0.8zM255.9 426.7h0.8v0.8h-0.8zM250.6 434.9h0.8v0.8h-0.8zM236.3 435h0.8v0.8h-0.8zM180.3 440.1h0.8v0.8h-0.8zM262.4 491.3h0.8v0.8h-0.8zM234 462.4h0.8v0.8h-0.8zM208.9 461.7h0.8v0.8h-0.8zM246 467.1h0.8v0.8h-0.8zM198 444.4h0.8v0.8h-0.8zM252.8 484.7h0.8v0.8h-0.8zM248.3 467.9h0.8v0.8h-0.8zM227.4 451.6h0.8v0.8h-0.8zM207.7 451.8h0.8v0.8h-0.8zM257.1 458.7h0.8v0.8h-0.8zM250.4 434.1h0.8v0.8h-0.8zM222.3 441.8h0.8v0.8h-0.8zM217.4 479.9h0.8v0.8h-0.8zM250.8 440h0.8v0.8h-0.8zM225.9 441.9h0.8v0.8h-0.8zM233.7 443.5h0.8v0.8h-0.8zM223.5 422h0.8v0.8h-0.8zM214.4 472.3h0.8v0.8h-0.8zM268 462.9h0.8v0.8h-0.8zM222.4 470.4h0.8v0.8h-0.8zM207.1 433.6h0.8v0.8h-0.8zM228.5 452.4h0.8v0.8h-0.8zM233.3 433.2h0.8v0.8h-0.8zM247.9 487.2h0.8v0.8h-0.8zM232.7 423.2h0.8v0.8h-0.8zM253.2 433h0.8v0.8h-0.8zM191.2 465.4h0.8v0.8h-0.8zM242.5 494.4h0.8v0.8h-0.8zM226.3 477.2h0.8v0.8h-0.8zM205.3 481.9h0.8v0.8h-0.8zM198.4 485.5h0.8v0.8h-0.8zM241.5 431.9h0.8v0.8h-0.8zM221.4 511.9h0.8v0.8h-0.8zM186.2 435.9h0.8v0.8h-0.8zM238.9 442h0.8v0.8h-0.8zM252.2 438.9h0.8v0.8h-0.8zM225.5 464.3h0.8v0.8h-0.8zM225.3 448.9h0.8v0.8h-0.8zM221.7 440.2h0.8v0.8h-0.8zM228.2 468h0.8v0.8h-0.8zM263.2 481.8h0.8v0.8h-0.8zM242.6 497.5h0.8v0.8h-0.8zM244.5 472.1h0.8v0.8h-0.8zM188.3 445.3h0.8v0.8h-0.8zM283.7 490.1h0.8v0.8h-0.8zM246.3 450.7h0.8v0.8h-0.8zM236.9 441.7h0.8v0.8h-0.8zM244.7 460.1h0.8v0.8h-0.8zM246.5 461.5h0.8v0.8h-0.8zM207.9 448.8h0.8v0.8h-0.8zM194.9 486.5h0.8v0.8h-0.8zM187.9 487.7h0.8v0.8h-0.8zM262.4 480.9h0.8v0.8h-0.8zM185.8 442.9h0.8v0.8h-0.8zM243.4 470.6h0.8v0.8h-0.8zM228.1 503.3h0.8v0.8h-0.8zM246.2 470.3h0.8v0.8h-0.8zM242 443.4h0.8v0.8h-0.8zM205.7 437.1h0.8v0.8h-0.8zM208.9 436.7h0.8v0.8h-0.8zM253.4 429.1h0.8v0.8h-0.8zM217.7 439.7h0.8v0.8h-0.8zM236.1 470.2h0.8v0.8h-0.8zM208.7 440.1h0.8v0.8h-0.8zM250.7 487.3h0.8v0.8h-0.8zM248.7 463.2h0.8v0.8h-0.8zM200.2 447.2h0.8v0.8h-0.8zM257 426.8h0.8v0.8h-0.8zM214.2 497.8h0.8v0.8h-0.8zM228.5 450.1h0.8v0.8h-0.8zM220 442.2h0.8v0.8h-0.8zM241 444.2h0.8v0.8h-0.8zM245 442.9h0.8v0.8h-0.8zM232.9 453.6h0.8v0.8h-0.8zM212.4 455.5h0.8v0.8h-0.8zM259.5 452.6h0.8v0.8h-0.8zM243.6 464.2h0.8v0.8h-0.8zM249 432.5h0.8v0.8h-0.8zM275.1 451h0.8v0.8h-0.8zM186.5 446.2h0.8v0.8h-0.8zM279 428.5h0.8v0.8h-0.8zM239.3 486.7h0.8v0.8h-0.8zM275.2 425.6h0.8v0.8h-0.8zM256.3 433.3h0.8v0.8h-0.8zM238.7 450.3h0.8v0.8h-0.8zM239.3 436.7h0.8v0.8h-0.8zM204.3 445h0.8v0.8h-0.8zM242.4 447.2h0.8v0.8h-0.8zM220.3 462.2h0.8v0.8h-0.8zM238.2 466.3h0.8v0.8h-0.8zM248.3 486.6h0.8v0.8h-0.8zM245.7 453.9h0.8v0.8h-0.8zM223.7 431.5h0.8v0.8h-0.8zM193.5 444h0.8v0.8h-0.8zM253.2 439.4h0.8v0.8h-0.8zM212.6 436.3h0.8v0.8h-0.8zM240.4 437.4h0.8v0.8h-0.8zM209.3 427.7h0.8v0.8h-0.8zM227.2 478.5h0.8v0.8h-0.8zM241 432.3h0.8v0.8h-0.8zM224.7 463.8h0.8v0.8h-0.8zM211.4 466.4h0.8v0.8h-0.8zM192.2 449.5h0.8v0.8h-0.8zM191.5 452.9h0.8v0.8h-0.8zM261.1 478.7h0.8v0.8h-0.8zM242.8 504.8h0.8v0.8h-0.8zM199.7 448.3h0.8v0.8h-0.8zM230.8 508.5h0.8v0.8h-0.8z" fill="#1e32ff" opacity="0.9"/>
<g filter="url(#blur)">
<path d="M220.1 507.4 217.1 507.3 214.6 506 213.3 503.9 213.3 501.9 214.4 499.9 218.2 496.9 219.9 494.4 221.3 490.4 221.8 481.9 223.2 476.9 225.9 471.9 235.5 458.4 236.5 455.9 237.2 452.4 239.6 450.8 245.6 449.6 250.1 449.9 253.6 451.3 256.6 454.3 258.3 458.4 259 463.9 258.3 469.4 256.3 474.9 253.1 479.9 250.1 483.1 242.6 488.9 240.9 490.9 240.2 493.4 241.7 498.9 241.1 501.4 239.1 503.4 235.1 505.2 231.1 505.9 225.1 506 220.1 507.4Z" fill="#1030ff" fill-rule="evenodd"/>
<path d="M238.1 485.9 235.1 486.3 232.6 486 230.8 484.9 229.7 483.4 229.1 481.1 229.1 478.4 231.2 471.4 235.3 463.4 242.1 454.4 244.1 453.1 246.6 452.3 249.1 452.3 251.6 452.9 253.6 454.1 255.1 455.8 257 460.4 257.3 466.4 255.7 472.4 252.9 477.4 249.1 481.2 244.1 484.2 238.1 485.9ZM230.6 501 228.1 500.9 226.3 499.9 226.2 498.9 227.2 497.4 229.6 496.4 231.1 496.7 232.1 497.4 232.7 498.4 232.8 499.4 232 500.4 230.6 501ZM219.1 506.5 216.6 506.1 215 504.9 214.4 502.9 215.1 501.2 216.6 500 219.1 499.3 221.6 499.5 223.9 500.4 224.2 501.9 223 504.4 221.1 505.9 219.1 506.5Z" fill="#1060ff" fill-rule="evenodd"/>
<path d="M243.6 482 241.1 482.3 238.6 482 236.6 481.1 235.3 479.9 234.2 477.9 233.8 475.9 234.3 470.9 236.9 464.4 241.6 457.8 243.6 456 245.6 454.8 248.1 454.2 250.1 454.3 253.1 455.9 255.4 459.4 256.3 463.9 255.9 468.4 254 473.4 251.2 477.4 247.6 480.3 243.6 482ZM219.6 505.4 217.6 505.5 215.9 504.4 215.5 502.9 216.6 501.3 219.1 500.7 220.6 501.2 221.3 501.9 221.6 502.9 221.4 503.9 219.6 505.4Z" fill="#0090ff" fill-rule="evenodd"/>
<path d="M244.6 480 242.6 480.2 240.6 479.9 239.1 479.1 237.8 477.9 236.3 474.4 236.6 469.4 238.7 463.9 242.4 458.9 246.1 456.2 248.1 455.7 250.1 455.8 252.8 457.4 254.7 460.4 255.4 464.4 255 468.4 253.5 472.4 251.1 475.9 248.1 478.5 244.6 480ZM219.1 504.4 218.1 504.5 217.1 504 216.8 503.4 217.2 502.4 218.6 501.9 219.7 502.4 220 503.4 219.1 504.4Z" fill="#00c0ff" fill-rule="evenodd"/>
<path d="M245.6 478.4 242.1 478.5 239.6 476.9 238.1 473.9 238 469.4 239.6 464.4 242.6 460.1 246.1 457.5 248.1 456.9 249.6 457 252.1 458.2 253.7 460.4 254.6 463.4 254.4 467.4 253.4 470.9 251.3 474.4 248.6 477 245.6 478.4Z" fill="#00e4e8" fill-rule="evenodd"/>
<path d="M246.1 477 243.1 477.1 241.6 476.4 240.5 475.4 239.3 472.4 239.4 468.4 241 463.9 243.6 460.5 246.6 458.5 249.6 458.2 251.6 459.2 253.2 461.4 253.8 464.4 253.7 467.4 252.8 470.4 251 473.4 248.6 475.8 246.1 477Z" fill="#30f080" fill-rule="evenodd"/>
<path d="M246.1 475.5 243.6 475.3 241.7 473.9 240.7 471.4 240.8 467.9 242.1 464.4 244.1 461.7 246.6 459.9 249.1 459.6 250.9 460.4 252.1 461.9 252.8 464.4 252.7 467.4 251.7 470.4 250.1 472.9 248.1 474.6 246.1 475.5Z" fill="#b0ff10" fill-rule="evenodd"/>
<path d="M247.1 473.4 245.1 473.7 243.6 472.9 242.4 470.9 242.2 468.4 243.1 465.4 244.6 463.1 246.6 461.6 248.6 461.2 250.1 461.9 251.1 463.2 251.6 464.9 251.6 466.9 250 470.9 248.6 472.5 247.1 473.4Z" fill="#ffe800" fill-rule="evenodd"/>
<path d="M247.1 471.6 245.6 471.8 244.6 471.2 243.9 469.9 243.7 467.9 244.3 465.9 245.3 464.4 246.6 463.3 248.1 463 249.1 463.3 250 464.4 250.3 466.9 249.2 469.9 247.1 471.6Z" fill="#ff8000" fill-rule="evenodd"/>
<path d="M247.1 470 245.6 469.7 245 467.9 246.1 465.4 247.6 464.6 248.8 465.4 249.1 466.9 248.4 468.9 247.1 470Z" fill="#ff1a00" fill-rule="evenodd"/>
</g></g>
<clipPath id="c8"><rect x="178.6" y="415.9" width="112.7" height="111.7"/></clipPath>
<ellipse cx="207.9" cy="447.1" rx="27.7" ry="13.1" fill="none" stroke="#000" stroke-width="1.4" transform="rotate(3 207.9 447.1)"/>
<g clip-path="url(#c9)">
<path d="M78.1 668.6 57.1 668.7 52.3 668.6 51.6 668.2 47 664.1 44.7 661.1 43.1 658.1 40.8 651.1 40.2 643.6 41.3 632.1 44.5 616.6 48.3 605.1 53.4 594.1 59.3 584.6 65.4 578.1 68.6 575.8 72.1 574 75.6 573 78.6 572.7 82.1 573.2 85.6 574.5 88.8 576.6 91.9 579.6 97.7 587.6 104 600.1 110.3 606.6 112.2 609.1 113.4 612.1 113.5 615.6 112.6 618.6 109.1 624.6 108.8 626.6 109.1 628.1 111.6 631.6 118.6 637.1 121.2 639.6 123.3 643.1 123.8 646.1 123.2 649.1 121.2 652.1 118.4 654.6 114.6 656.9 108.1 659.5 90.7 664.1 78.1 668.6Z" fill="url(#p1)" fill-rule="evenodd"/>
<path d="M66.1 666.6 60.6 666.8 56.1 665.9 52.6 663.9 49.4 660.6 46.7 656.1 45 650.6 44.4 644.6 44.9 638.1 47.4 626.6 51.9 610.6 55.9 599.6 59.7 591.6 64.1 585.3 69.1 580.7 74.1 578.4 76.6 577.9 79.1 578 83.6 579.6 87.3 582.6 91.2 588.1 96.2 598.6 97.7 601.1 100 603.1 106.6 607.3 109.6 610.6 110.5 613.6 110.1 616.6 108.7 619.1 104.2 624.6 103.7 626.1 103.7 628.1 104.6 630.4 106.2 632.6 113.1 638.6 115.5 641.1 116.9 643.6 117.2 646.6 116.4 649.1 114.4 651.6 111.1 654 107.1 655.9 76.1 664.9 66.1 666.6Z" fill="url(#p2)" fill-rule="evenodd"/>
<path d="M63.1 663.1 59.1 663 56.1 662.1 53.1 660 50.8 657.1 48.9 653.1 47.9 648.6 47.7 644.1 48.2 639.1 49.8 633.1 54.7 618.6 59.3 602.6 62.8 594.1 66.1 589 70.1 585.2 74.1 583.3 78.1 583 80.1 583.6 82.1 584.7 85.4 588.1 87.8 592.6 91.1 601.3 92.6 603.6 95.1 605.3 103.1 608.4 105.1 609.8 106.6 611.6 107.3 614.1 106.7 616.6 105.1 618.7 99.5 623.6 98.7 625.6 98.7 627.6 99.5 630.6 101.3 633.6 109.3 642.1 110.4 644.6 110.4 646.6 109.6 648.6 107.6 650.8 104.7 652.6 100.6 654.3 75.6 661.5 70.6 662.4 63.1 663.1Z" fill="url(#p3)" fill-rule="evenodd"/>
<path d="M67.6 659.6 59.6 659.9 57.1 659.2 54.6 657.6 52.3 654.6 50.9 651.1 50.2 647.1 50.3 642.6 51 639.1 52.3 635.1 57.7 624.1 59.7 619.1 63.4 603.1 65.8 596.6 68.1 592.9 70.6 590.3 73.6 588.6 76.6 588.2 79.9 589.6 82.5 592.6 84.3 596.6 86.6 605.1 88.6 608.1 91.1 609.3 99.6 610.3 102 611.6 103.2 613.1 103.2 615.1 102.3 616.6 100.6 618 94.8 621.1 93.8 622.6 93.5 624.6 94 628.1 95.4 632.1 97.4 635.6 102.3 642.1 103.2 644.1 103.3 645.6 102.5 647.6 101.2 649.1 98.9 650.6 95.7 652.1 76.6 658.2 67.6 659.6Z" fill="url(#p4)" fill-rule="evenodd"/>
<path d="M57.2 641.4h0.8v0.8h-0.8zM57.2 619.1h0.8v0.8h-0.8zM72.4 627h0.8v0.8h-0.8zM70.7 625.1h0.8v0.8h-0.8zM67.5 591h0.8v0.8h-0.8zM109.6 616h0.8v0.8h-0.8zM89.3 638.9h0.8v0.8h-0.8zM90.5 618.4h0.8v0.8h-0.8zM54.8 624.5h0.8v0.8h-0.8zM74.1 621.8h0.8v0.8h-0.8zM93.3 615.5h0.8v0.8h-0.8zM57.7 638.2h0.8v0.8h-0.8zM103.9 632.1h0.8v0.8h-0.8zM100.8 570.9h0.8v0.8h-0.8zM100.6 611.2h0.8v0.8h-0.8zM78.1 577.3h0.8v0.8h-0.8zM59.5 617.1h0.8v0.8h-0.8zM91.2 632.7h0.8v0.8h-0.8zM53.7 588.1h0.8v0.8h-0.8zM66.9 613.8h0.8v0.8h-0.8zM65.3 610.2h0.8v0.8h-0.8zM106.4 616.8h0.8v0.8h-0.8zM101.2 604h0.8v0.8h-0.8zM67.2 629.1h0.8v0.8h-0.8zM107.8 619.4h0.8v0.8h-0.8zM54.7 603.4h0.8v0.8h-0.8zM90.2 599.6h0.8v0.8h-0.8zM108.7 626.9h0.8v0.8h-0.8zM63.9 616.7h0.8v0.8h-0.8zM87.1 658.8h0.8v0.8h-0.8zM95.1 653.2h0.8v0.8h-0.8zM88.7 647.7h0.8v0.8h-0.8zM109.9 638.4h0.8v0.8h-0.8zM78.8 642.5h0.8v0.8h-0.8zM69.5 650.9h0.8v0.8h-0.8zM97.6 607.3h0.8v0.8h-0.8zM119.6 604.9h0.8v0.8h-0.8zM81.7 588.6h0.8v0.8h-0.8zM62.8 606.7h0.8v0.8h-0.8zM56.4 645.7h0.8v0.8h-0.8zM62.2 583.8h0.8v0.8h-0.8zM102.7 632.9h0.8v0.8h-0.8zM79.1 608.1h0.8v0.8h-0.8zM100.1 596h0.8v0.8h-0.8zM72.1 609.2h0.8v0.8h-0.8zM95.1 651.5h0.8v0.8h-0.8zM76.6 612.7h0.8v0.8h-0.8zM90.5 619.6h0.8v0.8h-0.8zM89.6 593.6h0.8v0.8h-0.8zM78.9 628.1h0.8v0.8h-0.8zM91.6 576.6h0.8v0.8h-0.8zM96.5 618.4h0.8v0.8h-0.8zM81.9 571.3h0.8v0.8h-0.8zM79.3 576h0.8v0.8h-0.8zM78.4 617h0.8v0.8h-0.8zM82.4 615.6h0.8v0.8h-0.8zM102.8 636h0.8v0.8h-0.8zM95.8 636h0.8v0.8h-0.8zM120.7 594.2h0.8v0.8h-0.8zM71.8 622.5h0.8v0.8h-0.8zM44.7 640.3h0.8v0.8h-0.8zM113.7 584.6h0.8v0.8h-0.8zM61.1 638.6h0.8v0.8h-0.8zM108.6 574.5h0.8v0.8h-0.8zM90.7 610.6h0.8v0.8h-0.8zM37.9 604.9h0.8v0.8h-0.8zM95 612.8h0.8v0.8h-0.8zM79.1 608.4h0.8v0.8h-0.8zM75.2 611.3h0.8v0.8h-0.8zM89.4 639.3h0.8v0.8h-0.8zM99.2 592.8h0.8v0.8h-0.8zM60.6 598.3h0.8v0.8h-0.8zM109.3 627h0.8v0.8h-0.8zM61.1 586.1h0.8v0.8h-0.8zM55.8 615.7h0.8v0.8h-0.8zM53.7 614.8h0.8v0.8h-0.8zM107.6 608.6h0.8v0.8h-0.8zM96.8 577h0.8v0.8h-0.8zM85.8 622.3h0.8v0.8h-0.8zM57.7 649.5h0.8v0.8h-0.8zM77.8 597.8h0.8v0.8h-0.8zM71.5 638.8h0.8v0.8h-0.8zM47.8 618.7h0.8v0.8h-0.8zM56.8 620.7h0.8v0.8h-0.8zM66.4 613.2h0.8v0.8h-0.8zM94.7 616.1h0.8v0.8h-0.8zM90.1 632.5h0.8v0.8h-0.8zM87 620.7h0.8v0.8h-0.8zM78.9 630.9h0.8v0.8h-0.8zM104.5 661h0.8v0.8h-0.8zM116.7 590.2h0.8v0.8h-0.8zM84.5 627.2h0.8v0.8h-0.8zM104.7 641.6h0.8v0.8h-0.8zM46.5 621.9h0.8v0.8h-0.8zM40.4 603.1h0.8v0.8h-0.8zM57.6 599.7h0.8v0.8h-0.8zM112.8 601.4h0.8v0.8h-0.8zM67 618.1h0.8v0.8h-0.8zM101.6 572.4h0.8v0.8h-0.8zM113.7 595.9h0.8v0.8h-0.8zM56.1 618.2h0.8v0.8h-0.8zM97.7 600.1h0.8v0.8h-0.8zM73.4 590.9h0.8v0.8h-0.8zM92.3 635.6h0.8v0.8h-0.8zM70.5 643.2h0.8v0.8h-0.8zM40.7 602.8h0.8v0.8h-0.8zM57.5 600h0.8v0.8h-0.8zM41.8 638.6h0.8v0.8h-0.8zM91.3 611h0.8v0.8h-0.8zM103.8 654.9h0.8v0.8h-0.8zM103.7 558.9h0.8v0.8h-0.8zM97.2 609.5h0.8v0.8h-0.8zM62.6 595h0.8v0.8h-0.8zM94.9 616h0.8v0.8h-0.8zM67.5 581h0.8v0.8h-0.8zM42.9 618.3h0.8v0.8h-0.8zM39.8 632.2h0.8v0.8h-0.8zM66.8 602.1h0.8v0.8h-0.8zM82.8 605.7h0.8v0.8h-0.8zM93.4 582.6h0.8v0.8h-0.8zM37.8 664h0.8v0.8h-0.8zM115.4 579.4h0.8v0.8h-0.8zM123.2 660.5h0.8v0.8h-0.8zM97.4 615h0.8v0.8h-0.8zM58.7 638.9h0.8v0.8h-0.8zM69.2 642.3h0.8v0.8h-0.8zM71.8 575.5h0.8v0.8h-0.8zM62.5 616.6h0.8v0.8h-0.8zM67.2 618.6h0.8v0.8h-0.8zM57.7 655.7h0.8v0.8h-0.8zM66.5 628.2h0.8v0.8h-0.8zM41.2 636h0.8v0.8h-0.8zM112.4 630.4h0.8v0.8h-0.8zM72.8 592h0.8v0.8h-0.8zM91.7 629.9h0.8v0.8h-0.8zM49.5 615.8h0.8v0.8h-0.8zM90.3 595.8h0.8v0.8h-0.8zM91.8 608.6h0.8v0.8h-0.8zM113.3 603.2h0.8v0.8h-0.8zM89.9 618.4h0.8v0.8h-0.8zM59.4 638.8h0.8v0.8h-0.8zM70.4 615.2h0.8v0.8h-0.8zM73 663.9h0.8v0.8h-0.8zM74.2 575.7h0.8v0.8h-0.8zM60.2 584.1h0.8v0.8h-0.8zM70 578.5h0.8v0.8h-0.8zM91.8 625.5h0.8v0.8h-0.8zM83.5 623.6h0.8v0.8h-0.8zM118.3 573.8h0.8v0.8h-0.8zM90.7 603.4h0.8v0.8h-0.8zM77.5 598.1h0.8v0.8h-0.8zM80.8 646.2h0.8v0.8h-0.8zM104.7 621.4h0.8v0.8h-0.8zM107.5 603.7h0.8v0.8h-0.8zM123 626.9h0.8v0.8h-0.8zM64.6 616.4h0.8v0.8h-0.8zM105.1 585.9h0.8v0.8h-0.8zM79.8 630.6h0.8v0.8h-0.8zM107.4 623.7h0.8v0.8h-0.8zM54.4 620.6h0.8v0.8h-0.8zM112 626.5h0.8v0.8h-0.8zM106 568.8h0.8v0.8h-0.8zM76.2 565.1h0.8v0.8h-0.8zM67.1 622.4h0.8v0.8h-0.8zM75.6 583.5h0.8v0.8h-0.8zM84.7 631.5h0.8v0.8h-0.8zM99.2 617.7h0.8v0.8h-0.8zM103.3 646.2h0.8v0.8h-0.8zM70.6 628h0.8v0.8h-0.8zM64 612.9h0.8v0.8h-0.8zM109.7 611.3h0.8v0.8h-0.8zM68.1 600.1h0.8v0.8h-0.8zM89.4 655.4h0.8v0.8h-0.8zM108.3 610.4h0.8v0.8h-0.8zM95.7 638.8h0.8v0.8h-0.8zM110.3 598.1h0.8v0.8h-0.8zM92 605h0.8v0.8h-0.8zM66.1 646.4h0.8v0.8h-0.8zM90 616.9h0.8v0.8h-0.8zM107.9 619.2h0.8v0.8h-0.8zM92.1 618.4h0.8v0.8h-0.8zM91.7 605.9h0.8v0.8h-0.8zM68.8 611.1h0.8v0.8h-0.8zM97.8 606.1h0.8v0.8h-0.8zM38 600.8h0.8v0.8h-0.8zM84.9 612h0.8v0.8h-0.8zM75.3 584.5h0.8v0.8h-0.8zM69.4 629.5h0.8v0.8h-0.8zM91.1 594.2h0.8v0.8h-0.8z" fill="#1e32ff" opacity="0.9"/>
<g filter="url(#blur)">
<path d="M65.6 657.1 59.1 656.9 57.1 656.1 55.3 654.6 53.9 652.6 52.8 649.6 52.3 646.1 52.6 642.6 53.4 639.1 55.1 635.4 62.9 624.1 65.8 618.6 67.2 613.6 68.3 604.1 69.8 599.6 71.1 597.5 72.6 596.1 74.1 595.4 75.6 595.4 77.6 596.5 78.9 598.6 79.7 601.6 80.7 609.1 81.5 612.1 86.3 621.1 91.1 633.1 95.3 641.6 95.7 644.6 94.9 646.6 92.7 648.6 84.4 652.6 74.6 656.1 65.6 657.1Z" fill="#1030ff" fill-rule="evenodd"/>
<path d="M70.1 654.6 66.6 654.9 62.6 654.7 59.6 654.1 57.6 653 55.9 651.1 54.9 648.6 54.5 645.6 54.8 642.6 55.7 639.6 57.3 636.6 59.6 633.6 63.1 630 67.6 626.1 71.1 623.7 73.6 622.8 76.1 622.8 78.1 623.4 80.1 624.7 82.1 626.7 84.1 629.4 88.1 638.1 88.9 641.1 88.9 643.1 88.2 645.1 87 646.6 82.6 649.9 76.6 652.9 70.1 654.6Z" fill="#1060ff" fill-rule="evenodd"/>
<path d="M69.6 653.1 66.6 653.5 64.1 653.2 61.1 652.3 59.1 651.1 57.8 649.6 56.9 647.6 56.5 645.1 56.8 642.6 57.9 639.6 59.5 637.1 61.6 634.7 64.6 632.2 67.6 630.4 70.6 629.2 73.1 628.8 75.6 629.1 79.1 630.9 82.1 634.5 84 639.1 84 643.1 82.4 646.1 79.1 649.1 75.1 651.3 69.6 653.1Z" fill="#0090ff" fill-rule="evenodd"/>
<path d="M68.6 652.2 66.1 652.4 64.1 652 62.1 651.1 60.2 649.6 59.2 648.1 58.5 646.1 58.4 644.1 58.9 641.6 61.1 637.6 65.1 634.3 70.1 632.5 72.6 632.4 74.6 632.8 77.6 634.6 79.6 637.1 80.6 640.1 80.4 643.1 79.2 645.6 76.7 648.1 72.1 650.9 68.6 652.2Z" fill="#00c0ff" fill-rule="evenodd"/>
<path d="M69.1 651.1 65.6 651.4 62.5 650.1 61.1 648.6 60.2 647.1 59.8 643.6 60.9 640.1 63.6 636.9 67.1 635.2 71.1 634.9 73.7 635.6 75.8 637.1 77.3 639.6 77.6 642.1 76.8 644.6 75.4 646.6 71.9 649.6 69.1 651.1Z" fill="#00e4e8" fill-rule="evenodd"/>
<path d="M67.6 650.6 65.1 650.5 62.6 648.9 61.2 646.6 60.9 643.6 61.8 640.6 63.6 638.3 66.1 636.9 68.6 636.6 71.1 637.2 73.1 638.6 74.4 640.6 74.6 642.6 73.9 645.1 72.3 647.6 70.1 649.6 67.6 650.6Z" fill="#30f080" fill-rule="evenodd"/>
<path d="M67.1 649.6 65.1 649.4 63.3 648.1 62.2 646.1 62 644.1 62.3 642.1 63.6 639.9 65.6 638.5 67.6 638.2 69.6 638.7 71.1 640 72 641.6 72.2 643.6 71.8 645.6 70.6 647.6 69.1 649 67.1 649.6Z" fill="#b0ff10" fill-rule="evenodd"/>
<path d="M68.1 648.1 66.6 648.5 65.1 648 64 647.1 63.3 645.6 63.1 643.6 63.6 642.1 64.6 640.7 66.1 639.8 68.6 640.1 69.7 641.1 70.4 642.6 70.3 645.6 69.4 647.1 68.1 648.1Z" fill="#ffe800" fill-rule="evenodd"/>
<path d="M67.1 647.2 66.1 647.2 65.1 646.6 64.2 644.6 64.9 642.1 66.6 641.1 68.2 641.6 69.3 643.6 68.7 646.1 67.1 647.2Z" fill="#ff8000" fill-rule="evenodd"/>
<path d="M66.6 646.1 65.6 645.6 65.1 644.1 65.6 642.9 66.6 642.3 67.6 642.6 68.3 644.1 67.7 645.6 66.6 646.1Z" fill="#ff1a00" fill-rule="evenodd"/>
</g></g>
<clipPath id="c9"><rect x="37.1" y="555.1" width="111.9" height="112.8"/></clipPath>
<rect x="88.7" y="598.6" width="43.2" height="24" fill="none" stroke="#000" stroke-width="1.4"/>
<g clip-path="url(#c10)">
<path d="M206.3 667.4 199.2 667.4 194.3 666.2 189.3 663.3 185 658.9 181.9 653.4 180 646.9 179.5 639.9 180.2 631.4 182.6 617.9 185.6 606.9 189.9 595.9 195.5 585.4 201.1 577.9 204.3 574.7 207.3 572.4 210.3 570.7 213.3 569.6 216.8 569 219.8 569.1 222.8 569.9 225.8 571.3 228.8 573.5 231.7 576.4 237 583.9 243.3 596.4 249.6 602.9 251.5 605.4 252.7 608.4 252.8 611.9 251.9 614.9 248.4 620.9 248.1 622.4 248.3 624.1 249.2 625.9 250.8 627.8 257.9 633.4 260.9 636.4 262.8 639.9 263 643.4 262 646.4 259.5 649.4 256.2 651.9 251.8 654.2 245.8 656.2 230 660.4 214.8 665.8 206.3 667.4Z" fill="url(#p1)" fill-rule="evenodd"/>
<path d="M205.3 662.9 199.8 663.1 195.8 662.3 191.8 660.1 188.6 656.9 186 652.4 184.3 646.9 183.7 640.9 184.2 634.4 186.6 623.4 191 607.4 194.9 596.4 199 587.9 203.6 581.4 208.3 577.1 213.3 574.7 215.8 574.2 218.3 574.3 222.8 575.8 226.6 578.9 230.5 584.4 235.5 594.9 237.1 597.4 239.3 599.4 245.8 603.5 248.9 606.9 249.8 609.9 249.4 612.9 248 615.4 243.5 620.9 243 622.4 243 624.4 243.8 626.5 245.5 628.9 252.4 634.9 254.8 637.4 256.2 639.9 256.5 642.9 255.7 645.4 253.7 647.9 250.8 650.1 246.3 652.3 215.3 661.3 205.3 662.9Z" fill="url(#p2)" fill-rule="evenodd"/>
<path d="M202.3 659.4 198.3 659.3 195.3 658.4 192.3 656.2 190 653.4 188.2 649.4 187.2 644.9 187 639.9 187.6 634.9 189.1 629.4 194 614.9 198.6 598.9 202.3 589.9 205.8 584.8 209.8 581.2 213.8 579.4 217.8 579.4 219.8 580.1 221.8 581.3 224.8 584.5 227.2 588.9 230.3 597.4 231.9 599.9 234.3 601.6 242.8 604.9 244.8 606.4 246.2 608.4 246.6 610.4 246 612.9 244.3 615.1 238.8 619.9 238.1 621.4 237.9 623.4 238.7 626.4 240.3 629.5 247.5 636.9 248.9 638.9 249.7 640.9 249.7 642.9 248.9 644.9 246.8 647.1 243.8 649 239.8 650.7 214.8 657.8 202.3 659.4Z" fill="url(#p3)" fill-rule="evenodd"/>
<path d="M206.8 655.9 198.8 656.2 196.3 655.5 193.8 653.8 191.6 650.9 190.2 647.4 189.5 643.4 189.6 638.9 190.4 634.9 191.6 631.4 197 620.4 199 615.4 202.7 599.4 205.1 592.9 207.3 589.3 209.8 586.7 212.8 584.9 215.8 584.5 217.8 585 219.2 585.9 221.8 588.9 223.6 592.9 225.9 601.4 227.8 604.3 230.3 605.6 236.8 606.1 239.3 606.8 241.3 607.9 242.5 609.4 242.7 610.9 241.8 612.7 239.8 614.3 234.1 617.4 233.1 618.9 232.8 620.9 233.3 624.4 234.8 628.6 236.8 632 241.7 638.4 242.5 640.4 242.6 641.9 241.9 643.9 240.5 645.4 238.3 646.9 235 648.4 215.8 654.6 206.8 655.9Z" fill="url(#p4)" fill-rule="evenodd"/>
<path d="M244.7 612.6h0.8v0.8h-0.8zM210.8 623.3h0.8v0.8h-0.8zM232.6 618.9h0.8v0.8h-0.8zM244.1 602.5h0.8v0.8h-0.8zM217.7 569.2h0.8v0.8h-0.8zM258.8 588.5h0.8v0.8h-0.8zM220.7 622.8h0.8v0.8h-0.8zM196.2 606.4h0.8v0.8h-0.8zM229 605.4h0.8v0.8h-0.8zM235.3 605.1h0.8v0.8h-0.8zM198.9 603.8h0.8v0.8h-0.8zM222.4 619.4h0.8v0.8h-0.8zM238.3 609.5h0.8v0.8h-0.8zM203.5 629.2h0.8v0.8h-0.8zM222.4 633.3h0.8v0.8h-0.8zM240 611.3h0.8v0.8h-0.8zM223.6 626.8h0.8v0.8h-0.8zM193.9 606.3h0.8v0.8h-0.8zM219.1 651.3h0.8v0.8h-0.8zM237.8 610.8h0.8v0.8h-0.8zM211.4 557.9h0.8v0.8h-0.8zM242.3 625.7h0.8v0.8h-0.8zM242.4 575.3h0.8v0.8h-0.8zM241 608.9h0.8v0.8h-0.8zM181.2 620.5h0.8v0.8h-0.8zM202 621.1h0.8v0.8h-0.8zM199.8 571.3h0.8v0.8h-0.8zM216.5 641.4h0.8v0.8h-0.8zM214.9 624.6h0.8v0.8h-0.8zM247.3 622.7h0.8v0.8h-0.8zM207.2 561.6h0.8v0.8h-0.8zM223 601h0.8v0.8h-0.8zM205.4 627.1h0.8v0.8h-0.8zM227.3 570.3h0.8v0.8h-0.8zM220.7 601.1h0.8v0.8h-0.8zM234 608.7h0.8v0.8h-0.8zM235.6 592.8h0.8v0.8h-0.8zM206.8 595.8h0.8v0.8h-0.8zM211.5 603.2h0.8v0.8h-0.8zM241.4 584.9h0.8v0.8h-0.8zM217.3 580.3h0.8v0.8h-0.8zM184 594.5h0.8v0.8h-0.8zM182.6 613.5h0.8v0.8h-0.8zM199.5 596h0.8v0.8h-0.8zM225.3 647.7h0.8v0.8h-0.8zM203.9 560.8h0.8v0.8h-0.8zM206.8 609.1h0.8v0.8h-0.8zM240.3 608.3h0.8v0.8h-0.8zM196.4 632.4h0.8v0.8h-0.8zM239.4 604.9h0.8v0.8h-0.8zM222.2 618.7h0.8v0.8h-0.8zM261.8 603.7h0.8v0.8h-0.8zM207.1 607.6h0.8v0.8h-0.8zM231.9 602.7h0.8v0.8h-0.8zM227.5 632.5h0.8v0.8h-0.8zM259.4 606.4h0.8v0.8h-0.8zM209.6 602.1h0.8v0.8h-0.8zM219.8 614.2h0.8v0.8h-0.8zM273 641.1h0.8v0.8h-0.8zM233.4 646.9h0.8v0.8h-0.8zM202.4 596.4h0.8v0.8h-0.8zM200.2 606.5h0.8v0.8h-0.8zM263.5 603.9h0.8v0.8h-0.8zM202.6 611.5h0.8v0.8h-0.8zM234.9 622.5h0.8v0.8h-0.8zM235.3 580.8h0.8v0.8h-0.8zM197.8 605h0.8v0.8h-0.8zM218.8 644.6h0.8v0.8h-0.8zM189.2 626.8h0.8v0.8h-0.8zM211.9 626.1h0.8v0.8h-0.8zM202.6 576.3h0.8v0.8h-0.8zM242.7 618.1h0.8v0.8h-0.8zM195 608.3h0.8v0.8h-0.8zM216.6 577.4h0.8v0.8h-0.8zM241.1 597.8h0.8v0.8h-0.8zM252.5 622.9h0.8v0.8h-0.8zM228.1 617.5h0.8v0.8h-0.8zM260 585.5h0.8v0.8h-0.8zM199.9 594.5h0.8v0.8h-0.8zM242.1 637h0.8v0.8h-0.8zM218.9 617.6h0.8v0.8h-0.8zM181 647.9h0.8v0.8h-0.8zM212.2 614h0.8v0.8h-0.8zM210.4 627.3h0.8v0.8h-0.8zM212.4 614.1h0.8v0.8h-0.8zM219.1 598.4h0.8v0.8h-0.8zM203.7 620.9h0.8v0.8h-0.8zM225.6 629.5h0.8v0.8h-0.8zM249 580.4h0.8v0.8h-0.8zM245.1 610.1h0.8v0.8h-0.8zM228.2 573.9h0.8v0.8h-0.8zM199 613.7h0.8v0.8h-0.8zM205 607.8h0.8v0.8h-0.8zM228.6 611.4h0.8v0.8h-0.8zM247.8 606.5h0.8v0.8h-0.8zM250 596.6h0.8v0.8h-0.8zM191.6 558.9h0.8v0.8h-0.8zM198.2 613.5h0.8v0.8h-0.8zM216.3 586.9h0.8v0.8h-0.8zM232.7 598.4h0.8v0.8h-0.8zM223.8 656.1h0.8v0.8h-0.8zM219.6 606.9h0.8v0.8h-0.8zM238.7 618.4h0.8v0.8h-0.8zM212.7 571.1h0.8v0.8h-0.8zM209.4 569.6h0.8v0.8h-0.8zM221.5 625.3h0.8v0.8h-0.8zM218.4 656.9h0.8v0.8h-0.8zM192 621.2h0.8v0.8h-0.8zM217.9 581.6h0.8v0.8h-0.8zM227.9 631.6h0.8v0.8h-0.8zM241.6 606.8h0.8v0.8h-0.8zM244.9 603.6h0.8v0.8h-0.8zM249.6 655.6h0.8v0.8h-0.8zM220.5 616.8h0.8v0.8h-0.8zM193.9 611.8h0.8v0.8h-0.8zM236 609.9h0.8v0.8h-0.8zM226.7 620.6h0.8v0.8h-0.8zM221.5 638.3h0.8v0.8h-0.8zM228.2 604.2h0.8v0.8h-0.8zM259.5 639.2h0.8v0.8h-0.8zM184.9 610.9h0.8v0.8h-0.8zM212.3 591.5h0.8v0.8h-0.8zM264.7 581.1h0.8v0.8h-0.8zM250.8 568.7h0.8v0.8h-0.8zM247.4 598.4h0.8v0.8h-0.8zM228 588.9h0.8v0.8h-0.8zM241.3 569.7h0.8v0.8h-0.8zM249.5 612.5h0.8v0.8h-0.8zM255.5 605.6h0.8v0.8h-0.8zM237 597.3h0.8v0.8h-0.8zM235.7 618h0.8v0.8h-0.8zM235.3 580h0.8v0.8h-0.8zM243.9 611h0.8v0.8h-0.8zM250.8 603.5h0.8v0.8h-0.8zM213.9 628h0.8v0.8h-0.8zM244.2 590.9h0.8v0.8h-0.8zM211.6 633.2h0.8v0.8h-0.8zM210 565.7h0.8v0.8h-0.8zM210.1 611.1h0.8v0.8h-0.8zM196.5 613.6h0.8v0.8h-0.8zM193.5 606.6h0.8v0.8h-0.8zM219.2 655.6h0.8v0.8h-0.8zM225.1 643h0.8v0.8h-0.8zM222.1 583.1h0.8v0.8h-0.8zM192 631h0.8v0.8h-0.8zM182.3 571.6h0.8v0.8h-0.8zM237.1 591h0.8v0.8h-0.8zM192.1 652.2h0.8v0.8h-0.8zM198.1 626.4h0.8v0.8h-0.8zM238.9 609.2h0.8v0.8h-0.8zM218.1 636.2h0.8v0.8h-0.8zM249.6 587.9h0.8v0.8h-0.8zM250.5 605.7h0.8v0.8h-0.8zM213.4 628.1h0.8v0.8h-0.8zM205.2 588.1h0.8v0.8h-0.8zM250.2 596.7h0.8v0.8h-0.8zM224.1 607.3h0.8v0.8h-0.8zM254.9 582h0.8v0.8h-0.8zM190.5 611.9h0.8v0.8h-0.8zM246.3 646.1h0.8v0.8h-0.8zM217.9 595.1h0.8v0.8h-0.8zM220.1 649h0.8v0.8h-0.8zM238.6 605.2h0.8v0.8h-0.8zM227 616.3h0.8v0.8h-0.8zM219.8 663h0.8v0.8h-0.8zM232 614.3h0.8v0.8h-0.8zM209.8 604.8h0.8v0.8h-0.8zM228.6 629.5h0.8v0.8h-0.8zM233.8 604.7h0.8v0.8h-0.8zM211.6 588.3h0.8v0.8h-0.8zM241.5 589.3h0.8v0.8h-0.8zM240.8 615.2h0.8v0.8h-0.8zM196.1 590.5h0.8v0.8h-0.8zM214.5 624.2h0.8v0.8h-0.8zM221.6 612.9h0.8v0.8h-0.8zM245 597.5h0.8v0.8h-0.8zM202.8 627.9h0.8v0.8h-0.8zM220.2 635.2h0.8v0.8h-0.8zM241.3 584.5h0.8v0.8h-0.8zM216.7 618.7h0.8v0.8h-0.8zM197.9 631.6h0.8v0.8h-0.8zM212.7 625.4h0.8v0.8h-0.8zM237.6 614.5h0.8v0.8h-0.8zM215.7 594.6h0.8v0.8h-0.8zM263.5 598.9h0.8v0.8h-0.8zM233.1 574.4h0.8v0.8h-0.8zM199.7 646.7h0.8v0.8h-0.8zM201.7 638.1h0.8v0.8h-0.8zM209.3 633.5h0.8v0.8h-0.8zM186.7 583.4h0.8v0.8h-0.8zM249.5 619.8h0.8v0.8h-0.8z" fill="#1e32ff" opacity="0.9"/>
<g filter="url(#blur)">
<path d="M205.3 653.4 198.8 653.3 196.8 652.6 194.8 651.1 193.2 648.9 192.1 645.9 191.6 642.4 191.9 638.9 192.9 634.9 194.5 631.4 202.2 620.4 205.1 614.9 206.5 609.9 207.6 600.4 209.1 595.9 210.3 593.9 211.8 592.4 213.3 591.7 214.8 591.6 216.8 592.7 218.3 595.2 220.8 608.4 225.8 617.7 230.4 629.4 234.6 637.9 235.1 640.9 234.2 642.9 232.7 644.4 229.8 646.2 224.9 648.4 214.3 652.3 205.3 653.4Z" fill="#1030ff" fill-rule="evenodd"/>
<path d="M209.3 650.9 205.8 651.3 201.8 651 198.8 650.4 196.8 649.3 195.2 647.4 194.2 644.9 193.8 641.9 194.1 638.9 195 635.9 196.6 632.9 198.8 630 202.3 626.4 206.8 622.5 210.3 620.1 212.8 619.1 215.3 619 217.3 619.7 219.3 620.9 221.3 622.8 223.3 625.5 227.5 634.4 228.2 637.4 228.2 639.4 227.5 641.4 226.4 642.9 221.7 646.4 215.8 649.3 209.3 650.9Z" fill="#1060ff" fill-rule="evenodd"/>
<path d="M208.8 649.5 205.8 649.8 203.3 649.5 200.3 648.6 198.4 647.4 197 645.9 196.2 643.9 195.8 641.4 196.1 638.9 197.2 635.9 198.8 633.4 203.3 629 206.3 627 209.3 625.7 212.3 625.1 214.8 625.3 218.3 627.1 221.3 630.6 223.3 635.4 223.3 639.4 221.7 642.4 218.4 645.4 214.3 647.6 208.8 649.5Z" fill="#0090ff" fill-rule="evenodd"/>
<path d="M207.8 648.5 205.3 648.7 203.3 648.3 201.3 647.4 199.5 645.9 198.5 644.4 197.8 642.4 197.7 640.4 198.2 637.9 200.4 633.9 204.3 630.6 209.3 628.8 211.8 628.7 213.8 629 216.8 630.7 218.8 633.3 219.9 636.4 219.7 639.4 218.5 641.9 216 644.4 211.3 647.2 207.8 648.5Z" fill="#00c0ff" fill-rule="evenodd"/>
<path d="M208.3 647.4 204.8 647.7 202.8 647 201.3 646 199.4 642.9 199.1 639.4 200.4 635.9 203.3 632.9 206.8 631.4 210.8 631.2 213.3 632 215.6 633.9 216.8 636.4 216.9 638.9 216.2 640.9 214.2 643.4 211.2 645.9 208.3 647.4Z" fill="#00e4e8" fill-rule="evenodd"/>
<path d="M206.8 646.9 204.3 646.7 201.8 645.1 200.5 642.9 200.2 639.9 201 636.9 202.8 634.6 205.3 633.2 207.8 632.9 210.3 633.5 212.4 634.9 213.7 636.9 213.9 638.9 213 641.9 211.2 644.4 209.3 646 206.8 646.9Z" fill="#30f080" fill-rule="evenodd"/>
<path d="M206.3 646 204.3 645.6 202.6 644.4 201.5 642.4 201.2 640.4 201.6 638.4 202.8 636.3 204.8 634.8 206.8 634.5 208.8 635 210.3 636.2 211.3 637.9 211.5 639.9 211.1 641.9 209.9 643.9 208.3 645.3 206.3 646Z" fill="#b0ff10" fill-rule="evenodd"/>
<path d="M207.3 644.5 205.8 644.8 204.3 644.3 203 642.9 202.5 641.4 202.5 639.4 203.1 637.9 204.3 636.6 205.8 636 207.3 636.2 208.3 636.7 209.3 637.9 209.9 639.4 209.4 642.4 207.3 644.5Z" fill="#ffe800" fill-rule="evenodd"/>
<path d="M206.3 643.5 204.4 642.9 203.5 640.9 204.2 638.4 205.8 637.4 207.5 637.9 208.6 639.9 208 642.4 206.3 643.5Z" fill="#ff8000" fill-rule="evenodd"/>
<path d="M205.8 642.4 204.8 641.8 204.4 640.4 205.2 638.9 206.3 638.7 207.3 639.4 207.5 640.9 206.8 642.1 205.8 642.4Z" fill="#ff1a00" fill-rule="evenodd"/>
</g></g>
<clipPath id="c10"><rect x="179.3" y="553.9" width="112.2" height="112.9"/></clipPath>
<rect x="231" y="597.4" width="43.2" height="24" fill="none" stroke="#000" stroke-width="1.4"/>
<text transform="translate(99.42,32.7) scale(0.9313,1)" font-size="10.14" font-weight="bold" fill="#000">C 5.05</text>
<text transform="translate(42.65,83.51) scale(1.1371,1)" font-size="8.73" font-weight="bold" fill="#000">A 43.9</text>
<text transform="translate(104.88,120.21) scale(1.0063,1)" font-size="9.44" font-weight="bold" fill="#000">B 43.4</text>
<text transform="translate(253.45,30.4) scale(0.9991,1)" font-size="9.72" font-weight="bold" fill="#000">4.66</text>
<text transform="translate(184.42,83.51) scale(1.0060,1)" font-size="9.44" font-weight="bold" fill="#000">57.2</text>
<text transform="translate(260.56,118.31) scale(0.9977,1)" font-size="9.44" font-weight="bold" fill="#000">30.7</text>
<text transform="translate(93.14,172.01) scale(1.1831,1)" font-size="8.59" font-weight="bold" fill="#000">F 35.3</text>
<text transform="translate(43.59,189.9) scale(0.9185,1)" font-size="10.14" font-weight="bold" fill="#000">D 36.3</text>
<text transform="translate(96.16,234.81) scale(1.0855,1)" font-size="9.01" font-weight="bold" fill="#000">E 25.3</text>
<text transform="translate(249.66,174.01) scale(1.0563,1)" font-size="9.01" font-weight="bold" fill="#000">34.0</text>
<text transform="translate(177.86,196.2) scale(0.9840,1)" font-size="9.57" font-weight="bold" fill="#000">41.2</text>
<text transform="translate(240.18,235.81) scale(0.9834,1)" font-size="9.44" font-weight="bold" fill="#000">20.9</text>
<text transform="translate(47.77,295.81) scale(1.0718,1)" font-size="9.01" font-weight="bold" fill="#000">FO 61.4</text>
<text transform="translate(108.61,295.81) scale(1.0529,1)" font-size="9.01" font-weight="bold" fill="#000">T2 16.7</text>
<text transform="translate(49.37,387.41) scale(1.0603,1)" font-size="9.15" font-weight="bold" fill="#000">IS 1.63</text>
<text transform="translate(113.01,387.5) scale(0.9995,1)" font-size="9.29" font-weight="bold" fill="#000">T1 12.2</text>
<text transform="translate(200.26,295.81) scale(1.1141,1)" font-size="8.59" font-weight="bold" fill="#000">64.7</text>
<text transform="translate(252.55,295.81) scale(1.0490,1)" font-size="8.71" font-weight="bold" fill="#000">11.5</text>
<text transform="translate(196.98,387.41) scale(0.9967,1)" font-size="9.15" font-weight="bold" fill="#000">2.51</text>
<text transform="translate(260.56,387.5) scale(0.9548,1)" font-size="9.42" font-weight="bold" fill="#000">11.7</text>
<text transform="translate(39.08,424.11) scale(1.0231,1)" font-size="9.3" font-weight="bold" fill="#000">MZ 5.35</text>
<text transform="translate(178.7,423.91) scale(1.0976,1)" font-size="9.01" font-weight="bold" fill="#000">5.53</text>
<text transform="translate(78.22,572.81) scale(1.0399,1)" font-size="9.15" font-weight="bold" fill="#000">GCB 0.85</text>
<text transform="translate(232.21,571.9) scale(0.9926,1)" font-size="9.86" font-weight="bold" fill="#000">0.46</text>
<rect x="550.3" y="140.3" width="114.2" height="113.9" fill="#fff" stroke="#7a7a7a" stroke-width="0.8"/>
<line x1="550.8" y1="160.7" x2="664" y2="160.7" stroke="#e6e6e6" stroke-width="0.6"/>
<path d="M603 160.4 L603 160.4 L606 159.5 L609 156 L612 150 L614 146 L615.5 144.6 L617 146 L619 152 L621 157.3 L623 158.6 L625.5 158.3 L627.8 157.7 L630 158.5 L632 159.8 L634.4 160.4 L634.4 160.4 Z" fill="#ecd2d2" stroke="#c9a3a3" stroke-width="0.7" stroke-linejoin="round"/>
<text transform="translate(636.82,146.11) scale(1.3694,1)" font-size="4.22" font-weight="bold" fill="#f0d4d4">pre-pro-B</text>
<line x1="550.8" y1="179.6" x2="664" y2="179.6" stroke="#e6e6e6" stroke-width="0.6"/>
<path d="M611.4 179.3 L611.4 179.3 L613.5 178 L616 174.5 L618.5 169 L620.7 165.7 L622.5 165.9 L624 165.1 L626.5 164.8 L628.9 163.5 L630.5 166 L631.5 171 L632.8 176.6 L634.5 178.8 L636.6 179.3 L636.6 179.3 Z" fill="#a5b891" stroke="#56704a" stroke-width="0.7" stroke-linejoin="round"/>
<text transform="translate(647.72,166.84) scale(1.2715,1)" font-size="4.56" font-weight="bold" fill="#a9c39a">pro-B</text>
<line x1="550.8" y1="198.6" x2="664" y2="198.6" stroke="#e6e6e6" stroke-width="0.6"/>
<path d="M611.4 198.3 L611.4 198.3 L614 196.5 L617 191 L620.2 185.9 L622 186.2 L624.6 185.6 L627 186 L628.5 183.5 L629.8 182.3 L631 185 L632.2 190 L633.3 194.1 L634.8 197.5 L636.1 198.3 L636.1 198.3 Z" fill="#a6f58a" stroke="#7ee85a" stroke-width="0.7" stroke-linejoin="round"/>
<text transform="translate(632.57,184.52) scale(1.4039,1)" font-size="4.17" font-weight="bold" fill="#b4f39a">early pre-B</text>
<line x1="550.8" y1="216.6" x2="664" y2="216.6" stroke="#e6e6e6" stroke-width="0.6"/>
<path d="M592 216.3 L592 216.3 L598 216 L603 215 L607 213 L610.2 210.8 L613 208.5 L616.5 205 L619.5 201.5 L621.4 200.3 L623 202 L625.3 206.2 L628 210.5 L630 214 L631.9 216 L631.9 216.3 Z" fill="#f9cc98" stroke="#eeaa6a" stroke-width="0.7" stroke-linejoin="round"/>
<text transform="translate(636.09,202.16) scale(1.3124,1)" font-size="4.49" font-weight="bold" fill="#f9cca4">late pre-B</text>
<line x1="550.8" y1="235.4" x2="664" y2="235.4" stroke="#e6e6e6" stroke-width="0.6"/>
<path d="M586 235.1 L586 235.1 L596 234.8 L602 234.4 L606.3 233.8 L610 231.5 L614.2 227.9 L617 224.5 L619.4 222.3 L621 222.1 L622.7 222.6 L625 224.5 L627.3 228.5 L629.3 231.8 L631 234.2 L632.6 235.1 L632.6 235.1 Z" fill="#78def6" stroke="#45c8ee" stroke-width="0.7" stroke-linejoin="round"/>
<text transform="translate(630.78,221.84) scale(0.9554,1)" font-size="6.26" font-weight="bold" fill="#a2e9fa">immature B</text>
<line x1="550.8" y1="254" x2="664" y2="254" stroke="#e6e6e6" stroke-width="0.6"/>
<path d="M584 253.7 L584 253.7 L592 253 L600 252.2 L608 251.6 L614 251.3 L619.4 250.8 L622 247 L625 242 L627.5 239 L629.9 238.1 L631.5 239.5 L633.5 244.5 L635.2 250.2 L637 253.2 L639.1 253.7 L639.1 253.7 Z" fill="#f5a4a4" stroke="#e57070" stroke-width="0.7" stroke-linejoin="round"/>
<text transform="translate(623.62,237.5) scale(1.3842,1)" font-size="4.28" font-weight="bold" fill="#f2aaaa">recirculating B</text>
<text transform="translate(557.34,150.54) scale(0.9597,1)" font-size="6.2" font-weight="bold" fill="#000">100988</text>
<text transform="translate(557.55,168.84) scale(0.9509,1)" font-size="6.2" font-weight="bold" fill="#000">382659</text>
<text transform="translate(557.55,188.84) scale(0.9509,1)" font-size="6.2" font-weight="bold" fill="#000">382659</text>
<text transform="translate(557.34,205.94) scale(0.9194,1)" font-size="6.48" font-weight="bold" fill="#000">192739</text>
<text transform="translate(557.34,226.74) scale(0.9627,1)" font-size="6.2" font-weight="bold" fill="#000">186022</text>
<text transform="translate(557.52,243.64) scale(0.9538,1)" font-size="6.2" font-weight="bold" fill="#000">510000</text>
<path d="M583.3 254.2v2.6M599.7 254.2v2.6M588.24 254.2v1.4M591.12 254.2v1.4M593.17 254.2v1.4M594.76 254.2v1.4M596.06 254.2v1.4M597.16 254.2v1.4M598.11 254.2v1.4M598.95 254.2v1.4M615.5 254.2v2.6M604.46 254.2v1.4M607.24 254.2v1.4M609.21 254.2v1.4M610.74 254.2v1.4M611.99 254.2v1.4M613.05 254.2v1.4M613.97 254.2v1.4M614.78 254.2v1.4M631.9 254.2v2.6M620.44 254.2v1.4M623.32 254.2v1.4M625.37 254.2v1.4M626.96 254.2v1.4M628.26 254.2v1.4M629.36 254.2v1.4M630.31 254.2v1.4M631.15 254.2v1.4M647.7 254.2v2.6M636.66 254.2v1.4M639.44 254.2v1.4M641.41 254.2v1.4M642.94 254.2v1.4M644.19 254.2v1.4M645.25 254.2v1.4M646.17 254.2v1.4M646.98 254.2v1.4M663.4 254.2v2.6M652.43 254.2v1.4M655.19 254.2v1.4M657.15 254.2v1.4M658.67 254.2v1.4M659.92 254.2v1.4M660.97 254.2v1.4M661.88 254.2v1.4M662.68 254.2v1.4" stroke="#333" stroke-width="0.7" fill="none"/>
<rect x="552.5" y="254.2" width="5.5" height="2" fill="#222"/>
<line x1="543.5" y1="140" x2="543.5" y2="196.8" stroke="#000" stroke-width="1.4"/>
<polygon points="543.5,134.9 541,140.6 546,140.6" fill="#000"/>
<text transform="translate(547.25,247.12) rotate(-90) scale(1.0190,1)" font-size="9.3" font-weight="bold" fill="#000">Histogram</text>
<text transform="translate(551.87,262.9) scale(1.0236,1)" font-size="9.43" font-weight="bold" fill="#000">MBD2</text>
<line x1="582.1" y1="259.5" x2="656" y2="259.5" stroke="#000" stroke-width="1.4"/>
<polygon points="661.8,259.5 655.5,257 655.5,262" fill="#000"/>
<line x1="370.6" y1="50.14" x2="370.6" y2="46.24" stroke="#ff0000" stroke-width="0.9"/>
<line x1="368.5" y1="46.24" x2="372.7" y2="46.24" stroke="#ff0000" stroke-width="0.9"/>
<rect x="367" y="50.14" width="7.2" height="62.06" fill="#ff0000"/>
<line x1="377.8" y1="46.53" x2="377.8" y2="38.45" stroke="#0000ff" stroke-width="0.9"/>
<line x1="375.7" y1="38.45" x2="379.9" y2="38.45" stroke="#0000ff" stroke-width="0.9"/>
<rect x="374.2" y="46.53" width="7.2" height="65.67" fill="#0000ff"/>
<line x1="392.3" y1="53.75" x2="392.3" y2="50.57" stroke="#ff0000" stroke-width="0.9"/>
<line x1="390.2" y1="50.57" x2="394.4" y2="50.57" stroke="#ff0000" stroke-width="0.9"/>
<rect x="388.7" y="53.75" width="7.2" height="58.45" fill="#ff0000"/>
<line x1="399.5" y1="59.52" x2="399.5" y2="53.75" stroke="#0000ff" stroke-width="0.9"/>
<line x1="397.4" y1="53.75" x2="401.6" y2="53.75" stroke="#0000ff" stroke-width="0.9"/>
<rect x="395.9" y="59.52" width="7.2" height="52.68" fill="#0000ff"/>
<line x1="414" y1="100.51" x2="414" y2="97.33" stroke="#ff0000" stroke-width="0.9"/>
<line x1="411.9" y1="97.33" x2="416.1" y2="97.33" stroke="#ff0000" stroke-width="0.9"/>
<rect x="410.4" y="100.51" width="7.2" height="11.69" fill="#ff0000"/>
<line x1="421.2" y1="98.49" x2="421.2" y2="94.3" stroke="#0000ff" stroke-width="0.9"/>
<line x1="419.1" y1="94.3" x2="423.3" y2="94.3" stroke="#0000ff" stroke-width="0.9"/>
<rect x="417.6" y="98.49" width="7.2" height="13.71" fill="#0000ff"/>
<line x1="435.7" y1="65.29" x2="435.7" y2="61.97" stroke="#ff0000" stroke-width="0.9"/>
<line x1="433.6" y1="61.97" x2="437.8" y2="61.97" stroke="#ff0000" stroke-width="0.9"/>
<rect x="432.1" y="65.29" width="7.2" height="46.91" fill="#ff0000"/>
<line x1="442.9" y1="66.45" x2="442.9" y2="63.27" stroke="#0000ff" stroke-width="0.9"/>
<line x1="440.8" y1="63.27" x2="445" y2="63.27" stroke="#0000ff" stroke-width="0.9"/>
<rect x="439.3" y="66.45" width="7.2" height="45.75" fill="#0000ff"/>
<line x1="457.4" y1="77.7" x2="457.4" y2="72.94" stroke="#ff0000" stroke-width="0.9"/>
<line x1="455.3" y1="72.94" x2="459.5" y2="72.94" stroke="#ff0000" stroke-width="0.9"/>
<rect x="453.8" y="77.7" width="7.2" height="34.5" fill="#ff0000"/>
<line x1="464.6" y1="77.7" x2="464.6" y2="72.51" stroke="#0000ff" stroke-width="0.9"/>
<line x1="462.5" y1="72.51" x2="466.7" y2="72.51" stroke="#0000ff" stroke-width="0.9"/>
<rect x="461" y="77.7" width="7.2" height="34.5" fill="#0000ff"/>
<line x1="479.1" y1="53.31" x2="479.1" y2="47.11" stroke="#ff0000" stroke-width="0.9"/>
<line x1="477" y1="47.11" x2="481.2" y2="47.11" stroke="#ff0000" stroke-width="0.9"/>
<rect x="475.5" y="53.31" width="7.2" height="58.89" fill="#ff0000"/>
<line x1="486.3" y1="52.45" x2="486.3" y2="46.24" stroke="#0000ff" stroke-width="0.9"/>
<line x1="484.2" y1="46.24" x2="488.4" y2="46.24" stroke="#0000ff" stroke-width="0.9"/>
<rect x="482.7" y="52.45" width="7.2" height="59.75" fill="#0000ff"/>
<line x1="363.6" y1="25.2" x2="363.6" y2="112.7" stroke="#1a1a1a" stroke-width="1"/>
<line x1="360.2" y1="112.2" x2="363.6" y2="112.2" stroke="#1a1a1a" stroke-width="1"/>
<text transform="translate(353.17,115.03) scale(1.1200,1)" font-size="8.2" font-weight="bold" fill="#000">0</text>
<line x1="360.2" y1="83.33" x2="363.6" y2="83.33" stroke="#1a1a1a" stroke-width="1"/>
<text transform="translate(348.07,86.16) scale(1.1200,1)" font-size="8.2" font-weight="bold" fill="#000">20</text>
<line x1="360.2" y1="54.47" x2="363.6" y2="54.47" stroke="#1a1a1a" stroke-width="1"/>
<text transform="translate(348.07,57.3) scale(1.1200,1)" font-size="8.2" font-weight="bold" fill="#000">40</text>
<line x1="360.2" y1="25.6" x2="363.6" y2="25.6" stroke="#1a1a1a" stroke-width="1"/>
<text transform="translate(348.07,28.43) scale(1.1200,1)" font-size="8.2" font-weight="bold" fill="#000">60</text>
<line x1="363.1" y1="112.2" x2="494" y2="112.2" stroke="#1a1a1a" stroke-width="1"/>
<line x1="374.2" y1="112.2" x2="374.2" y2="115.5" stroke="#1a1a1a" stroke-width="1"/>
<text transform="translate(370.65,125.6) scale(1.0600,1)" font-size="9.3" font-weight="bold" fill="#000">A</text>
<line x1="395.9" y1="112.2" x2="395.9" y2="115.5" stroke="#1a1a1a" stroke-width="1"/>
<text transform="translate(392.25,125.6) scale(1.0600,1)" font-size="9.3" font-weight="bold" fill="#000">B</text>
<line x1="417.6" y1="112.2" x2="417.6" y2="115.5" stroke="#1a1a1a" stroke-width="1"/>
<text transform="translate(413.98,125.6) scale(1.0600,1)" font-size="9.3" font-weight="bold" fill="#000">C</text>
<line x1="439.3" y1="112.2" x2="439.3" y2="115.5" stroke="#1a1a1a" stroke-width="1"/>
<text transform="translate(435.63,125.6) scale(1.0600,1)" font-size="9.3" font-weight="bold" fill="#000">D</text>
<line x1="461" y1="112.2" x2="461" y2="115.5" stroke="#1a1a1a" stroke-width="1"/>
<text transform="translate(457.57,125.6) scale(1.0600,1)" font-size="9.3" font-weight="bold" fill="#000">E</text>
<line x1="482.7" y1="112.2" x2="482.7" y2="115.5" stroke="#1a1a1a" stroke-width="1"/>
<text transform="translate(479.55,125.6) scale(1.0600,1)" font-size="9.3" font-weight="bold" fill="#000">F</text>
<rect x="462.9" y="22.6" width="9.3" height="5.9" fill="#ff0000"/>
<rect x="462.9" y="34.1" width="9.3" height="5.9" fill="#0000ff"/>
<text transform="translate(477.7,28.1) scale(0.9462,1)" font-size="8.55" font-weight="bold" fill="#000">WT</text>
<text transform="translate(477.13,40.21) scale(0.9969,1)" font-size="8.73" font-weight="bold" fill="#000">KO</text>
<text transform="translate(343.7,106.6) rotate(-90) scale(0.9248,1)" font-size="10" font-weight="bold" fill="#000">B cell subsets (%)</text>
<line x1="568.1" y1="99.2" x2="568.1" y2="96.7" stroke="#ff0000" stroke-width="0.9"/>
<line x1="566" y1="96.7" x2="570.2" y2="96.7" stroke="#ff0000" stroke-width="0.9"/>
<rect x="564.6" y="99.2" width="7" height="11.1" fill="#ff0000"/>
<line x1="575.1" y1="103.6" x2="575.1" y2="101.59" stroke="#0000ff" stroke-width="0.9"/>
<line x1="573" y1="101.59" x2="577.2" y2="101.59" stroke="#0000ff" stroke-width="0.9"/>
<rect x="571.6" y="103.6" width="7" height="6.7" fill="#0000ff"/>
<line x1="588.6" y1="100.08" x2="588.6" y2="97.9" stroke="#ff0000" stroke-width="0.9"/>
<line x1="586.5" y1="97.9" x2="590.7" y2="97.9" stroke="#ff0000" stroke-width="0.9"/>
<rect x="585.1" y="100.08" width="7" height="10.22" fill="#ff0000"/>
<line x1="595.6" y1="103.6" x2="595.6" y2="100.9" stroke="#0000ff" stroke-width="0.9"/>
<line x1="593.5" y1="100.9" x2="597.7" y2="100.9" stroke="#0000ff" stroke-width="0.9"/>
<rect x="592.1" y="103.6" width="7" height="6.7" fill="#0000ff"/>
<line x1="609.1" y1="107.29" x2="609.1" y2="106.88" stroke="#ff0000" stroke-width="0.9"/>
<line x1="607" y1="106.88" x2="611.2" y2="106.88" stroke="#ff0000" stroke-width="0.9"/>
<rect x="605.6" y="107.29" width="7" height="3.01" fill="#ff0000"/>
<line x1="616.1" y1="107.6" x2="616.1" y2="106.88" stroke="#0000ff" stroke-width="0.9"/>
<line x1="614" y1="106.88" x2="618.2" y2="106.88" stroke="#0000ff" stroke-width="0.9"/>
<rect x="612.6" y="107.6" width="7" height="2.7" fill="#0000ff"/>
<line x1="629.6" y1="73.57" x2="629.6" y2="68.04" stroke="#ff0000" stroke-width="0.9"/>
<line x1="627.5" y1="68.04" x2="631.7" y2="68.04" stroke="#ff0000" stroke-width="0.9"/>
<rect x="626.1" y="73.57" width="7" height="36.73" fill="#ff0000"/>
<line x1="636.6" y1="89.19" x2="636.6" y2="86.66" stroke="#0000ff" stroke-width="0.9"/>
<line x1="634.5" y1="86.66" x2="638.7" y2="86.66" stroke="#0000ff" stroke-width="0.9"/>
<rect x="633.1" y="89.19" width="7" height="21.11" fill="#0000ff"/>
<line x1="650.1" y1="83.75" x2="650.1" y2="78.05" stroke="#ff0000" stroke-width="0.9"/>
<line x1="648" y1="78.05" x2="652.2" y2="78.05" stroke="#ff0000" stroke-width="0.9"/>
<rect x="646.6" y="83.75" width="7" height="26.55" fill="#ff0000"/>
<line x1="657.1" y1="93.69" x2="657.1" y2="90.69" stroke="#0000ff" stroke-width="0.9"/>
<line x1="655" y1="90.69" x2="659.2" y2="90.69" stroke="#0000ff" stroke-width="0.9"/>
<rect x="653.6" y="93.69" width="7" height="16.61" fill="#0000ff"/>
<line x1="670.6" y1="59.84" x2="670.6" y2="48.42" stroke="#ff0000" stroke-width="0.9"/>
<line x1="668.5" y1="48.42" x2="672.7" y2="48.42" stroke="#ff0000" stroke-width="0.9"/>
<rect x="667.1" y="59.84" width="7" height="50.46" fill="#ff0000"/>
<line x1="677.6" y1="82.97" x2="677.6" y2="78.05" stroke="#0000ff" stroke-width="0.9"/>
<line x1="675.5" y1="78.05" x2="679.7" y2="78.05" stroke="#0000ff" stroke-width="0.9"/>
<rect x="674.1" y="82.97" width="7" height="27.33" fill="#0000ff"/>
<line x1="560.9" y1="27.9" x2="560.9" y2="110.8" stroke="#1a1a1a" stroke-width="1"/>
<line x1="557.5" y1="110.3" x2="560.9" y2="110.3" stroke="#1a1a1a" stroke-width="1"/>
<text transform="translate(552.33,113.13) scale(1.1300,1)" font-size="8.2" font-weight="bold" fill="#000">0</text>
<line x1="557.5" y1="89.8" x2="560.9" y2="89.8" stroke="#1a1a1a" stroke-width="1"/>
<text transform="translate(542.04,92.63) scale(1.1300,1)" font-size="8.2" font-weight="bold" fill="#000">600</text>
<line x1="557.5" y1="69.3" x2="560.9" y2="69.3" stroke="#1a1a1a" stroke-width="1"/>
<text transform="translate(536.85,72.13) scale(1.1300,1)" font-size="8.2" font-weight="bold" fill="#000">1200</text>
<line x1="557.5" y1="48.8" x2="560.9" y2="48.8" stroke="#1a1a1a" stroke-width="1"/>
<text transform="translate(536.85,51.63) scale(1.1300,1)" font-size="8.2" font-weight="bold" fill="#000">1800</text>
<line x1="557.5" y1="28.3" x2="560.9" y2="28.3" stroke="#1a1a1a" stroke-width="1"/>
<text transform="translate(536.85,31.13) scale(1.1300,1)" font-size="8.2" font-weight="bold" fill="#000">2400</text>
<line x1="560.4" y1="110.3" x2="683.7" y2="110.3" stroke="#1a1a1a" stroke-width="1"/>
<line x1="571.6" y1="110.3" x2="571.6" y2="113.6" stroke="#1a1a1a" stroke-width="1"/>
<text transform="translate(568.17,122.8) scale(1.0600,1)" font-size="9" font-weight="bold" fill="#000">A</text>
<line x1="592.1" y1="110.3" x2="592.1" y2="113.6" stroke="#1a1a1a" stroke-width="1"/>
<text transform="translate(588.57,122.8) scale(1.0600,1)" font-size="9" font-weight="bold" fill="#000">B</text>
<line x1="612.6" y1="110.3" x2="612.6" y2="113.6" stroke="#1a1a1a" stroke-width="1"/>
<text transform="translate(609.09,122.8) scale(1.0600,1)" font-size="9" font-weight="bold" fill="#000">C</text>
<line x1="633.1" y1="110.3" x2="633.1" y2="113.6" stroke="#1a1a1a" stroke-width="1"/>
<text transform="translate(629.55,122.8) scale(1.0600,1)" font-size="9" font-weight="bold" fill="#000">D</text>
<line x1="653.6" y1="110.3" x2="653.6" y2="113.6" stroke="#1a1a1a" stroke-width="1"/>
<text transform="translate(650.28,122.8) scale(1.0600,1)" font-size="9" font-weight="bold" fill="#000">E</text>
<line x1="674.1" y1="110.3" x2="674.1" y2="113.6" stroke="#1a1a1a" stroke-width="1"/>
<text transform="translate(671.05,122.8) scale(1.0600,1)" font-size="9" font-weight="bold" fill="#000">F</text>
<rect x="654.9" y="16.1" width="8.8" height="5.6" fill="#ff0000"/>
<rect x="654.9" y="23.4" width="8.8" height="5.4" fill="#0000ff"/>
<text transform="translate(668.4,21.4) scale(1.0280,1)" font-size="7.68" font-weight="bold" fill="#000">WT</text>
<text transform="translate(667.86,28.92) scale(1.0773,1)" font-size="7.75" font-weight="bold" fill="#000">KO</text>
<text transform="translate(532.9,109.57) rotate(-90) scale(0.9240,1)" font-size="9.42" font-weight="bold" fill="#000"><tspan>B cell subsets (x10</tspan><tspan dy="-3.58" font-size="5.84">3</tspan><tspan dy="3.58">)</tspan></text>
<line x1="648.5" y1="65.3" x2="656.4" y2="65.3" stroke="#1a1a1a" stroke-width="1.3"/>
<text transform="translate(649.63,66.43) scale(0.9395,1)" font-size="15.41" font-weight="bold" fill="#000">*</text>
<line x1="371.5" y1="229.98" x2="371.5" y2="227.97" stroke="#ff0000" stroke-width="0.9"/>
<line x1="369.4" y1="227.97" x2="373.6" y2="227.97" stroke="#ff0000" stroke-width="0.9"/>
<rect x="368" y="229.98" width="7" height="22.02" fill="#ff0000"/>
<line x1="378.5" y1="231.03" x2="378.5" y2="229.77" stroke="#0000ff" stroke-width="0.9"/>
<line x1="376.4" y1="229.77" x2="380.6" y2="229.77" stroke="#0000ff" stroke-width="0.9"/>
<rect x="375" y="231.03" width="7" height="20.97" fill="#0000ff"/>
<line x1="392.7" y1="188.35" x2="392.7" y2="185.82" stroke="#ff0000" stroke-width="0.9"/>
<line x1="390.6" y1="185.82" x2="394.8" y2="185.82" stroke="#ff0000" stroke-width="0.9"/>
<rect x="389.2" y="188.35" width="7" height="63.65" fill="#ff0000"/>
<line x1="399.7" y1="186.35" x2="399.7" y2="184.56" stroke="#0000ff" stroke-width="0.9"/>
<line x1="397.6" y1="184.56" x2="401.8" y2="184.56" stroke="#0000ff" stroke-width="0.9"/>
<rect x="396.2" y="186.35" width="7" height="65.65" fill="#0000ff"/>
<line x1="413.9" y1="190.04" x2="413.9" y2="186.04" stroke="#ff0000" stroke-width="0.9"/>
<line x1="411.8" y1="186.04" x2="416" y2="186.04" stroke="#ff0000" stroke-width="0.9"/>
<rect x="410.4" y="190.04" width="7" height="61.96" fill="#ff0000"/>
<line x1="420.9" y1="184.98" x2="420.9" y2="182.03" stroke="#0000ff" stroke-width="0.9"/>
<line x1="418.8" y1="182.03" x2="423" y2="182.03" stroke="#0000ff" stroke-width="0.9"/>
<rect x="417.4" y="184.98" width="7" height="67.02" fill="#0000ff"/>
<line x1="435.1" y1="196.99" x2="435.1" y2="192.25" stroke="#ff0000" stroke-width="0.9"/>
<line x1="433" y1="192.25" x2="437.2" y2="192.25" stroke="#ff0000" stroke-width="0.9"/>
<rect x="431.6" y="196.99" width="7" height="55.01" fill="#ff0000"/>
<line x1="442.1" y1="196.47" x2="442.1" y2="192.99" stroke="#0000ff" stroke-width="0.9"/>
<line x1="440" y1="192.99" x2="444.2" y2="192.99" stroke="#0000ff" stroke-width="0.9"/>
<rect x="438.6" y="196.47" width="7" height="55.53" fill="#0000ff"/>
<line x1="456.3" y1="203.95" x2="456.3" y2="199" stroke="#ff0000" stroke-width="0.9"/>
<line x1="454.2" y1="199" x2="458.4" y2="199" stroke="#ff0000" stroke-width="0.9"/>
<rect x="452.8" y="203.95" width="7" height="48.05" fill="#ff0000"/>
<line x1="463.3" y1="202.37" x2="463.3" y2="199.42" stroke="#0000ff" stroke-width="0.9"/>
<line x1="461.2" y1="199.42" x2="465.4" y2="199.42" stroke="#0000ff" stroke-width="0.9"/>
<rect x="459.8" y="202.37" width="7" height="49.63" fill="#0000ff"/>
<line x1="477.5" y1="236.72" x2="477.5" y2="234.72" stroke="#ff0000" stroke-width="0.9"/>
<line x1="475.4" y1="234.72" x2="479.6" y2="234.72" stroke="#ff0000" stroke-width="0.9"/>
<rect x="474" y="236.72" width="7" height="15.28" fill="#ff0000"/>
<line x1="484.5" y1="237.88" x2="484.5" y2="236.4" stroke="#0000ff" stroke-width="0.9"/>
<line x1="482.4" y1="236.4" x2="486.6" y2="236.4" stroke="#0000ff" stroke-width="0.9"/>
<rect x="481" y="237.88" width="7" height="14.12" fill="#0000ff"/>
<line x1="364.4" y1="167.3" x2="364.4" y2="252.5" stroke="#1a1a1a" stroke-width="1"/>
<line x1="361" y1="252" x2="364.4" y2="252" stroke="#1a1a1a" stroke-width="1"/>
<text transform="translate(353.97,254.83) scale(1.1200,1)" font-size="8.2" font-weight="bold" fill="#000">0</text>
<line x1="361" y1="230.93" x2="364.4" y2="230.93" stroke="#1a1a1a" stroke-width="1"/>
<text transform="translate(343.78,233.75) scale(1.1200,1)" font-size="8.2" font-weight="bold" fill="#000">200</text>
<line x1="361" y1="209.85" x2="364.4" y2="209.85" stroke="#1a1a1a" stroke-width="1"/>
<text transform="translate(343.78,212.68) scale(1.1200,1)" font-size="8.2" font-weight="bold" fill="#000">400</text>
<line x1="361" y1="188.77" x2="364.4" y2="188.77" stroke="#1a1a1a" stroke-width="1"/>
<text transform="translate(343.78,191.6) scale(1.1200,1)" font-size="8.2" font-weight="bold" fill="#000">600</text>
<line x1="361" y1="167.7" x2="364.4" y2="167.7" stroke="#1a1a1a" stroke-width="1"/>
<text transform="translate(343.78,170.53) scale(1.1200,1)" font-size="8.2" font-weight="bold" fill="#000">800</text>
<line x1="363.9" y1="252" x2="491.8" y2="252" stroke="#1a1a1a" stroke-width="1"/>
<line x1="375" y1="252" x2="375" y2="255.3" stroke="#1a1a1a" stroke-width="1"/>
<text transform="translate(371.57,264.6) scale(1.0600,1)" font-size="9" font-weight="bold" fill="#000">A</text>
<line x1="396.2" y1="252" x2="396.2" y2="255.3" stroke="#1a1a1a" stroke-width="1"/>
<text transform="translate(392.67,264.6) scale(1.0600,1)" font-size="9" font-weight="bold" fill="#000">B</text>
<line x1="417.4" y1="252" x2="417.4" y2="255.3" stroke="#1a1a1a" stroke-width="1"/>
<text transform="translate(413.89,264.6) scale(1.0600,1)" font-size="9" font-weight="bold" fill="#000">C</text>
<line x1="438.6" y1="252" x2="438.6" y2="255.3" stroke="#1a1a1a" stroke-width="1"/>
<text transform="translate(435.05,264.6) scale(1.0600,1)" font-size="9" font-weight="bold" fill="#000">D</text>
<line x1="459.8" y1="252" x2="459.8" y2="255.3" stroke="#1a1a1a" stroke-width="1"/>
<text transform="translate(456.48,264.6) scale(1.0600,1)" font-size="9" font-weight="bold" fill="#000">E</text>
<line x1="481" y1="252" x2="481" y2="255.3" stroke="#1a1a1a" stroke-width="1"/>
<text transform="translate(477.95,264.6) scale(1.0600,1)" font-size="9" font-weight="bold" fill="#000">F</text>
<rect x="461.9" y="164.2" width="9" height="5.8" fill="#ff0000"/>
<rect x="461.9" y="175.6" width="9" height="5.5" fill="#0000ff"/>
<text transform="translate(475.9,170) scale(0.9155,1)" font-size="8.7" font-weight="bold" fill="#000">WT</text>
<text transform="translate(475.34,181.22) scale(1.0389,1)" font-size="8.31" font-weight="bold" fill="#000">KO</text>
<text transform="translate(341.09,236.18) rotate(-90) scale(0.8363,1)" font-size="10.75" font-weight="bold" fill="#000">MFI of CD127</text>
<line x1="48.1" y1="792.86" x2="48.1" y2="790.52" stroke="#ff0000" stroke-width="0.9"/>
<line x1="46" y1="790.52" x2="50.2" y2="790.52" stroke="#ff0000" stroke-width="0.9"/>
<rect x="44.8" y="792.86" width="6.6" height="17.14" fill="#ff0000"/>
<line x1="54.7" y1="794.03" x2="54.7" y2="791.3" stroke="#0000ff" stroke-width="0.9"/>
<line x1="52.6" y1="791.3" x2="56.8" y2="791.3" stroke="#0000ff" stroke-width="0.9"/>
<rect x="51.4" y="794.03" width="6.6" height="15.97" fill="#0000ff"/>
<line x1="67.5" y1="801.04" x2="67.5" y2="799.48" stroke="#ff0000" stroke-width="0.9"/>
<line x1="65.4" y1="799.48" x2="69.6" y2="799.48" stroke="#ff0000" stroke-width="0.9"/>
<rect x="64.2" y="801.04" width="6.6" height="8.96" fill="#ff0000"/>
<line x1="74.1" y1="802.99" x2="74.1" y2="801.43" stroke="#0000ff" stroke-width="0.9"/>
<line x1="72" y1="801.43" x2="76.2" y2="801.43" stroke="#0000ff" stroke-width="0.9"/>
<rect x="70.8" y="802.99" width="6.6" height="7.01" fill="#0000ff"/>
<line x1="86.9" y1="758.98" x2="86.9" y2="754.3" stroke="#ff0000" stroke-width="0.9"/>
<line x1="84.8" y1="754.3" x2="89" y2="754.3" stroke="#ff0000" stroke-width="0.9"/>
<rect x="83.6" y="758.98" width="6.6" height="51.02" fill="#ff0000"/>
<line x1="93.5" y1="757.03" x2="93.5" y2="749.63" stroke="#0000ff" stroke-width="0.9"/>
<line x1="91.4" y1="749.63" x2="95.6" y2="749.63" stroke="#0000ff" stroke-width="0.9"/>
<rect x="90.2" y="757.03" width="6.6" height="52.97" fill="#0000ff"/>
<line x1="106.3" y1="766.77" x2="106.3" y2="763.65" stroke="#ff0000" stroke-width="0.9"/>
<line x1="104.2" y1="763.65" x2="108.4" y2="763.65" stroke="#ff0000" stroke-width="0.9"/>
<rect x="103" y="766.77" width="6.6" height="43.23" fill="#ff0000"/>
<line x1="112.9" y1="776.89" x2="112.9" y2="773" stroke="#0000ff" stroke-width="0.9"/>
<line x1="110.8" y1="773" x2="115" y2="773" stroke="#0000ff" stroke-width="0.9"/>
<rect x="109.6" y="776.89" width="6.6" height="33.11" fill="#0000ff"/>
<line x1="125.7" y1="791.3" x2="125.7" y2="789.36" stroke="#ff0000" stroke-width="0.9"/>
<line x1="123.6" y1="789.36" x2="127.8" y2="789.36" stroke="#ff0000" stroke-width="0.9"/>
<rect x="122.4" y="791.3" width="6.6" height="18.7" fill="#ff0000"/>
<line x1="132.3" y1="792.86" x2="132.3" y2="790.14" stroke="#0000ff" stroke-width="0.9"/>
<line x1="130.2" y1="790.14" x2="134.4" y2="790.14" stroke="#0000ff" stroke-width="0.9"/>
<rect x="129" y="792.86" width="6.6" height="17.14" fill="#0000ff"/>
<line x1="145.1" y1="791.69" x2="145.1" y2="788.58" stroke="#ff0000" stroke-width="0.9"/>
<line x1="143" y1="788.58" x2="147.2" y2="788.58" stroke="#ff0000" stroke-width="0.9"/>
<rect x="141.8" y="791.69" width="6.6" height="18.31" fill="#ff0000"/>
<line x1="151.7" y1="793.64" x2="151.7" y2="790.91" stroke="#0000ff" stroke-width="0.9"/>
<line x1="149.6" y1="790.91" x2="153.8" y2="790.91" stroke="#0000ff" stroke-width="0.9"/>
<rect x="148.4" y="793.64" width="6.6" height="16.36" fill="#0000ff"/>
<line x1="40.9" y1="731.7" x2="40.9" y2="810.5" stroke="#1a1a1a" stroke-width="1"/>
<line x1="37.5" y1="810" x2="40.9" y2="810" stroke="#1a1a1a" stroke-width="1"/>
<text transform="translate(32.36,812.69) scale(1.0300,1)" font-size="7.8" font-weight="bold" fill="#000">0</text>
<line x1="37.5" y1="790.52" x2="40.9" y2="790.52" stroke="#1a1a1a" stroke-width="1"/>
<text transform="translate(32.24,793.18) scale(1.0300,1)" font-size="7.8" font-weight="bold" fill="#000">5</text>
<line x1="37.5" y1="771.05" x2="40.9" y2="771.05" stroke="#1a1a1a" stroke-width="1"/>
<text transform="translate(27.9,773.74) scale(1.0300,1)" font-size="7.8" font-weight="bold" fill="#000">10</text>
<line x1="37.5" y1="751.58" x2="40.9" y2="751.58" stroke="#1a1a1a" stroke-width="1"/>
<text transform="translate(27.78,754.23) scale(1.0300,1)" font-size="7.8" font-weight="bold" fill="#000">15</text>
<line x1="37.5" y1="732.1" x2="40.9" y2="732.1" stroke="#1a1a1a" stroke-width="1"/>
<text transform="translate(27.9,734.79) scale(1.0300,1)" font-size="7.8" font-weight="bold" fill="#000">20</text>
<line x1="40.4" y1="810" x2="158.3" y2="810" stroke="#1a1a1a" stroke-width="1"/>
<line x1="51.4" y1="810" x2="51.4" y2="813.3" stroke="#1a1a1a" stroke-width="1"/>
<text transform="translate(47.67,821.9) scale(1.0600,1)" font-size="9.5" font-weight="bold" fill="#000">B</text>
<line x1="70.8" y1="810" x2="70.8" y2="813.3" stroke="#1a1a1a" stroke-width="1"/>
<text transform="translate(63.7,821.9) scale(1.0600,1)" font-size="9.5" font-weight="bold" fill="#000">FO</text>
<line x1="90.2" y1="810" x2="90.2" y2="813.3" stroke="#1a1a1a" stroke-width="1"/>
<text transform="translate(85.29,821.9) scale(1.0600,1)" font-size="9.5" font-weight="bold" fill="#000">IS</text>
<line x1="109.6" y1="810" x2="109.6" y2="813.3" stroke="#1a1a1a" stroke-width="1"/>
<text transform="translate(102.12,821.9) scale(1.0600,1)" font-size="9.5" font-weight="bold" fill="#000">MZ</text>
<line x1="129" y1="810" x2="129" y2="813.3" stroke="#1a1a1a" stroke-width="1"/>
<text transform="translate(123.21,821.9) scale(1.0600,1)" font-size="9.5" font-weight="bold" fill="#000">T1</text>
<line x1="148.4" y1="810" x2="148.4" y2="813.3" stroke="#1a1a1a" stroke-width="1"/>
<text transform="translate(142.69,821.9) scale(1.0600,1)" font-size="9.5" font-weight="bold" fill="#000">T2</text>
<rect x="131.1" y="729.3" width="8.2" height="5" fill="#ff0000"/>
<rect x="131.1" y="740.1" width="8.2" height="4.7" fill="#0000ff"/>
<text transform="translate(144,734.6) scale(0.9331,1)" font-size="8.12" font-weight="bold" fill="#000">WT</text>
<text transform="translate(143.48,744.83) scale(1.1217,1)" font-size="7.18" font-weight="bold" fill="#000">KO</text>
<text transform="translate(23.7,799.21) rotate(-90) scale(0.8784,1)" font-size="9.57" font-weight="bold" fill="#000"><tspan>Annexin V</tspan><tspan dy="-3.63" font-size="5.93">+</tspan><tspan dy="3.63"> (%)</tspan></text>
<line x1="209.45" y1="777.12" x2="209.45" y2="775.21" stroke="#ff0000" stroke-width="0.9"/>
<line x1="207.35" y1="775.21" x2="211.55" y2="775.21" stroke="#ff0000" stroke-width="0.9"/>
<rect x="206.4" y="777.12" width="6.1" height="32.38" fill="#ff0000"/>
<line x1="215.55" y1="777.59" x2="215.55" y2="776.16" stroke="#0000ff" stroke-width="0.9"/>
<line x1="213.45" y1="776.16" x2="217.65" y2="776.16" stroke="#0000ff" stroke-width="0.9"/>
<rect x="212.5" y="777.59" width="6.1" height="31.91" fill="#0000ff"/>
<line x1="228.55" y1="779.02" x2="228.55" y2="777.59" stroke="#ff0000" stroke-width="0.9"/>
<line x1="226.45" y1="777.59" x2="230.65" y2="777.59" stroke="#ff0000" stroke-width="0.9"/>
<rect x="225.5" y="779.02" width="6.1" height="30.48" fill="#ff0000"/>
<line x1="234.65" y1="779.02" x2="234.65" y2="777.59" stroke="#0000ff" stroke-width="0.9"/>
<line x1="232.55" y1="777.59" x2="236.75" y2="777.59" stroke="#0000ff" stroke-width="0.9"/>
<rect x="231.6" y="779.02" width="6.1" height="30.48" fill="#0000ff"/>
<line x1="247.65" y1="772.35" x2="247.65" y2="770.45" stroke="#ff0000" stroke-width="0.9"/>
<line x1="245.55" y1="770.45" x2="249.75" y2="770.45" stroke="#ff0000" stroke-width="0.9"/>
<rect x="244.6" y="772.35" width="6.1" height="37.15" fill="#ff0000"/>
<line x1="253.75" y1="772.83" x2="253.75" y2="770.45" stroke="#0000ff" stroke-width="0.9"/>
<line x1="251.65" y1="770.45" x2="255.85" y2="770.45" stroke="#0000ff" stroke-width="0.9"/>
<rect x="250.7" y="772.83" width="6.1" height="36.67" fill="#0000ff"/>
<line x1="266.75" y1="744.73" x2="266.75" y2="740.44" stroke="#ff0000" stroke-width="0.9"/>
<line x1="264.65" y1="740.44" x2="268.85" y2="740.44" stroke="#ff0000" stroke-width="0.9"/>
<rect x="263.7" y="744.73" width="6.1" height="64.77" fill="#ff0000"/>
<line x1="272.85" y1="752.35" x2="272.85" y2="747.11" stroke="#0000ff" stroke-width="0.9"/>
<line x1="270.75" y1="747.11" x2="274.95" y2="747.11" stroke="#0000ff" stroke-width="0.9"/>
<rect x="269.8" y="752.35" width="6.1" height="57.15" fill="#0000ff"/>
<line x1="285.85" y1="778.07" x2="285.85" y2="776.64" stroke="#ff0000" stroke-width="0.9"/>
<line x1="283.75" y1="776.64" x2="287.95" y2="776.64" stroke="#ff0000" stroke-width="0.9"/>
<rect x="282.8" y="778.07" width="6.1" height="31.43" fill="#ff0000"/>
<line x1="291.95" y1="777.12" x2="291.95" y2="774.73" stroke="#0000ff" stroke-width="0.9"/>
<line x1="289.85" y1="774.73" x2="294.05" y2="774.73" stroke="#0000ff" stroke-width="0.9"/>
<rect x="288.9" y="777.12" width="6.1" height="32.38" fill="#0000ff"/>
<line x1="304.95" y1="770.92" x2="304.95" y2="768.54" stroke="#ff0000" stroke-width="0.9"/>
<line x1="302.85" y1="768.54" x2="307.05" y2="768.54" stroke="#ff0000" stroke-width="0.9"/>
<rect x="301.9" y="770.92" width="6.1" height="38.58" fill="#ff0000"/>
<line x1="311.05" y1="770.92" x2="311.05" y2="769.02" stroke="#0000ff" stroke-width="0.9"/>
<line x1="308.95" y1="769.02" x2="313.15" y2="769.02" stroke="#0000ff" stroke-width="0.9"/>
<rect x="308" y="770.92" width="6.1" height="38.58" fill="#0000ff"/>
<line x1="202.6" y1="732.9" x2="202.6" y2="810" stroke="#1a1a1a" stroke-width="1"/>
<line x1="199.2" y1="809.5" x2="202.6" y2="809.5" stroke="#1a1a1a" stroke-width="1"/>
<text transform="translate(194.06,812.19) scale(1.0300,1)" font-size="7.8" font-weight="bold" fill="#000">0</text>
<line x1="199.2" y1="790.45" x2="202.6" y2="790.45" stroke="#1a1a1a" stroke-width="1"/>
<text transform="translate(185.14,793.14) scale(1.0300,1)" font-size="7.8" font-weight="bold" fill="#000">200</text>
<line x1="199.2" y1="771.4" x2="202.6" y2="771.4" stroke="#1a1a1a" stroke-width="1"/>
<text transform="translate(185.14,774.09) scale(1.0300,1)" font-size="7.8" font-weight="bold" fill="#000">400</text>
<line x1="199.2" y1="752.35" x2="202.6" y2="752.35" stroke="#1a1a1a" stroke-width="1"/>
<text transform="translate(185.14,755.04) scale(1.0300,1)" font-size="7.8" font-weight="bold" fill="#000">600</text>
<line x1="199.2" y1="733.3" x2="202.6" y2="733.3" stroke="#1a1a1a" stroke-width="1"/>
<text transform="translate(185.14,735.99) scale(1.0300,1)" font-size="7.8" font-weight="bold" fill="#000">800</text>
<line x1="202.1" y1="809.5" x2="316.3" y2="809.5" stroke="#1a1a1a" stroke-width="1"/>
<line x1="212.5" y1="809.5" x2="212.5" y2="812.8" stroke="#1a1a1a" stroke-width="1"/>
<text transform="translate(208.77,821.7) scale(1.0600,1)" font-size="9.5" font-weight="bold" fill="#000">B</text>
<line x1="231.6" y1="809.5" x2="231.6" y2="812.8" stroke="#1a1a1a" stroke-width="1"/>
<text transform="translate(224.5,821.7) scale(1.0600,1)" font-size="9.5" font-weight="bold" fill="#000">FO</text>
<line x1="250.7" y1="809.5" x2="250.7" y2="812.8" stroke="#1a1a1a" stroke-width="1"/>
<text transform="translate(245.79,821.7) scale(1.0600,1)" font-size="9.5" font-weight="bold" fill="#000">IS</text>
<line x1="269.8" y1="809.5" x2="269.8" y2="812.8" stroke="#1a1a1a" stroke-width="1"/>
<text transform="translate(262.32,821.7) scale(1.0600,1)" font-size="9.5" font-weight="bold" fill="#000">MZ</text>
<line x1="288.9" y1="809.5" x2="288.9" y2="812.8" stroke="#1a1a1a" stroke-width="1"/>
<text transform="translate(283.11,821.7) scale(1.0600,1)" font-size="9.5" font-weight="bold" fill="#000">T1</text>
<line x1="308" y1="809.5" x2="308" y2="812.8" stroke="#1a1a1a" stroke-width="1"/>
<text transform="translate(302.29,821.7) scale(1.0600,1)" font-size="9.5" font-weight="bold" fill="#000">T2</text>
<rect x="290.8" y="730.1" width="8.2" height="5.6" fill="#ff0000"/>
<rect x="290.8" y="740.6" width="8.2" height="5.2" fill="#0000ff"/>
<text transform="translate(303.7,735.5) scale(0.9263,1)" font-size="7.83" font-weight="bold" fill="#000">WT</text>
<text transform="translate(303.21,745.82) scale(0.9409,1)" font-size="8.03" font-weight="bold" fill="#000">KO</text>
<text transform="translate(180.51,802.13) rotate(-90) scale(0.9145,1)" font-size="8.84" font-weight="bold" fill="#000">MFI of Annexin V</text>
<line x1="414.3" y1="786.29" x2="414.3" y2="778.72" stroke="#f7a0a0" stroke-width="0.8"/>
<line x1="412.2" y1="778.72" x2="416.4" y2="778.72" stroke="#f7a0a0" stroke-width="0.8"/>
<rect x="411.3" y="786.29" width="6" height="22.71" fill="#ff4040"/>
<line x1="420.3" y1="784.78" x2="420.3" y2="781.75" stroke="#a0a0f7" stroke-width="0.8"/>
<line x1="418.2" y1="781.75" x2="422.4" y2="781.75" stroke="#a0a0f7" stroke-width="0.8"/>
<rect x="417.3" y="784.78" width="6" height="24.22" fill="#4040ff"/>
<line x1="433.1" y1="797.27" x2="433.1" y2="793.1" stroke="#f7a0a0" stroke-width="0.8"/>
<line x1="431" y1="793.1" x2="435.2" y2="793.1" stroke="#f7a0a0" stroke-width="0.8"/>
<rect x="430.1" y="797.27" width="6" height="11.73" fill="#ff4040"/>
<line x1="439.1" y1="799.92" x2="439.1" y2="798.4" stroke="#a0a0f7" stroke-width="0.8"/>
<line x1="437" y1="798.4" x2="441.2" y2="798.4" stroke="#a0a0f7" stroke-width="0.8"/>
<rect x="436.1" y="799.92" width="6" height="9.08" fill="#4040ff"/>
<line x1="451.9" y1="771.91" x2="451.9" y2="763.58" stroke="#f7a0a0" stroke-width="0.8"/>
<line x1="449.8" y1="763.58" x2="454" y2="763.58" stroke="#f7a0a0" stroke-width="0.8"/>
<rect x="448.9" y="771.91" width="6" height="37.09" fill="#ff4040"/>
<line x1="457.9" y1="774.18" x2="457.9" y2="772.66" stroke="#a0a0f7" stroke-width="0.8"/>
<line x1="455.8" y1="772.66" x2="460" y2="772.66" stroke="#a0a0f7" stroke-width="0.8"/>
<rect x="454.9" y="774.18" width="6" height="34.82" fill="#4040ff"/>
<line x1="470.7" y1="796.89" x2="470.7" y2="794.24" stroke="#f7a0a0" stroke-width="0.8"/>
<line x1="468.6" y1="794.24" x2="472.8" y2="794.24" stroke="#f7a0a0" stroke-width="0.8"/>
<rect x="467.7" y="796.89" width="6" height="12.11" fill="#ff4040"/>
<line x1="476.7" y1="798.4" x2="476.7" y2="797.64" stroke="#a0a0f7" stroke-width="0.8"/>
<line x1="474.6" y1="797.64" x2="478.8" y2="797.64" stroke="#a0a0f7" stroke-width="0.8"/>
<rect x="473.7" y="798.4" width="6" height="10.6" fill="#4040ff"/>
<line x1="489.5" y1="757.15" x2="489.5" y2="748.44" stroke="#f7a0a0" stroke-width="0.8"/>
<line x1="487.4" y1="748.44" x2="491.6" y2="748.44" stroke="#f7a0a0" stroke-width="0.8"/>
<rect x="486.5" y="757.15" width="6" height="51.85" fill="#ff4040"/>
<line x1="495.5" y1="754.5" x2="495.5" y2="752.22" stroke="#a0a0f7" stroke-width="0.8"/>
<line x1="493.4" y1="752.22" x2="497.6" y2="752.22" stroke="#a0a0f7" stroke-width="0.8"/>
<rect x="492.5" y="754.5" width="6" height="54.5" fill="#4040ff"/>
<line x1="508.3" y1="787.05" x2="508.3" y2="776.45" stroke="#f7a0a0" stroke-width="0.8"/>
<line x1="506.2" y1="776.45" x2="510.4" y2="776.45" stroke="#f7a0a0" stroke-width="0.8"/>
<rect x="505.3" y="787.05" width="6" height="21.95" fill="#ff4040"/>
<line x1="514.3" y1="791.59" x2="514.3" y2="789.32" stroke="#a0a0f7" stroke-width="0.8"/>
<line x1="512.2" y1="789.32" x2="516.4" y2="789.32" stroke="#a0a0f7" stroke-width="0.8"/>
<rect x="511.3" y="791.59" width="6" height="17.41" fill="#4040ff"/>
<line x1="407.4" y1="732.9" x2="407.4" y2="809.5" stroke="#1a1a1a" stroke-width="1"/>
<line x1="404" y1="809" x2="407.4" y2="809" stroke="#1a1a1a" stroke-width="1"/>
<text transform="translate(398.56,811.69) scale(1.0300,1)" font-size="7.8" font-weight="bold" fill="#000">0</text>
<line x1="404" y1="793.86" x2="407.4" y2="793.86" stroke="#1a1a1a" stroke-width="1"/>
<text transform="translate(394.1,796.55) scale(1.0300,1)" font-size="7.8" font-weight="bold" fill="#000">20</text>
<line x1="404" y1="778.72" x2="407.4" y2="778.72" stroke="#1a1a1a" stroke-width="1"/>
<text transform="translate(394.1,781.41) scale(1.0300,1)" font-size="7.8" font-weight="bold" fill="#000">40</text>
<line x1="404" y1="763.58" x2="407.4" y2="763.58" stroke="#1a1a1a" stroke-width="1"/>
<text transform="translate(394.1,766.27) scale(1.0300,1)" font-size="7.8" font-weight="bold" fill="#000">60</text>
<line x1="404" y1="748.44" x2="407.4" y2="748.44" stroke="#1a1a1a" stroke-width="1"/>
<text transform="translate(394.1,751.13) scale(1.0300,1)" font-size="7.8" font-weight="bold" fill="#000">80</text>
<line x1="404" y1="733.3" x2="407.4" y2="733.3" stroke="#1a1a1a" stroke-width="1"/>
<text transform="translate(389.64,735.99) scale(1.0300,1)" font-size="7.8" font-weight="bold" fill="#000">100</text>
<line x1="406.9" y1="809" x2="520.4" y2="809" stroke="#1a1a1a" stroke-width="1"/>
<line x1="417.3" y1="809" x2="417.3" y2="812.3" stroke="#1a1a1a" stroke-width="1"/>
<text transform="translate(413.57,820.7) scale(1.0600,1)" font-size="9.5" font-weight="bold" fill="#000">B</text>
<line x1="436.1" y1="809" x2="436.1" y2="812.3" stroke="#1a1a1a" stroke-width="1"/>
<text transform="translate(429,820.7) scale(1.0600,1)" font-size="9.5" font-weight="bold" fill="#000">FO</text>
<line x1="454.9" y1="809" x2="454.9" y2="812.3" stroke="#1a1a1a" stroke-width="1"/>
<text transform="translate(449.99,820.7) scale(1.0600,1)" font-size="9.5" font-weight="bold" fill="#000">IS</text>
<line x1="473.7" y1="809" x2="473.7" y2="812.3" stroke="#1a1a1a" stroke-width="1"/>
<text transform="translate(466.22,820.7) scale(1.0600,1)" font-size="9.5" font-weight="bold" fill="#000">MZ</text>
<line x1="492.5" y1="809" x2="492.5" y2="812.3" stroke="#1a1a1a" stroke-width="1"/>
<text transform="translate(486.71,820.7) scale(1.0600,1)" font-size="9.5" font-weight="bold" fill="#000">T1</text>
<line x1="511.3" y1="809" x2="511.3" y2="812.3" stroke="#1a1a1a" stroke-width="1"/>
<text transform="translate(505.59,820.7) scale(1.0600,1)" font-size="9.5" font-weight="bold" fill="#000">T2</text>
<rect x="493.8" y="721" width="8.2" height="5.7" fill="#ff4040"/>
<rect x="493.8" y="734.1" width="8.2" height="5.6" fill="#4040ff"/>
<text transform="translate(506.7,726.6) scale(0.9591,1)" font-size="8.84" font-weight="bold" fill="#000">WT</text>
<text transform="translate(506.13,739.71) scale(0.9969,1)" font-size="8.73" font-weight="bold" fill="#000">KO</text>
<text transform="translate(385,789.87) rotate(-90) scale(1.0028,1)" font-size="8.7" font-weight="bold" fill="#000"><tspan>Ki-67</tspan><tspan dy="-3.3" font-size="5.39">+</tspan><tspan dy="3.3"> (%)</tspan></text>
<line x1="575.95" y1="784.47" x2="575.95" y2="781.75" stroke="#f7a0a0" stroke-width="0.8"/>
<line x1="573.85" y1="781.75" x2="578.05" y2="781.75" stroke="#f7a0a0" stroke-width="0.8"/>
<rect x="573.1" y="784.47" width="5.7" height="23.63" fill="#ff4040"/>
<line x1="581.65" y1="785.38" x2="581.65" y2="784.02" stroke="#a0a0f7" stroke-width="0.8"/>
<line x1="579.55" y1="784.02" x2="583.75" y2="784.02" stroke="#a0a0f7" stroke-width="0.8"/>
<rect x="578.8" y="785.38" width="5.7" height="22.72" fill="#4040ff"/>
<line x1="594" y1="791.29" x2="594" y2="790.83" stroke="#f7a0a0" stroke-width="0.8"/>
<line x1="591.9" y1="790.83" x2="596.1" y2="790.83" stroke="#f7a0a0" stroke-width="0.8"/>
<rect x="591.15" y="791.29" width="5.7" height="16.81" fill="#ff4040"/>
<line x1="599.7" y1="791.74" x2="599.7" y2="791.29" stroke="#a0a0f7" stroke-width="0.8"/>
<line x1="597.6" y1="791.29" x2="601.8" y2="791.29" stroke="#a0a0f7" stroke-width="0.8"/>
<rect x="596.85" y="791.74" width="5.7" height="16.36" fill="#4040ff"/>
<line x1="612.05" y1="764.03" x2="612.05" y2="754.48" stroke="#f7a0a0" stroke-width="0.8"/>
<line x1="609.95" y1="754.48" x2="614.15" y2="754.48" stroke="#f7a0a0" stroke-width="0.8"/>
<rect x="609.2" y="764.03" width="5.7" height="44.07" fill="#ff4040"/>
<line x1="617.75" y1="779.47" x2="617.75" y2="777.66" stroke="#a0a0f7" stroke-width="0.8"/>
<line x1="615.65" y1="777.66" x2="619.85" y2="777.66" stroke="#a0a0f7" stroke-width="0.8"/>
<rect x="614.9" y="779.47" width="5.7" height="28.63" fill="#4040ff"/>
<line x1="630.1" y1="786.74" x2="630.1" y2="786.29" stroke="#f7a0a0" stroke-width="0.8"/>
<line x1="628" y1="786.29" x2="632.2" y2="786.29" stroke="#f7a0a0" stroke-width="0.8"/>
<rect x="627.25" y="786.74" width="5.7" height="21.36" fill="#ff4040"/>
<line x1="635.8" y1="789.02" x2="635.8" y2="787.65" stroke="#a0a0f7" stroke-width="0.8"/>
<line x1="633.7" y1="787.65" x2="637.9" y2="787.65" stroke="#a0a0f7" stroke-width="0.8"/>
<rect x="632.95" y="789.02" width="5.7" height="19.08" fill="#4040ff"/>
<line x1="648.15" y1="779.93" x2="648.15" y2="775.38" stroke="#f7a0a0" stroke-width="0.8"/>
<line x1="646.05" y1="775.38" x2="650.25" y2="775.38" stroke="#f7a0a0" stroke-width="0.8"/>
<rect x="645.3" y="779.93" width="5.7" height="28.17" fill="#ff4040"/>
<line x1="653.85" y1="778.11" x2="653.85" y2="775.38" stroke="#a0a0f7" stroke-width="0.8"/>
<line x1="651.75" y1="775.38" x2="655.95" y2="775.38" stroke="#a0a0f7" stroke-width="0.8"/>
<rect x="651" y="778.11" width="5.7" height="29.99" fill="#4040ff"/>
<line x1="666.2" y1="788.56" x2="666.2" y2="787.65" stroke="#f7a0a0" stroke-width="0.8"/>
<line x1="664.1" y1="787.65" x2="668.3" y2="787.65" stroke="#f7a0a0" stroke-width="0.8"/>
<rect x="663.35" y="788.56" width="5.7" height="19.54" fill="#ff4040"/>
<line x1="671.9" y1="789.47" x2="671.9" y2="788.11" stroke="#a0a0f7" stroke-width="0.8"/>
<line x1="669.8" y1="788.11" x2="674" y2="788.11" stroke="#a0a0f7" stroke-width="0.8"/>
<rect x="669.05" y="789.47" width="5.7" height="18.63" fill="#4040ff"/>
<line x1="568.9" y1="735" x2="568.9" y2="808.6" stroke="#1a1a1a" stroke-width="1"/>
<line x1="565.9" y1="808.1" x2="568.9" y2="808.1" stroke="#1a1a1a" stroke-width="1"/>
<text transform="translate(561.16,810.79) scale(1.0300,1)" font-size="7.8" font-weight="bold" fill="#000">0</text>
<line x1="565.9" y1="789.92" x2="568.9" y2="789.92" stroke="#1a1a1a" stroke-width="1"/>
<text transform="translate(543.29,792.62) scale(1.0300,1)" font-size="7.8" font-weight="bold" fill="#000">20000</text>
<line x1="565.9" y1="771.75" x2="568.9" y2="771.75" stroke="#1a1a1a" stroke-width="1"/>
<text transform="translate(543.29,774.44) scale(1.0300,1)" font-size="7.8" font-weight="bold" fill="#000">40000</text>
<line x1="565.9" y1="753.58" x2="568.9" y2="753.58" stroke="#1a1a1a" stroke-width="1"/>
<text transform="translate(543.29,756.27) scale(1.0300,1)" font-size="7.8" font-weight="bold" fill="#000">60000</text>
<line x1="565.9" y1="735.4" x2="568.9" y2="735.4" stroke="#1a1a1a" stroke-width="1"/>
<text transform="translate(543.29,738.09) scale(1.0300,1)" font-size="7.8" font-weight="bold" fill="#000">80000</text>
<line x1="568.4" y1="808.1" x2="677" y2="808.1" stroke="#1a1a1a" stroke-width="1"/>
<line x1="578.8" y1="808.1" x2="578.8" y2="811.4" stroke="#1a1a1a" stroke-width="1"/>
<text transform="translate(575.07,819.8) scale(1.0600,1)" font-size="9.5" font-weight="bold" fill="#000">B</text>
<line x1="596.85" y1="808.1" x2="596.85" y2="811.4" stroke="#1a1a1a" stroke-width="1"/>
<text transform="translate(589.75,819.8) scale(1.0600,1)" font-size="9.5" font-weight="bold" fill="#000">FO</text>
<line x1="614.9" y1="808.1" x2="614.9" y2="811.4" stroke="#1a1a1a" stroke-width="1"/>
<text transform="translate(609.99,819.8) scale(1.0600,1)" font-size="9.5" font-weight="bold" fill="#000">IS</text>
<line x1="632.95" y1="808.1" x2="632.95" y2="811.4" stroke="#1a1a1a" stroke-width="1"/>
<text transform="translate(625.47,819.8) scale(1.0600,1)" font-size="9.5" font-weight="bold" fill="#000">MZ</text>
<line x1="651" y1="808.1" x2="651" y2="811.4" stroke="#1a1a1a" stroke-width="1"/>
<text transform="translate(645.21,819.8) scale(1.0600,1)" font-size="9.5" font-weight="bold" fill="#000">T1</text>
<line x1="669.05" y1="808.1" x2="669.05" y2="811.4" stroke="#1a1a1a" stroke-width="1"/>
<text transform="translate(663.34,819.8) scale(1.0600,1)" font-size="9.5" font-weight="bold" fill="#000">T2</text>
<rect x="651.7" y="726.9" width="7.6" height="5.7" fill="#ff4040"/>
<rect x="651.7" y="739.3" width="7.6" height="5.5" fill="#4040ff"/>
<text transform="translate(664,732.3) scale(0.9689,1)" font-size="8.55" font-weight="bold" fill="#000">WT</text>
<text transform="translate(663.45,744.72) scale(1.0763,1)" font-size="7.89" font-weight="bold" fill="#000">KO</text>
<text transform="translate(539.02,791.51) rotate(-90) scale(0.9672,1)" font-size="8.16" font-weight="bold" fill="#000">MFI of Ki-67</text>
<rect x="362.05" y="336.55" width="13.6" height="59.45" fill="#fff" stroke="#1a1a1a" stroke-width="1.3"/>
<rect x="385.65" y="333.95" width="13.8" height="62.05" fill="#fff" stroke="#1a1a1a" stroke-width="1.3"/>
<circle cx="368.8" cy="324.5" r="1.35" fill="#ff1010"/>
<circle cx="366" cy="327.8" r="1.35" fill="#ff1010"/>
<circle cx="371.4" cy="328.4" r="1.35" fill="#ff1010"/>
<circle cx="363.5" cy="343.5" r="1.35" fill="#ff1010"/>
<circle cx="368.8" cy="343.8" r="1.35" fill="#ff1010"/>
<circle cx="374" cy="345.9" r="1.35" fill="#ff1010"/>
<rect x="385.85" y="323.85" width="2.7" height="2.7" fill="#1010ff"/>
<rect x="391.15" y="325.35" width="2.7" height="2.7" fill="#1010ff"/>
<rect x="396.55" y="322.25" width="2.7" height="2.7" fill="#1010ff"/>
<rect x="385.85" y="339.65" width="2.7" height="2.7" fill="#1010ff"/>
<rect x="391.15" y="340.35" width="2.7" height="2.7" fill="#1010ff"/>
<rect x="396.55" y="341.35" width="2.7" height="2.7" fill="#1010ff"/>
<line x1="368.8" y1="331.3" x2="368.8" y2="339.4" stroke="#ee2020" stroke-width="1"/>
<line x1="364.9" y1="331.3" x2="372.7" y2="331.3" stroke="#ee2020" stroke-width="1"/>
<line x1="364.9" y1="339.4" x2="372.7" y2="339.4" stroke="#ee2020" stroke-width="1"/>
<line x1="392.5" y1="329.5" x2="392.5" y2="337.2" stroke="#2020ee" stroke-width="1"/>
<line x1="388.6" y1="329.5" x2="396.4" y2="329.5" stroke="#2020ee" stroke-width="1"/>
<line x1="388.6" y1="337.2" x2="396.4" y2="337.2" stroke="#2020ee" stroke-width="1"/>
<line x1="353.1" y1="313.5" x2="353.1" y2="396.5" stroke="#222" stroke-width="1"/>
<line x1="349.9" y1="396" x2="353.1" y2="396" stroke="#222" stroke-width="1"/>
<text transform="translate(343.95,399.35) scale(0.9500,1)" font-size="9.7" font-weight="bold" fill="#000">0</text>
<line x1="349.9" y1="379.58" x2="353.1" y2="379.58" stroke="#222" stroke-width="1"/>
<text transform="translate(338.7,382.88) scale(0.9500,1)" font-size="9.7" font-weight="bold" fill="#000">15</text>
<line x1="349.9" y1="363.16" x2="353.1" y2="363.16" stroke="#222" stroke-width="1"/>
<text transform="translate(338.84,366.51) scale(0.9500,1)" font-size="9.7" font-weight="bold" fill="#000">30</text>
<line x1="349.9" y1="346.74" x2="353.1" y2="346.74" stroke="#222" stroke-width="1"/>
<text transform="translate(338.7,350.04) scale(0.9500,1)" font-size="9.7" font-weight="bold" fill="#000">45</text>
<line x1="349.9" y1="330.32" x2="353.1" y2="330.32" stroke="#222" stroke-width="1"/>
<text transform="translate(338.84,333.67) scale(0.9500,1)" font-size="9.7" font-weight="bold" fill="#000">60</text>
<line x1="349.9" y1="313.9" x2="353.1" y2="313.9" stroke="#222" stroke-width="1"/>
<text transform="translate(338.7,317.2) scale(0.9500,1)" font-size="9.7" font-weight="bold" fill="#000">75</text>
<line x1="352.6" y1="396" x2="406.8" y2="396" stroke="#222" stroke-width="1.1"/>
<line x1="368.85" y1="396" x2="368.85" y2="399" stroke="#222" stroke-width="1"/>
<line x1="392.55" y1="396" x2="392.55" y2="399" stroke="#222" stroke-width="1"/>
<text transform="translate(361.6,409.1) scale(1.2323,1)" font-size="7.83" font-weight="bold" fill="#000">WT</text>
<text transform="translate(385.09,409.02) scale(1.2391,1)" font-size="7.61" font-weight="bold" fill="#000">KO</text>
<line x1="367.1" y1="314.7" x2="392.5" y2="314.7" stroke="#1a1a1a" stroke-width="1.4"/>
<text transform="translate(374.07,310.4) scale(1.0000,1)" font-size="10.2" font-weight="normal" fill="#000">ns</text>
<text transform="translate(333.61,377.32) rotate(-90) scale(0.9680,1)" font-size="8.98" font-weight="bold" fill="#000">% of B cells</text>
<rect x="454.95" y="366.85" width="12.7" height="28.65" fill="#fff" stroke="#1a1a1a" stroke-width="1.3"/>
<rect x="476.85" y="364.75" width="13.1" height="30.75" fill="#fff" stroke="#1a1a1a" stroke-width="1.3"/>
<circle cx="461.3" cy="345.2" r="1.35" fill="#ff1010"/>
<circle cx="461.3" cy="352.5" r="1.35" fill="#ff1010"/>
<circle cx="461.3" cy="359.3" r="1.35" fill="#ff1010"/>
<circle cx="461.3" cy="373.8" r="1.35" fill="#ff1010"/>
<circle cx="459.7" cy="380.4" r="1.35" fill="#ff1010"/>
<circle cx="462.6" cy="383.4" r="1.35" fill="#ff1010"/>
<rect x="482.15" y="339.25" width="2.7" height="2.7" fill="#1010ff"/>
<rect x="482.15" y="344.85" width="2.7" height="2.7" fill="#1010ff"/>
<rect x="482.15" y="360.15" width="2.7" height="2.7" fill="#1010ff"/>
<rect x="476.85" y="377.15" width="2.7" height="2.7" fill="#1010ff"/>
<rect x="482.15" y="377.15" width="2.7" height="2.7" fill="#1010ff"/>
<rect x="487.25" y="378.05" width="2.7" height="2.7" fill="#1010ff"/>
<line x1="461.3" y1="359.3" x2="461.3" y2="372.5" stroke="#ee2020" stroke-width="1"/>
<line x1="457.4" y1="359.3" x2="465.2" y2="359.3" stroke="#ee2020" stroke-width="1"/>
<line x1="457.4" y1="372.5" x2="465.2" y2="372.5" stroke="#ee2020" stroke-width="1"/>
<line x1="483.5" y1="357.1" x2="483.5" y2="371.1" stroke="#2020ee" stroke-width="1"/>
<line x1="479.6" y1="357.1" x2="487.4" y2="357.1" stroke="#2020ee" stroke-width="1"/>
<line x1="479.6" y1="371.1" x2="487.4" y2="371.1" stroke="#2020ee" stroke-width="1"/>
<line x1="446.1" y1="317" x2="446.1" y2="396" stroke="#222" stroke-width="1"/>
<line x1="442.9" y1="395.5" x2="446.1" y2="395.5" stroke="#222" stroke-width="1"/>
<text transform="translate(436.95,398.85) scale(0.9500,1)" font-size="9.7" font-weight="bold" fill="#000">0</text>
<line x1="442.9" y1="369.47" x2="446.1" y2="369.47" stroke="#222" stroke-width="1"/>
<text transform="translate(426.73,372.81) scale(0.9500,1)" font-size="9.7" font-weight="bold" fill="#000">150</text>
<line x1="442.9" y1="343.43" x2="446.1" y2="343.43" stroke="#222" stroke-width="1"/>
<text transform="translate(426.73,346.78) scale(0.9500,1)" font-size="9.7" font-weight="bold" fill="#000">300</text>
<line x1="442.9" y1="317.4" x2="446.1" y2="317.4" stroke="#222" stroke-width="1"/>
<text transform="translate(426.73,320.75) scale(0.9500,1)" font-size="9.7" font-weight="bold" fill="#000">450</text>
<line x1="445.6" y1="395.5" x2="498" y2="395.5" stroke="#222" stroke-width="1.1"/>
<line x1="461.3" y1="395.5" x2="461.3" y2="398.5" stroke="#222" stroke-width="1"/>
<line x1="483.4" y1="395.5" x2="483.4" y2="398.5" stroke="#222" stroke-width="1"/>
<text transform="translate(455.2,407.4) scale(1.0255,1)" font-size="7.83" font-weight="bold" fill="#000">WT</text>
<text transform="translate(477.82,407.32) scale(1.1729,1)" font-size="7.61" font-weight="bold" fill="#000">KO</text>
<line x1="459.8" y1="318.5" x2="483.4" y2="318.5" stroke="#1a1a1a" stroke-width="1.4"/>
<text transform="translate(465.97,314.6) scale(1.0000,1)" font-size="10.2" font-weight="normal" fill="#000">ns</text>
<text transform="translate(423.2,387.65) rotate(-90) scale(0.9679,1)" font-size="8.7" font-weight="bold" fill="#000"><tspan>FO B cells (x10</tspan><tspan dy="-3.3" font-size="5.39">5</tspan><tspan dy="3.3">)</tspan></text>
<rect x="541.45" y="369.05" width="14.2" height="27.45" fill="#fff" stroke="#1a1a1a" stroke-width="1.3"/>
<rect x="566.35" y="360.35" width="14" height="36.15" fill="#fff" stroke="#1a1a1a" stroke-width="1.3"/>
<circle cx="548.4" cy="342.3" r="1.35" fill="#ff1010"/>
<circle cx="548.4" cy="359.8" r="1.35" fill="#ff1010"/>
<circle cx="543" cy="372.8" r="1.35" fill="#ff1010"/>
<circle cx="548.4" cy="375.5" r="1.35" fill="#ff1010"/>
<circle cx="554.3" cy="376.6" r="1.35" fill="#ff1010"/>
<circle cx="548.4" cy="380.5" r="1.35" fill="#ff1010"/>
<rect x="571.95" y="349.15" width="2.7" height="2.7" fill="#1010ff"/>
<rect x="570.35" y="353.75" width="2.7" height="2.7" fill="#1010ff"/>
<rect x="573.95" y="355.15" width="2.7" height="2.7" fill="#1010ff"/>
<rect x="570.65" y="358.65" width="2.7" height="2.7" fill="#1010ff"/>
<rect x="573.65" y="361.15" width="2.7" height="2.7" fill="#1010ff"/>
<rect x="571.95" y="368.85" width="2.7" height="2.7" fill="#1010ff"/>
<line x1="548.4" y1="362" x2="548.4" y2="373.1" stroke="#ee2020" stroke-width="1"/>
<line x1="544.5" y1="362" x2="552.3" y2="362" stroke="#ee2020" stroke-width="1"/>
<line x1="544.5" y1="373.1" x2="552.3" y2="373.1" stroke="#ee2020" stroke-width="1"/>
<line x1="573.3" y1="356" x2="573.3" y2="361.4" stroke="#2020ee" stroke-width="1"/>
<line x1="569.4" y1="356" x2="577.2" y2="356" stroke="#2020ee" stroke-width="1"/>
<line x1="569.4" y1="361.4" x2="577.2" y2="361.4" stroke="#2020ee" stroke-width="1"/>
<line x1="532.5" y1="309.3" x2="532.5" y2="397" stroke="#222" stroke-width="1"/>
<line x1="529.3" y1="396.5" x2="532.5" y2="396.5" stroke="#222" stroke-width="1"/>
<text transform="translate(523.35,399.85) scale(0.9500,1)" font-size="9.7" font-weight="bold" fill="#000">0</text>
<line x1="529.3" y1="367.57" x2="532.5" y2="367.57" stroke="#222" stroke-width="1"/>
<text transform="translate(523.35,370.96) scale(0.9500,1)" font-size="9.7" font-weight="bold" fill="#000">2</text>
<line x1="529.3" y1="338.63" x2="532.5" y2="338.63" stroke="#222" stroke-width="1"/>
<text transform="translate(523.03,341.98) scale(0.9500,1)" font-size="9.7" font-weight="bold" fill="#000">4</text>
<line x1="529.3" y1="309.7" x2="532.5" y2="309.7" stroke="#222" stroke-width="1"/>
<text transform="translate(523.31,313.05) scale(0.9500,1)" font-size="9.7" font-weight="bold" fill="#000">6</text>
<line x1="532" y1="396.5" x2="590.1" y2="396.5" stroke="#222" stroke-width="1.1"/>
<line x1="548.55" y1="396.5" x2="548.55" y2="399.5" stroke="#222" stroke-width="1"/>
<line x1="573.35" y1="396.5" x2="573.35" y2="399.5" stroke="#222" stroke-width="1"/>
<text transform="translate(541.2,409) scale(1.2555,1)" font-size="7.68" font-weight="bold" fill="#000">WT</text>
<text transform="translate(565.96,408.93) scale(1.3107,1)" font-size="7.46" font-weight="bold" fill="#000">KO</text>
<line x1="547.1" y1="311" x2="572.9" y2="311" stroke="#1a1a1a" stroke-width="1.4"/>
<text transform="translate(554.37,306) scale(1.0000,1)" font-size="10.2" font-weight="normal" fill="#000">ns</text>
<text transform="translate(516.9,376.43) rotate(-90) scale(0.9563,1)" font-size="9.52" font-weight="bold" fill="#000">% of B cells</text>
<rect x="635.65" y="376.35" width="13.4" height="19.85" fill="#fff" stroke="#1a1a1a" stroke-width="1.3"/>
<rect x="658.75" y="364.95" width="13.3" height="31.25" fill="#fff" stroke="#1a1a1a" stroke-width="1.3"/>
<circle cx="642.2" cy="368.5" r="1.35" fill="#ff1010"/>
<circle cx="637.3" cy="371.2" r="1.35" fill="#ff1010"/>
<circle cx="642.2" cy="373.4" r="1.35" fill="#ff1010"/>
<circle cx="647.5" cy="373.9" r="1.35" fill="#ff1010"/>
<circle cx="639.6" cy="381.3" r="1.35" fill="#ff1010"/>
<circle cx="645" cy="384" r="1.35" fill="#ff1010"/>
<rect x="664.35" y="338.75" width="2.7" height="2.7" fill="#1010ff"/>
<rect x="664.35" y="345.05" width="2.7" height="2.7" fill="#1010ff"/>
<rect x="664.35" y="365.65" width="2.7" height="2.7" fill="#1010ff"/>
<rect x="662.65" y="371.25" width="2.7" height="2.7" fill="#1010ff"/>
<rect x="665.65" y="372.15" width="2.7" height="2.7" fill="#1010ff"/>
<rect x="664.35" y="381.05" width="2.7" height="2.7" fill="#1010ff"/>
<line x1="642.2" y1="372.2" x2="642.2" y2="377.3" stroke="#ee2020" stroke-width="1"/>
<line x1="638.3" y1="372.2" x2="646.1" y2="372.2" stroke="#ee2020" stroke-width="1"/>
<line x1="638.3" y1="377.3" x2="646.1" y2="377.3" stroke="#ee2020" stroke-width="1"/>
<line x1="665.7" y1="356.9" x2="665.7" y2="370.6" stroke="#2020ee" stroke-width="1"/>
<line x1="661.8" y1="356.9" x2="669.6" y2="356.9" stroke="#2020ee" stroke-width="1"/>
<line x1="661.8" y1="370.6" x2="669.6" y2="370.6" stroke="#2020ee" stroke-width="1"/>
<line x1="626.9" y1="314.4" x2="626.9" y2="396.7" stroke="#222" stroke-width="1"/>
<line x1="623.7" y1="396.2" x2="626.9" y2="396.2" stroke="#222" stroke-width="1"/>
<text transform="translate(617.75,399.55) scale(0.9500,1)" font-size="9.7" font-weight="bold" fill="#000">0</text>
<line x1="623.7" y1="375.85" x2="626.9" y2="375.85" stroke="#222" stroke-width="1"/>
<text transform="translate(617.62,379.15) scale(0.9500,1)" font-size="9.7" font-weight="bold" fill="#000">5</text>
<line x1="623.7" y1="355.5" x2="626.9" y2="355.5" stroke="#222" stroke-width="1"/>
<text transform="translate(612.64,358.85) scale(0.9500,1)" font-size="9.7" font-weight="bold" fill="#000">10</text>
<line x1="623.7" y1="335.15" x2="626.9" y2="335.15" stroke="#222" stroke-width="1"/>
<text transform="translate(612.5,338.45) scale(0.9500,1)" font-size="9.7" font-weight="bold" fill="#000">15</text>
<line x1="623.7" y1="314.8" x2="626.9" y2="314.8" stroke="#222" stroke-width="1"/>
<text transform="translate(612.64,318.15) scale(0.9500,1)" font-size="9.7" font-weight="bold" fill="#000">20</text>
<line x1="626.4" y1="396.2" x2="680.8" y2="396.2" stroke="#222" stroke-width="1.1"/>
<line x1="642.35" y1="396.2" x2="642.35" y2="399.2" stroke="#222" stroke-width="1"/>
<line x1="665.4" y1="396.2" x2="665.4" y2="399.2" stroke="#222" stroke-width="1"/>
<text transform="translate(635.8,408) scale(0.9825,1)" font-size="8.7" font-weight="bold" fill="#000">WT</text>
<text transform="translate(658.28,407.92) scale(1.1237,1)" font-size="8.45" font-weight="bold" fill="#000">KO</text>
<line x1="641.1" y1="315.8" x2="665.4" y2="315.8" stroke="#1a1a1a" stroke-width="1.4"/>
<text transform="translate(647.47,311.7) scale(1.0000,1)" font-size="10.2" font-weight="normal" fill="#000">ns</text>
<text transform="translate(607.9,386.37) rotate(-90) scale(0.9084,1)" font-size="9.71" font-weight="bold" fill="#000"><tspan>IS B cells (x10</tspan><tspan dy="-3.69" font-size="6.02">5</tspan><tspan dy="3.69">)</tspan></text>
<rect x="361.75" y="486.05" width="13.7" height="45.95" fill="#fff" stroke="#1a1a1a" stroke-width="1.3"/>
<rect x="385.65" y="489.95" width="13.1" height="42.05" fill="#fff" stroke="#1a1a1a" stroke-width="1.3"/>
<circle cx="368.6" cy="458.4" r="1.35" fill="#ff1010"/>
<circle cx="368.6" cy="485" r="1.35" fill="#ff1010"/>
<circle cx="366.5" cy="490.6" r="1.35" fill="#ff1010"/>
<circle cx="370.5" cy="490" r="1.35" fill="#ff1010"/>
<circle cx="370.1" cy="494.3" r="1.35" fill="#ff1010"/>
<circle cx="368.6" cy="488.6" r="1.35" fill="#ff1010"/>
<rect x="390.95" y="464.15" width="2.7" height="2.7" fill="#1010ff"/>
<rect x="389.15" y="485.95" width="2.7" height="2.7" fill="#1010ff"/>
<rect x="392.45" y="486.65" width="2.7" height="2.7" fill="#1010ff"/>
<rect x="390.95" y="491.65" width="2.7" height="2.7" fill="#1010ff"/>
<rect x="389.15" y="495.85" width="2.7" height="2.7" fill="#1010ff"/>
<rect x="393.45" y="499.05" width="2.7" height="2.7" fill="#1010ff"/>
<line x1="368.6" y1="479.7" x2="368.6" y2="490.5" stroke="#ee2020" stroke-width="1"/>
<line x1="364.7" y1="479.7" x2="372.5" y2="479.7" stroke="#ee2020" stroke-width="1"/>
<line x1="364.7" y1="490.5" x2="372.5" y2="490.5" stroke="#ee2020" stroke-width="1"/>
<line x1="392.3" y1="483.5" x2="392.3" y2="493.7" stroke="#2020ee" stroke-width="1"/>
<line x1="388.4" y1="483.5" x2="396.2" y2="483.5" stroke="#2020ee" stroke-width="1"/>
<line x1="388.4" y1="493.7" x2="396.2" y2="493.7" stroke="#2020ee" stroke-width="1"/>
<line x1="352.9" y1="448.4" x2="352.9" y2="532.5" stroke="#222" stroke-width="1"/>
<line x1="349.7" y1="532" x2="352.9" y2="532" stroke="#222" stroke-width="1"/>
<text transform="translate(343.75,535.35) scale(0.9500,1)" font-size="9.7" font-weight="bold" fill="#000">0</text>
<line x1="349.7" y1="504.27" x2="352.9" y2="504.27" stroke="#222" stroke-width="1"/>
<text transform="translate(338.64,507.61) scale(0.9500,1)" font-size="9.7" font-weight="bold" fill="#000">10</text>
<line x1="349.7" y1="476.53" x2="352.9" y2="476.53" stroke="#222" stroke-width="1"/>
<text transform="translate(338.64,479.88) scale(0.9500,1)" font-size="9.7" font-weight="bold" fill="#000">20</text>
<line x1="349.7" y1="448.8" x2="352.9" y2="448.8" stroke="#222" stroke-width="1"/>
<text transform="translate(338.64,452.15) scale(0.9500,1)" font-size="9.7" font-weight="bold" fill="#000">30</text>
<line x1="352.4" y1="532" x2="406.8" y2="532" stroke="#222" stroke-width="1.1"/>
<line x1="368.6" y1="532" x2="368.6" y2="535" stroke="#222" stroke-width="1"/>
<line x1="392.2" y1="532" x2="392.2" y2="535" stroke="#222" stroke-width="1"/>
<text transform="translate(361.6,544.4) scale(1.0237,1)" font-size="9.42" font-weight="bold" fill="#000">WT</text>
<text transform="translate(385.09,544.31) scale(1.0294,1)" font-size="9.15" font-weight="bold" fill="#000">KO</text>
<line x1="367.1" y1="450.3" x2="392" y2="450.3" stroke="#1a1a1a" stroke-width="1.4"/>
<text transform="translate(373.97,445.8) scale(1.0000,1)" font-size="10.2" font-weight="normal" fill="#000">ns</text>
<text transform="translate(333.6,512.82) rotate(-90) scale(0.9127,1)" font-size="9.52" font-weight="bold" fill="#000">% of B cells</text>
<rect x="455.75" y="494.05" width="13.3" height="38.25" fill="#fff" stroke="#1a1a1a" stroke-width="1.3"/>
<rect x="478.15" y="498.05" width="13" height="34.25" fill="#fff" stroke="#1a1a1a" stroke-width="1.3"/>
<circle cx="464.1" cy="476.1" r="1.35" fill="#ff1010"/>
<circle cx="461" cy="479.5" r="1.35" fill="#ff1010"/>
<circle cx="461" cy="485.3" r="1.35" fill="#ff1010"/>
<circle cx="464.4" cy="488.1" r="1.35" fill="#ff1010"/>
<circle cx="462.1" cy="512.1" r="1.35" fill="#ff1010"/>
<circle cx="462.1" cy="517.2" r="1.35" fill="#ff1010"/>
<rect x="483.35" y="476.95" width="2.7" height="2.7" fill="#1010ff"/>
<rect x="483.35" y="487.25" width="2.7" height="2.7" fill="#1010ff"/>
<rect x="483.35" y="495.85" width="2.7" height="2.7" fill="#1010ff"/>
<rect x="483.35" y="507.05" width="2.7" height="2.7" fill="#1010ff"/>
<rect x="483.35" y="511.25" width="2.7" height="2.7" fill="#1010ff"/>
<rect x="481.15" y="495.15" width="2.7" height="2.7" fill="#1010ff"/>
<line x1="462.1" y1="485.7" x2="462.1" y2="500" stroke="#ee2020" stroke-width="1"/>
<line x1="458.2" y1="485.7" x2="466" y2="485.7" stroke="#ee2020" stroke-width="1"/>
<line x1="458.2" y1="500" x2="466" y2="500" stroke="#ee2020" stroke-width="1"/>
<line x1="484.7" y1="492.3" x2="484.7" y2="502.3" stroke="#2020ee" stroke-width="1"/>
<line x1="480.8" y1="492.3" x2="488.6" y2="492.3" stroke="#2020ee" stroke-width="1"/>
<line x1="480.8" y1="502.3" x2="488.6" y2="502.3" stroke="#2020ee" stroke-width="1"/>
<line x1="447.5" y1="454.3" x2="447.5" y2="532.8" stroke="#222" stroke-width="1"/>
<line x1="444.3" y1="532.3" x2="447.5" y2="532.3" stroke="#222" stroke-width="1"/>
<text transform="translate(438.35,535.65) scale(0.9500,1)" font-size="9.7" font-weight="bold" fill="#000">0</text>
<line x1="444.3" y1="516.78" x2="447.5" y2="516.78" stroke="#222" stroke-width="1"/>
<text transform="translate(433.24,520.13) scale(0.9500,1)" font-size="9.7" font-weight="bold" fill="#000">20</text>
<line x1="444.3" y1="501.26" x2="447.5" y2="501.26" stroke="#222" stroke-width="1"/>
<text transform="translate(433.24,504.61) scale(0.9500,1)" font-size="9.7" font-weight="bold" fill="#000">40</text>
<line x1="444.3" y1="485.74" x2="447.5" y2="485.74" stroke="#222" stroke-width="1"/>
<text transform="translate(433.24,489.09) scale(0.9500,1)" font-size="9.7" font-weight="bold" fill="#000">60</text>
<line x1="444.3" y1="470.22" x2="447.5" y2="470.22" stroke="#222" stroke-width="1"/>
<text transform="translate(433.24,473.57) scale(0.9500,1)" font-size="9.7" font-weight="bold" fill="#000">80</text>
<line x1="444.3" y1="454.7" x2="447.5" y2="454.7" stroke="#222" stroke-width="1"/>
<text transform="translate(428.13,458.05) scale(0.9500,1)" font-size="9.7" font-weight="bold" fill="#000">100</text>
<line x1="447" y1="532.3" x2="498" y2="532.3" stroke="#222" stroke-width="1.1"/>
<line x1="462.4" y1="532.3" x2="462.4" y2="535.3" stroke="#222" stroke-width="1"/>
<line x1="484.65" y1="532.3" x2="484.65" y2="535.3" stroke="#222" stroke-width="1"/>
<text transform="translate(455.8,544) scale(1.2638,1)" font-size="6.81" font-weight="bold" fill="#000">WT</text>
<text transform="translate(477.8,543.93) scale(1.3911,1)" font-size="6.62" font-weight="bold" fill="#000">KO</text>
<line x1="461.1" y1="455.6" x2="484.8" y2="455.6" stroke="#1a1a1a" stroke-width="1.4"/>
<text transform="translate(466.87,451.5) scale(1.0000,1)" font-size="10.2" font-weight="normal" fill="#000">ns</text>
<text transform="translate(424.8,523.89) rotate(-90) scale(0.8673,1)" font-size="9.86" font-weight="bold" fill="#000"><tspan>T2 B cells (x10</tspan><tspan dy="-3.74" font-size="6.11">5</tspan><tspan dy="3.74">)</tspan></text>
<rect x="539.75" y="493.65" width="13.9" height="39.95" fill="#fff" stroke="#1a1a1a" stroke-width="1.3"/>
<rect x="563.95" y="495.95" width="13.1" height="37.65" fill="#fff" stroke="#1a1a1a" stroke-width="1.3"/>
<circle cx="545.7" cy="482.3" r="1.35" fill="#ff1010"/>
<circle cx="544.4" cy="484.7" r="1.35" fill="#ff1010"/>
<circle cx="548.3" cy="487.8" r="1.35" fill="#ff1010"/>
<circle cx="546.4" cy="496" r="1.35" fill="#ff1010"/>
<circle cx="545.2" cy="499.6" r="1.35" fill="#ff1010"/>
<circle cx="548.3" cy="502.8" r="1.35" fill="#ff1010"/>
<rect x="569.25" y="478.45" width="2.7" height="2.7" fill="#1010ff"/>
<rect x="569.25" y="483.45" width="2.7" height="2.7" fill="#1010ff"/>
<rect x="569.25" y="491.25" width="2.7" height="2.7" fill="#1010ff"/>
<rect x="568.65" y="498.65" width="2.7" height="2.7" fill="#1010ff"/>
<rect x="570.15" y="499.85" width="2.7" height="2.7" fill="#1010ff"/>
<rect x="569.25" y="509.65" width="2.7" height="2.7" fill="#1010ff"/>
<line x1="546.6" y1="489.2" x2="546.6" y2="496.2" stroke="#ee2020" stroke-width="1"/>
<line x1="542.7" y1="489.2" x2="550.5" y2="489.2" stroke="#ee2020" stroke-width="1"/>
<line x1="542.7" y1="496.2" x2="550.5" y2="496.2" stroke="#ee2020" stroke-width="1"/>
<line x1="570.6" y1="490.4" x2="570.6" y2="499" stroke="#2020ee" stroke-width="1"/>
<line x1="566.7" y1="490.4" x2="574.5" y2="490.4" stroke="#2020ee" stroke-width="1"/>
<line x1="566.7" y1="499" x2="574.5" y2="499" stroke="#2020ee" stroke-width="1"/>
<line x1="531.5" y1="450.5" x2="531.5" y2="534.1" stroke="#222" stroke-width="1"/>
<line x1="528.3" y1="533.6" x2="531.5" y2="533.6" stroke="#222" stroke-width="1"/>
<text transform="translate(522.35,536.95) scale(0.9500,1)" font-size="9.7" font-weight="bold" fill="#000">0</text>
<line x1="528.3" y1="506.03" x2="531.5" y2="506.03" stroke="#222" stroke-width="1"/>
<text transform="translate(517.24,509.38) scale(0.9500,1)" font-size="9.7" font-weight="bold" fill="#000">10</text>
<line x1="528.3" y1="478.47" x2="531.5" y2="478.47" stroke="#222" stroke-width="1"/>
<text transform="translate(517.24,481.81) scale(0.9500,1)" font-size="9.7" font-weight="bold" fill="#000">20</text>
<line x1="528.3" y1="450.9" x2="531.5" y2="450.9" stroke="#222" stroke-width="1"/>
<text transform="translate(517.24,454.25) scale(0.9500,1)" font-size="9.7" font-weight="bold" fill="#000">30</text>
<line x1="531" y1="533.6" x2="588" y2="533.6" stroke="#222" stroke-width="1.1"/>
<line x1="546.7" y1="533.6" x2="546.7" y2="536.6" stroke="#222" stroke-width="1"/>
<line x1="570.5" y1="533.6" x2="570.5" y2="536.6" stroke="#222" stroke-width="1"/>
<text transform="translate(540,546.1) scale(1.0656,1)" font-size="8.26" font-weight="bold" fill="#000">WT</text>
<text transform="translate(563.39,546.02) scale(1.1650,1)" font-size="8.03" font-weight="bold" fill="#000">KO</text>
<line x1="545.4" y1="452.1" x2="570.7" y2="452.1" stroke="#1a1a1a" stroke-width="1.4"/>
<text transform="translate(552.27,447.5) scale(1.0000,1)" font-size="10.2" font-weight="normal" fill="#000">ns</text>
<text transform="translate(511.71,514.82) rotate(-90) scale(0.9474,1)" font-size="9.25" font-weight="bold" fill="#000">% of B cells</text>
<rect x="634.65" y="500.25" width="13" height="31.25" fill="#fff" stroke="#1a1a1a" stroke-width="1.3"/>
<rect x="657.05" y="502.05" width="13.1" height="29.45" fill="#fff" stroke="#1a1a1a" stroke-width="1.3"/>
<circle cx="639.8" cy="492" r="1.35" fill="#ff1010"/>
<circle cx="642.7" cy="491.4" r="1.35" fill="#ff1010"/>
<circle cx="641.1" cy="496.4" r="1.35" fill="#ff1010"/>
<circle cx="643" cy="499.2" r="1.35" fill="#ff1010"/>
<circle cx="641.1" cy="505.6" r="1.35" fill="#ff1010"/>
<circle cx="641.1" cy="511.8" r="1.35" fill="#ff1010"/>
<rect x="662.25" y="485.75" width="2.7" height="2.7" fill="#1010ff"/>
<rect x="656.95" y="500.85" width="2.7" height="2.7" fill="#1010ff"/>
<rect x="662.25" y="499.85" width="2.7" height="2.7" fill="#1010ff"/>
<rect x="666.75" y="502.85" width="2.7" height="2.7" fill="#1010ff"/>
<rect x="662.25" y="508.35" width="2.7" height="2.7" fill="#1010ff"/>
<rect x="662.25" y="497.65" width="2.7" height="2.7" fill="#1010ff"/>
<line x1="641.1" y1="496.2" x2="641.1" y2="502.6" stroke="#ee2020" stroke-width="1"/>
<line x1="637.2" y1="496.2" x2="645" y2="496.2" stroke="#ee2020" stroke-width="1"/>
<line x1="637.2" y1="502.6" x2="645" y2="502.6" stroke="#ee2020" stroke-width="1"/>
<line x1="663.6" y1="498.3" x2="663.6" y2="504.5" stroke="#2020ee" stroke-width="1"/>
<line x1="659.7" y1="498.3" x2="667.5" y2="498.3" stroke="#2020ee" stroke-width="1"/>
<line x1="659.7" y1="504.5" x2="667.5" y2="504.5" stroke="#2020ee" stroke-width="1"/>
<line x1="626.4" y1="452.7" x2="626.4" y2="532" stroke="#222" stroke-width="1"/>
<line x1="623.2" y1="531.5" x2="626.4" y2="531.5" stroke="#222" stroke-width="1"/>
<text transform="translate(617.25,534.85) scale(0.9500,1)" font-size="9.7" font-weight="bold" fill="#000">0</text>
<line x1="623.2" y1="515.82" x2="626.4" y2="515.82" stroke="#222" stroke-width="1"/>
<text transform="translate(612.14,519.17) scale(0.9500,1)" font-size="9.7" font-weight="bold" fill="#000">20</text>
<line x1="623.2" y1="500.14" x2="626.4" y2="500.14" stroke="#222" stroke-width="1"/>
<text transform="translate(612.14,503.49) scale(0.9500,1)" font-size="9.7" font-weight="bold" fill="#000">40</text>
<line x1="623.2" y1="484.46" x2="626.4" y2="484.46" stroke="#222" stroke-width="1"/>
<text transform="translate(612.14,487.81) scale(0.9500,1)" font-size="9.7" font-weight="bold" fill="#000">60</text>
<line x1="623.2" y1="468.78" x2="626.4" y2="468.78" stroke="#222" stroke-width="1"/>
<text transform="translate(612.14,472.13) scale(0.9500,1)" font-size="9.7" font-weight="bold" fill="#000">80</text>
<line x1="623.2" y1="453.1" x2="626.4" y2="453.1" stroke="#222" stroke-width="1"/>
<text transform="translate(607.03,456.45) scale(0.9500,1)" font-size="9.7" font-weight="bold" fill="#000">100</text>
<line x1="625.9" y1="531.5" x2="680" y2="531.5" stroke="#222" stroke-width="1.1"/>
<line x1="641.15" y1="531.5" x2="641.15" y2="534.5" stroke="#222" stroke-width="1"/>
<line x1="663.6" y1="531.5" x2="663.6" y2="534.5" stroke="#222" stroke-width="1"/>
<text transform="translate(634.7,543.4) scale(1.0503,1)" font-size="7.83" font-weight="bold" fill="#000">WT</text>
<text transform="translate(656.71,543.32) scale(1.2013,1)" font-size="7.61" font-weight="bold" fill="#000">KO</text>
<line x1="639.8" y1="454.7" x2="663.4" y2="454.7" stroke="#1a1a1a" stroke-width="1.4"/>
<text transform="translate(645.97,450.5) scale(1.0000,1)" font-size="10.2" font-weight="normal" fill="#000">ns</text>
<text transform="translate(603.4,523.49) rotate(-90) scale(0.9375,1)" font-size="9.13" font-weight="bold" fill="#000"><tspan>T1 B cells (x10</tspan><tspan dy="-3.47" font-size="5.66">5</tspan><tspan dy="3.47">)</tspan></text>
<rect x="362.95" y="618.85" width="15.1" height="48.55" fill="#fff" stroke="#1a1a1a" stroke-width="1.3"/>
<rect x="387.95" y="613.65" width="15" height="53.75" fill="#fff" stroke="#1a1a1a" stroke-width="1.3"/>
<circle cx="368.2" cy="607.6" r="1.35" fill="#ff1010"/>
<circle cx="371.7" cy="605.2" r="1.35" fill="#ff1010"/>
<circle cx="370.6" cy="619.4" r="1.35" fill="#ff1010"/>
<circle cx="370.6" cy="625.3" r="1.35" fill="#ff1010"/>
<circle cx="370.6" cy="636" r="1.35" fill="#ff1010"/>
<circle cx="369.4" cy="611" r="1.35" fill="#ff1010"/>
<rect x="393.95" y="594.75" width="2.7" height="2.7" fill="#1010ff"/>
<rect x="393.95" y="604.05" width="2.7" height="2.7" fill="#1010ff"/>
<rect x="388.55" y="611.45" width="2.7" height="2.7" fill="#1010ff"/>
<rect x="393.95" y="613.55" width="2.7" height="2.7" fill="#1010ff"/>
<rect x="398.95" y="614.15" width="2.7" height="2.7" fill="#1010ff"/>
<rect x="393.95" y="629.15" width="2.7" height="2.7" fill="#1010ff"/>
<line x1="370.6" y1="613.3" x2="370.6" y2="622.4" stroke="#ee2020" stroke-width="1"/>
<line x1="366.7" y1="613.3" x2="374.5" y2="613.3" stroke="#ee2020" stroke-width="1"/>
<line x1="366.7" y1="622.4" x2="374.5" y2="622.4" stroke="#ee2020" stroke-width="1"/>
<line x1="395.3" y1="607.7" x2="395.3" y2="617.2" stroke="#2020ee" stroke-width="1"/>
<line x1="391.4" y1="607.7" x2="399.2" y2="607.7" stroke="#2020ee" stroke-width="1"/>
<line x1="391.4" y1="617.2" x2="399.2" y2="617.2" stroke="#2020ee" stroke-width="1"/>
<line x1="354.2" y1="580.1" x2="354.2" y2="667.9" stroke="#222" stroke-width="1"/>
<line x1="351" y1="667.4" x2="354.2" y2="667.4" stroke="#222" stroke-width="1"/>
<text transform="translate(345.05,670.75) scale(0.9500,1)" font-size="9.7" font-weight="bold" fill="#000">0</text>
<line x1="351" y1="638.43" x2="354.2" y2="638.43" stroke="#222" stroke-width="1"/>
<text transform="translate(345.01,641.78) scale(0.9500,1)" font-size="9.7" font-weight="bold" fill="#000">3</text>
<line x1="351" y1="609.47" x2="354.2" y2="609.47" stroke="#222" stroke-width="1"/>
<text transform="translate(345.01,612.81) scale(0.9500,1)" font-size="9.7" font-weight="bold" fill="#000">6</text>
<line x1="351" y1="580.5" x2="354.2" y2="580.5" stroke="#222" stroke-width="1"/>
<text transform="translate(345.01,583.85) scale(0.9500,1)" font-size="9.7" font-weight="bold" fill="#000">9</text>
<line x1="353.7" y1="667.4" x2="411.7" y2="667.4" stroke="#222" stroke-width="1.1"/>
<line x1="370.5" y1="667.4" x2="370.5" y2="670.4" stroke="#222" stroke-width="1"/>
<line x1="395.45" y1="667.4" x2="395.45" y2="670.4" stroke="#222" stroke-width="1"/>
<text transform="translate(363.6,680.4) scale(0.9995,1)" font-size="9.13" font-weight="bold" fill="#000">WT</text>
<text transform="translate(387.85,680.31) scale(1.1270,1)" font-size="8.87" font-weight="bold" fill="#000">KO</text>
<line x1="369.2" y1="581.9" x2="395" y2="581.9" stroke="#1a1a1a" stroke-width="1.4"/>
<text transform="translate(376.67,577.2) scale(1.0000,1)" font-size="10.2" font-weight="normal" fill="#000">ns</text>
<text transform="translate(338.9,647.73) rotate(-90) scale(0.9563,1)" font-size="9.52" font-weight="bold" fill="#000">% of B cells</text>
<rect x="456.65" y="641.95" width="13.4" height="24.45" fill="#fff" stroke="#1a1a1a" stroke-width="1.3"/>
<rect x="480.25" y="638.65" width="12.7" height="27.75" fill="#fff" stroke="#1a1a1a" stroke-width="1.3"/>
<circle cx="463.3" cy="621.4" r="1.35" fill="#ff1010"/>
<circle cx="458.2" cy="635.6" r="1.35" fill="#ff1010"/>
<circle cx="463.3" cy="638.3" r="1.35" fill="#ff1010"/>
<circle cx="468.3" cy="638.3" r="1.35" fill="#ff1010"/>
<circle cx="463.3" cy="652" r="1.35" fill="#ff1010"/>
<circle cx="463.3" cy="658.9" r="1.35" fill="#ff1010"/>
<rect x="485.25" y="613.45" width="2.7" height="2.7" fill="#1010ff"/>
<rect x="485.25" y="622.55" width="2.7" height="2.7" fill="#1010ff"/>
<rect x="485.25" y="632.35" width="2.7" height="2.7" fill="#1010ff"/>
<rect x="483.75" y="646.75" width="2.7" height="2.7" fill="#1010ff"/>
<rect x="486.75" y="649.05" width="2.7" height="2.7" fill="#1010ff"/>
<rect x="485.25" y="652.65" width="2.7" height="2.7" fill="#1010ff"/>
<line x1="463.3" y1="635.3" x2="463.3" y2="646.2" stroke="#ee2020" stroke-width="1"/>
<line x1="459.4" y1="635.3" x2="467.2" y2="635.3" stroke="#ee2020" stroke-width="1"/>
<line x1="459.4" y1="646.2" x2="467.2" y2="646.2" stroke="#ee2020" stroke-width="1"/>
<line x1="486.6" y1="631.1" x2="486.6" y2="643.4" stroke="#2020ee" stroke-width="1"/>
<line x1="482.7" y1="631.1" x2="490.5" y2="631.1" stroke="#2020ee" stroke-width="1"/>
<line x1="482.7" y1="643.4" x2="490.5" y2="643.4" stroke="#2020ee" stroke-width="1"/>
<line x1="447.9" y1="584.7" x2="447.9" y2="666.9" stroke="#222" stroke-width="1"/>
<line x1="444.7" y1="666.4" x2="447.9" y2="666.4" stroke="#222" stroke-width="1"/>
<text transform="translate(438.75,669.75) scale(0.9500,1)" font-size="9.7" font-weight="bold" fill="#000">0</text>
<line x1="444.7" y1="650.14" x2="447.9" y2="650.14" stroke="#222" stroke-width="1"/>
<text transform="translate(433.64,653.49) scale(0.9500,1)" font-size="9.7" font-weight="bold" fill="#000">10</text>
<line x1="444.7" y1="633.88" x2="447.9" y2="633.88" stroke="#222" stroke-width="1"/>
<text transform="translate(433.64,637.23) scale(0.9500,1)" font-size="9.7" font-weight="bold" fill="#000">20</text>
<line x1="444.7" y1="617.62" x2="447.9" y2="617.62" stroke="#222" stroke-width="1"/>
<text transform="translate(433.64,620.97) scale(0.9500,1)" font-size="9.7" font-weight="bold" fill="#000">30</text>
<line x1="444.7" y1="601.36" x2="447.9" y2="601.36" stroke="#222" stroke-width="1"/>
<text transform="translate(433.64,604.71) scale(0.9500,1)" font-size="9.7" font-weight="bold" fill="#000">40</text>
<line x1="444.7" y1="585.1" x2="447.9" y2="585.1" stroke="#222" stroke-width="1"/>
<text transform="translate(433.64,588.45) scale(0.9500,1)" font-size="9.7" font-weight="bold" fill="#000">50</text>
<line x1="447.4" y1="666.4" x2="500" y2="666.4" stroke="#222" stroke-width="1.1"/>
<line x1="463.35" y1="666.4" x2="463.35" y2="669.4" stroke="#222" stroke-width="1"/>
<line x1="486.6" y1="666.4" x2="486.6" y2="669.4" stroke="#222" stroke-width="1"/>
<text transform="translate(456.6,679) scale(1.0368,1)" font-size="8.12" font-weight="bold" fill="#000">WT</text>
<text transform="translate(479.5,678.92) scale(1.1675,1)" font-size="7.89" font-weight="bold" fill="#000">KO</text>
<line x1="462.2" y1="586.1" x2="486.4" y2="586.1" stroke="#1a1a1a" stroke-width="1.4"/>
<text transform="translate(468.57,582) scale(1.0000,1)" font-size="10.2" font-weight="normal" fill="#000">ns</text>
<text transform="translate(428.9,658.47) rotate(-90) scale(0.8871,1)" font-size="9.86" font-weight="bold" fill="#000"><tspan>MZ B cells (x10</tspan><tspan dy="-3.74" font-size="6.11">5</tspan><tspan dy="3.74">)</tspan></text>
<rect x="546.35" y="610.85" width="13.8" height="54.45" fill="#fff" stroke="#1a1a1a" stroke-width="1.3"/>
<rect x="569.35" y="628.95" width="13.6" height="36.35" fill="#fff" stroke="#1a1a1a" stroke-width="1.3"/>
<circle cx="553" cy="589.7" r="1.35" fill="#ff1010"/>
<circle cx="553" cy="596.8" r="1.35" fill="#ff1010"/>
<circle cx="553" cy="600.8" r="1.35" fill="#ff1010"/>
<circle cx="553" cy="619.6" r="1.35" fill="#ff1010"/>
<circle cx="551.5" cy="625.3" r="1.35" fill="#ff1010"/>
<circle cx="554.7" cy="627.4" r="1.35" fill="#ff1010"/>
<rect x="574.95" y="611.85" width="2.7" height="2.7" fill="#1010ff"/>
<rect x="569.95" y="625.75" width="2.7" height="2.7" fill="#1010ff"/>
<rect x="574.95" y="625.15" width="2.7" height="2.7" fill="#1010ff"/>
<rect x="579.65" y="628.95" width="2.7" height="2.7" fill="#1010ff"/>
<rect x="574.95" y="639.65" width="2.7" height="2.7" fill="#1010ff"/>
<rect x="574.95" y="622.65" width="2.7" height="2.7" fill="#1010ff"/>
<line x1="553" y1="603.5" x2="553" y2="616.1" stroke="#ee2020" stroke-width="1"/>
<line x1="549.1" y1="603.5" x2="556.9" y2="603.5" stroke="#ee2020" stroke-width="1"/>
<line x1="549.1" y1="616.1" x2="556.9" y2="616.1" stroke="#ee2020" stroke-width="1"/>
<line x1="576.3" y1="624.2" x2="576.3" y2="631.2" stroke="#2020ee" stroke-width="1"/>
<line x1="572.4" y1="624.2" x2="580.2" y2="624.2" stroke="#2020ee" stroke-width="1"/>
<line x1="572.4" y1="631.2" x2="580.2" y2="631.2" stroke="#2020ee" stroke-width="1"/>
<line x1="537" y1="583.6" x2="537" y2="665.8" stroke="#222" stroke-width="1"/>
<line x1="533.8" y1="665.3" x2="537" y2="665.3" stroke="#222" stroke-width="1"/>
<text transform="translate(520.16,668.65) scale(0.9500,1)" font-size="9.7" font-weight="bold" fill="#000">0.0</text>
<line x1="533.8" y1="649.04" x2="537" y2="649.04" stroke="#222" stroke-width="1"/>
<text transform="translate(520.16,652.39) scale(0.9500,1)" font-size="9.7" font-weight="bold" fill="#000">0.2</text>
<line x1="533.8" y1="632.78" x2="537" y2="632.78" stroke="#222" stroke-width="1"/>
<text transform="translate(519.84,636.13) scale(0.9500,1)" font-size="9.7" font-weight="bold" fill="#000">0.4</text>
<line x1="533.8" y1="616.52" x2="537" y2="616.52" stroke="#222" stroke-width="1"/>
<text transform="translate(520.11,619.87) scale(0.9500,1)" font-size="9.7" font-weight="bold" fill="#000">0.6</text>
<line x1="533.8" y1="600.26" x2="537" y2="600.26" stroke="#222" stroke-width="1"/>
<text transform="translate(520.07,603.61) scale(0.9500,1)" font-size="9.7" font-weight="bold" fill="#000">0.8</text>
<line x1="533.8" y1="584" x2="537" y2="584" stroke="#222" stroke-width="1"/>
<text transform="translate(520.16,587.35) scale(0.9500,1)" font-size="9.7" font-weight="bold" fill="#000">1.0</text>
<line x1="536.5" y1="665.3" x2="592" y2="665.3" stroke="#222" stroke-width="1.1"/>
<line x1="553.25" y1="665.3" x2="553.25" y2="668.3" stroke="#222" stroke-width="1"/>
<line x1="576.15" y1="665.3" x2="576.15" y2="668.3" stroke="#222" stroke-width="1"/>
<text transform="translate(546.5,677.6) scale(1.0295,1)" font-size="8.55" font-weight="bold" fill="#000">WT</text>
<text transform="translate(569.28,677.52) scale(1.1428,1)" font-size="8.31" font-weight="bold" fill="#000">KO</text>
<line x1="551.3" y1="585" x2="575.9" y2="585" stroke="#1a1a1a" stroke-width="1.4"/>
<text transform="translate(561.43,586.04) scale(0.8867,1)" font-size="15.14" font-weight="bold" fill="#000">*</text>
<text transform="translate(516.6,646.71) rotate(-90) scale(0.8995,1)" font-size="9.52" font-weight="bold" fill="#000">% of B cells</text>
<rect x="634.45" y="610.75" width="14.6" height="54.15" fill="#fff" stroke="#1a1a1a" stroke-width="1.3"/>
<rect x="658.95" y="630.95" width="14.4" height="33.95" fill="#fff" stroke="#1a1a1a" stroke-width="1.3"/>
<circle cx="641.6" cy="593.4" r="1.35" fill="#ff1010"/>
<circle cx="641.6" cy="598.2" r="1.35" fill="#ff1010"/>
<circle cx="641.6" cy="605.6" r="1.35" fill="#ff1010"/>
<circle cx="641.6" cy="610.4" r="1.35" fill="#ff1010"/>
<circle cx="641.6" cy="621.3" r="1.35" fill="#ff1010"/>
<circle cx="641.6" cy="630.5" r="1.35" fill="#ff1010"/>
<rect x="664.75" y="616.05" width="2.7" height="2.7" fill="#1010ff"/>
<rect x="664.75" y="624.55" width="2.7" height="2.7" fill="#1010ff"/>
<rect x="659.15" y="628.15" width="2.7" height="2.7" fill="#1010ff"/>
<rect x="664.75" y="628.95" width="2.7" height="2.7" fill="#1010ff"/>
<rect x="669.95" y="631.15" width="2.7" height="2.7" fill="#1010ff"/>
<rect x="664.75" y="641.55" width="2.7" height="2.7" fill="#1010ff"/>
<line x1="641.6" y1="604.1" x2="641.6" y2="615.3" stroke="#ee2020" stroke-width="1"/>
<line x1="637.7" y1="604.1" x2="645.5" y2="604.1" stroke="#ee2020" stroke-width="1"/>
<line x1="637.7" y1="615.3" x2="645.5" y2="615.3" stroke="#ee2020" stroke-width="1"/>
<line x1="666.1" y1="626.2" x2="666.1" y2="633.7" stroke="#2020ee" stroke-width="1"/>
<line x1="662.2" y1="626.2" x2="670" y2="626.2" stroke="#2020ee" stroke-width="1"/>
<line x1="662.2" y1="633.7" x2="670" y2="633.7" stroke="#2020ee" stroke-width="1"/>
<line x1="625" y1="579" x2="625" y2="665.4" stroke="#222" stroke-width="1"/>
<line x1="621.8" y1="664.9" x2="625" y2="664.9" stroke="#222" stroke-width="1"/>
<text transform="translate(615.85,668.25) scale(0.9500,1)" font-size="9.7" font-weight="bold" fill="#000">0</text>
<line x1="621.8" y1="636.4" x2="625" y2="636.4" stroke="#222" stroke-width="1"/>
<text transform="translate(615.72,639.75) scale(0.9500,1)" font-size="9.7" font-weight="bold" fill="#000">1</text>
<line x1="621.8" y1="607.9" x2="625" y2="607.9" stroke="#222" stroke-width="1"/>
<text transform="translate(615.85,611.29) scale(0.9500,1)" font-size="9.7" font-weight="bold" fill="#000">2</text>
<line x1="621.8" y1="579.4" x2="625" y2="579.4" stroke="#222" stroke-width="1"/>
<text transform="translate(615.81,582.75) scale(0.9500,1)" font-size="9.7" font-weight="bold" fill="#000">3</text>
<line x1="624.5" y1="664.9" x2="682" y2="664.9" stroke="#222" stroke-width="1.1"/>
<line x1="641.75" y1="664.9" x2="641.75" y2="667.9" stroke="#222" stroke-width="1"/>
<line x1="666.15" y1="664.9" x2="666.15" y2="667.9" stroke="#222" stroke-width="1"/>
<text transform="translate(634.5,677.5) scale(1.1165,1)" font-size="8.12" font-weight="bold" fill="#000">WT</text>
<text transform="translate(658.67,677.42) scale(1.2314,1)" font-size="7.89" font-weight="bold" fill="#000">KO</text>
<line x1="640.1" y1="580.8" x2="665.8" y2="580.8" stroke="#1a1a1a" stroke-width="1.4"/>
<text transform="translate(649.82,581.18) scale(1.0839,1)" font-size="14.32" font-weight="bold" fill="#000">*</text>
<text transform="translate(610.9,657.07) rotate(-90) scale(0.9156,1)" font-size="10.14" font-weight="bold" fill="#000"><tspan>GC B cells (x10</tspan><tspan dy="-3.86" font-size="6.29">5</tspan><tspan dy="3.86">)</tspan></text>
</svg></body></html>
